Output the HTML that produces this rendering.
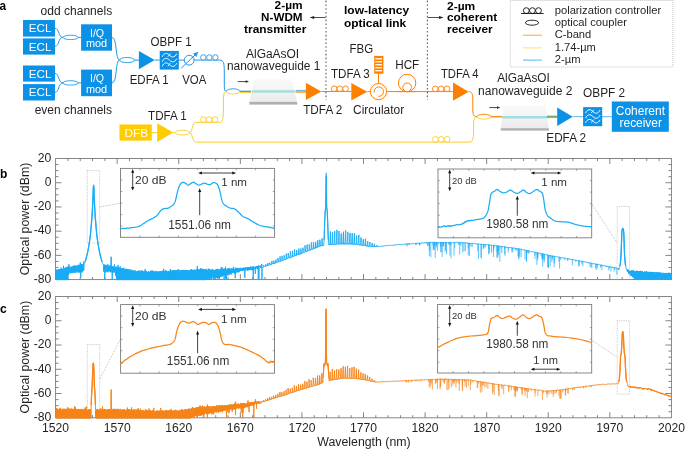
<!DOCTYPE html>
<html><head><meta charset="utf-8"><style>
html,body{margin:0;padding:0;background:#fff;}
svg{display:block;font-family:"Liberation Sans",sans-serif;will-change:transform;}
</style></head><body>
<svg width="685" height="449" viewBox="0 0 685 449">
<defs>
<linearGradient id="wg" x1="0" y1="0" x2="0" y2="1"><stop offset="0" stop-color="#FAFAFA"/><stop offset="0.5" stop-color="#F3F3F3"/><stop offset="1" stop-color="#EBEBEB"/></linearGradient>
<clipPath id="cb"><rect x="55.6" y="158.5" width="615.8" height="121.7"/></clipPath>
<clipPath id="cc"><rect x="55.6" y="296.5" width="615.8" height="121.9"/></clipPath>
</defs>
<rect width="685" height="449" fill="#fff"/>
<text x="-0.4" y="9.6" font-size="12" font-weight="bold" fill="#000" textLength="6.6" lengthAdjust="spacingAndGlyphs">a</text>
<text x="40.6" y="14.6" font-size="12" font-weight="normal" fill="#231F20" textLength="71.6" lengthAdjust="spacingAndGlyphs">odd channels</text>
<rect x="23" y="20" width="32" height="16.6" fill="#0B91E6"/>
<text x="28.8" y="32.3" font-size="11.3" font-weight="normal" fill="#fff" textLength="22.7" lengthAdjust="spacingAndGlyphs">ECL</text>
<rect x="23" y="38.4" width="32" height="16.2" fill="#0B91E6"/>
<text x="28.8" y="50.7" font-size="11.3" font-weight="normal" fill="#fff" textLength="22.7" lengthAdjust="spacingAndGlyphs">ECL</text>
<rect x="23" y="65.5" width="32" height="16.1" fill="#0B91E6"/>
<text x="28.8" y="77.8" font-size="11.3" font-weight="normal" fill="#fff" textLength="22.7" lengthAdjust="spacingAndGlyphs">ECL</text>
<rect x="23" y="84.1" width="32" height="16.4" fill="#0B91E6"/>
<text x="28.8" y="96.4" font-size="11.3" font-weight="normal" fill="#fff" textLength="22.7" lengthAdjust="spacingAndGlyphs">ECL</text>
<rect x="81.1" y="24.3" width="30.9" height="26.4" fill="#0B91E6"/>
<text x="90" y="36.7" font-size="11.5" font-weight="normal" fill="#fff" textLength="14.1" lengthAdjust="spacingAndGlyphs">I/Q</text>
<text x="85.9" y="47.2" font-size="11.5" font-weight="normal" fill="#fff" textLength="21.2" lengthAdjust="spacingAndGlyphs">mod</text>
<rect x="81.1" y="69.6" width="30.9" height="26.6" fill="#0B91E6"/>
<text x="90" y="82" font-size="11.5" font-weight="normal" fill="#fff" textLength="14.1" lengthAdjust="spacingAndGlyphs">I/Q</text>
<text x="85.9" y="92.5" font-size="11.5" font-weight="normal" fill="#fff" textLength="21.2" lengthAdjust="spacingAndGlyphs">mod</text>
<text x="34.7" y="113.8" font-size="12" font-weight="normal" fill="#231F20" textLength="77.3" lengthAdjust="spacingAndGlyphs">even channels</text>
<path d="M55,28.3 C59.5,28.3 58,37.4 63,37.4" stroke="#1E98E8" stroke-width="1.0" fill="none"/>
<path d="M55,46.3 C59.5,46.3 58,37.4 63,37.4" stroke="#1E98E8" stroke-width="1.0" fill="none"/>
<path d="M63,37.4 A7.6,2.2 0 0 1 78.2,37.4" stroke="#1E98E8" stroke-width="0.9" fill="none"/>
<path d="M63,37.4 A7.6,2.2 0 0 0 78.2,37.4" stroke="#1E98E8" stroke-width="0.9" fill="none"/>
<line x1="78.2" y1="37.4" x2="81.1" y2="37.4" stroke="#1E98E8" stroke-width="1.0"/>
<path d="M55,73.5 C59.5,73.5 58,82.9 63,82.9" stroke="#1E98E8" stroke-width="1.0" fill="none"/>
<path d="M55,92.3 C59.5,92.3 58,82.9 63,82.9" stroke="#1E98E8" stroke-width="1.0" fill="none"/>
<path d="M63,82.9 A7.6,2.2 0 0 1 78.2,82.9" stroke="#1E98E8" stroke-width="0.9" fill="none"/>
<path d="M63,82.9 A7.6,2.2 0 0 0 78.2,82.9" stroke="#1E98E8" stroke-width="0.9" fill="none"/>
<line x1="78.2" y1="82.9" x2="81.1" y2="82.9" stroke="#1E98E8" stroke-width="1.0"/>
<path d="M112,37.4 C117.5,37.4 115,60.1 119.6,60.1" stroke="#1E98E8" stroke-width="1.0" fill="none"/>
<path d="M112,82.9 C117.5,82.9 115,60.1 119.6,60.1" stroke="#1E98E8" stroke-width="1.0" fill="none"/>
<path d="M119.6,60.1 A7.5,2.6 0 0 1 134.6,60.1" stroke="#1E98E8" stroke-width="0.9" fill="none"/>
<path d="M119.6,60.1 A7.5,2.6 0 0 0 134.6,60.1" stroke="#1E98E8" stroke-width="0.9" fill="none"/>
<line x1="134.6" y1="60.1" x2="139" y2="60.1" stroke="#1E98E8" stroke-width="1.0"/>
<polygon points="138.9,50.9 154.7,60.1 138.9,69.3" fill="#0B91E6"/>
<line x1="154.7" y1="60.1" x2="159.7" y2="60.1" stroke="#1E98E8" stroke-width="1.0"/>
<rect x="159.7" y="50.9" width="19.1" height="18.7" fill="#0B91E6"/>
<path d="M162.18,56.81 C163.92,52.71 166.83,52.51 169.44,55.11 S174.67,57.71 176.7,53.71" stroke="#fff" stroke-width="0.95" fill="none"/>
<line x1="167.86" y1="56.71" x2="170.46" y2="53.51" stroke="#fff" stroke-width="0.9"/>
<path d="M162.18,61.76 C163.92,57.66 166.83,57.46 169.44,60.06 S174.67,62.66 176.7,58.66" stroke="#fff" stroke-width="0.95" fill="none"/>
<path d="M162.18,66.34 C163.92,62.24 166.83,62.04 169.44,64.64 S174.67,67.24 176.7,63.24" stroke="#fff" stroke-width="0.95" fill="none"/>
<line x1="167.86" y1="66.24" x2="170.46" y2="63.04" stroke="#fff" stroke-width="0.9"/>
<line x1="178.8" y1="60.1" x2="184.3" y2="60.1" stroke="#1E98E8" stroke-width="1.0"/>
<circle cx="189.2" cy="60.2" r="4.9" stroke="#1E98E8" stroke-width="1.0" fill="#fff"/>
<line x1="181.3" y1="68.1" x2="195.5" y2="54.5" stroke="#1E98E8" stroke-width="1.0"/>
<polygon points="198.4,51.7 196.29,56.89 193.13,53.59" fill="#1E98E8"/>
<path d="M194.1,60.1 L219.6,60.1 C223.6,60.1 224.3,63 224.3,72 L224.3,84 C224.3,90 225,91.4 226.3,91.4" stroke="#1E98E8" stroke-width="1.0" fill="none"/>
<circle cx="203.32" cy="57.4" r="2.7" stroke="#1E98E8" stroke-width="0.9" fill="#fff"/>
<circle cx="209.35" cy="57.4" r="2.7" stroke="#1E98E8" stroke-width="0.9" fill="#fff"/>
<circle cx="215.38" cy="57.4" r="2.7" stroke="#1E98E8" stroke-width="0.9" fill="#fff"/>
<text x="150.5" y="45.7" font-size="12" font-weight="normal" fill="#231F20" textLength="41.2" lengthAdjust="spacingAndGlyphs">OBPF 1</text>
<text x="129.7" y="83.8" font-size="12" font-weight="normal" fill="#231F20" textLength="38.9" lengthAdjust="spacingAndGlyphs">EDFA 1</text>
<text x="182.2" y="83.8" font-size="12" font-weight="normal" fill="#231F20" textLength="24.1" lengthAdjust="spacingAndGlyphs">VOA</text>
<rect x="119.5" y="124.5" width="32.3" height="16.1" fill="#FFCC00"/>
<text x="124.5" y="136.5" font-size="11.6" font-weight="normal" fill="#fff" textLength="23.6" lengthAdjust="spacingAndGlyphs">DFB</text>
<line x1="151.8" y1="132.6" x2="157.2" y2="132.6" stroke="#F9CF2A" stroke-width="1.0"/>
<polygon points="157.2,123.2 173.2,132.55 157.2,141.9" fill="#FFCC00"/>
<line x1="173.2" y1="132.6" x2="175.3" y2="132.6" stroke="#F9CF2A" stroke-width="1.0"/>
<path d="M175.3,132.6 A7.1,2.4 0 0 1 189.5,132.6" stroke="#F9CF2A" stroke-width="0.9" fill="none"/>
<path d="M175.3,132.6 A7.1,2.4 0 0 0 189.5,132.6" stroke="#F9CF2A" stroke-width="0.9" fill="none"/>
<path d="M189.5,132.6 C192.5,132.6 192,122.3 196,122.3 L219.6,122.3 C222.8,122.3 223.4,118 223.4,110 L223.4,100 C223.4,93 224.5,91.4 226.3,91.4" stroke="#F9CF2A" stroke-width="1.0" fill="none"/>
<path d="M189.5,132.6 C192.5,132.6 192,142.1 196,142.1 L470,142.1 C472.8,142.1 473.6,138 473.6,130 L473.6,124 C473.6,118.5 474.6,116.7 476.9,116.7" stroke="#F9CF2A" stroke-width="1.0" fill="none"/>
<circle cx="203.25" cy="119.5" r="2.8" stroke="#F9CF2A" stroke-width="0.9" fill="#fff"/>
<circle cx="209.15" cy="119.5" r="2.8" stroke="#F9CF2A" stroke-width="0.9" fill="#fff"/>
<circle cx="215.05" cy="119.5" r="2.8" stroke="#F9CF2A" stroke-width="0.9" fill="#fff"/>
<circle cx="435.42" cy="139.3" r="2.8" stroke="#F9CF2A" stroke-width="0.9" fill="#fff"/>
<circle cx="441.25" cy="139.3" r="2.8" stroke="#F9CF2A" stroke-width="0.9" fill="#fff"/>
<circle cx="447.08" cy="139.3" r="2.8" stroke="#F9CF2A" stroke-width="0.9" fill="#fff"/>
<text x="148.1" y="120.1" font-size="12" font-weight="normal" fill="#231F20" textLength="38.6" lengthAdjust="spacingAndGlyphs">TDFA 1</text>
<path d="M226.2,91.4 A6.8,2.6 0 0 1 239.8,91.4" stroke="#1E98E8" stroke-width="0.9" fill="none"/>
<path d="M226.2,91.4 A6.8,2.6 0 0 0 239.8,91.4" stroke="#F9CF2A" stroke-width="0.9" fill="none"/>
<line x1="239.8" y1="90.7" x2="251" y2="90.7" stroke="#9CCFF2" stroke-width="0.7"/>
<line x1="239.8" y1="92.4" x2="251" y2="92.4" stroke="#F9CF2A" stroke-width="1.0"/>
<line x1="239.8" y1="91.45" x2="251" y2="91.45" stroke="#3F9488" stroke-width="0.9"/>
<polygon points="254.2,78.9 291.6,78.9 297.2,101.9 249.3,101.9" fill="url(#wg)"/>
<rect x="249.3" y="101.9" width="47.9" height="2.7" fill="#B0B0B0"/>
<rect x="252" y="90.15" width="43" height="2.5" fill="#A2DEDF" rx="1.2"/>
<line x1="237.8" y1="81.6" x2="246.48" y2="81.6" stroke="#333" stroke-width="0.9"/>
<polygon points="249,81.6 245.68,83 245.68,80.2" fill="#333"/>
<line x1="295.6" y1="90.4" x2="306.2" y2="90.4" stroke="#3DA8EE" stroke-width="0.9"/>
<line x1="295.6" y1="92.2" x2="306.2" y2="92.2" stroke="#FF8000" stroke-width="0.9"/>
<line x1="295.6" y1="91.3" x2="306.2" y2="91.3" stroke="#B8BE3A" stroke-width="0.9"/>
<polygon points="305.9,82.7 321.3,91.4 305.9,100.1" fill="#FF8000"/>
<line x1="321.3" y1="91.5" x2="351.5" y2="91.5" stroke="#FF8000" stroke-width="1.0"/>
<circle cx="334.15" cy="88.7" r="2.8" stroke="#FF8000" stroke-width="0.9" fill="#fff"/>
<circle cx="339.85" cy="88.7" r="2.8" stroke="#FF8000" stroke-width="0.9" fill="#fff"/>
<circle cx="345.55" cy="88.7" r="2.8" stroke="#FF8000" stroke-width="0.9" fill="#fff"/>
<polygon points="351.3,82.9 367.3,91.7 351.3,100.5" fill="#FF8000"/>
<line x1="367.3" y1="91.6" x2="370.4" y2="91.6" stroke="#FF8000" stroke-width="1.0"/>
<circle cx="378.5" cy="91.6" r="8.1" stroke="#FF8000" stroke-width="1.0" fill="#fff"/>
<path d="M374.2,92.6 A4.7,4.7 0 1 1 378.3,96.3" stroke="#FF8000" stroke-width="1.0" fill="none"/>
<line x1="378.5" y1="83.5" x2="378.5" y2="73.7" stroke="#FF8000" stroke-width="1.0"/>
<rect x="374.2" y="55.9" width="9.2" height="17.8" fill="#FF8000"/>
<line x1="375.3" y1="58.8" x2="382" y2="58.8" stroke="#fff" stroke-width="1.3"/>
<line x1="375.3" y1="61.78" x2="382" y2="61.78" stroke="#fff" stroke-width="1.3"/>
<line x1="375.3" y1="64.76" x2="382" y2="64.76" stroke="#fff" stroke-width="1.3"/>
<line x1="375.3" y1="67.74" x2="382" y2="67.74" stroke="#fff" stroke-width="1.3"/>
<line x1="375.3" y1="70.72" x2="382" y2="70.72" stroke="#fff" stroke-width="1.3"/>
<line x1="386.6" y1="91.6" x2="453.2" y2="91.6" stroke="#FF8000" stroke-width="1.0"/>
<circle cx="407.1" cy="83" r="8.7" stroke="#FF8000" stroke-width="1.0" fill="#fff"/>
<circle cx="407.1" cy="87.3" r="4.3" stroke="#FF8000" stroke-width="1.0" fill="#fff"/>
<line x1="398.4" y1="91.6" x2="416" y2="91.6" stroke="#FF8000" stroke-width="1.0"/>
<circle cx="435.25" cy="88.8" r="2.8" stroke="#FF8000" stroke-width="0.9" fill="#fff"/>
<circle cx="441.15" cy="88.8" r="2.8" stroke="#FF8000" stroke-width="0.9" fill="#fff"/>
<circle cx="447.05" cy="88.8" r="2.8" stroke="#FF8000" stroke-width="0.9" fill="#fff"/>
<polygon points="453,82.5 468.7,91.65 453,100.8" fill="#FF8000"/>
<path d="M468.7,91.6 C471.5,91.6 472.8,93 472.8,100 L472.8,110 C472.8,115.3 474.4,116.7 476.9,116.7" stroke="#FF8000" stroke-width="1.0" fill="none"/>
<path d="M476.9,116.7 A7.1,2.4 0 0 1 491.1,116.7" stroke="#FF8000" stroke-width="0.9" fill="none"/>
<path d="M476.9,116.7 A7.1,2.4 0 0 0 491.1,116.7" stroke="#F9CF2A" stroke-width="0.9" fill="none"/>
<line x1="491" y1="116.4" x2="502" y2="116.4" stroke="#FF8000" stroke-width="1.0"/>
<line x1="491" y1="117.4" x2="502" y2="117.4" stroke="#FFCF1A" stroke-width="0.9"/>
<polygon points="503.8,105.1 545.3,105.1 548.9,128.2 500.8,128.2" fill="url(#wg)"/>
<rect x="500.8" y="128.2" width="48.1" height="2.4" fill="#B0B0B0"/>
<rect x="501.6" y="115.95" width="47.1" height="2.5" fill="#A2DEDF" rx="1.2"/>
<line x1="489.3" y1="107.6" x2="497.78" y2="107.6" stroke="#333" stroke-width="0.9"/>
<polygon points="500.3,107.6 496.98,109 496.98,106.2" fill="#333"/>
<line x1="547" y1="115.6" x2="557.5" y2="115.6" stroke="#9FD3F5" stroke-width="0.8"/>
<line x1="547" y1="117.5" x2="557.5" y2="117.5" stroke="#FF9200" stroke-width="1.0"/>
<line x1="547" y1="116.5" x2="557.5" y2="116.5" stroke="#6FA35A" stroke-width="0.9"/>
<polygon points="557.2,107.5 572.7,116.7 557.2,125.9" fill="#0B91E6"/>
<line x1="572.7" y1="116.7" x2="611.8" y2="116.7" stroke="#5DB7EE" stroke-width="1.0"/>
<rect x="583.1" y="107.1" width="19.1" height="19.1" fill="#0B91E6"/>
<path d="M585.58,113.1 C587.32,109 590.23,108.8 592.84,111.4 S598.07,114 600.1,110" stroke="#fff" stroke-width="0.95" fill="none"/>
<line x1="591.26" y1="113" x2="593.86" y2="109.8" stroke="#fff" stroke-width="0.9"/>
<path d="M585.58,118.16 C587.32,114.06 590.23,113.86 592.84,116.46 S598.07,119.06 600.1,115.06" stroke="#fff" stroke-width="0.95" fill="none"/>
<path d="M585.58,122.84 C587.32,118.74 590.23,118.54 592.84,121.14 S598.07,123.74 600.1,119.74" stroke="#fff" stroke-width="0.95" fill="none"/>
<line x1="591.26" y1="122.74" x2="593.86" y2="119.54" stroke="#fff" stroke-width="0.9"/>
<rect x="611.8" y="101.5" width="57" height="30.3" fill="#0B91E6"/>
<text x="615.8" y="115.4" font-size="12" font-weight="normal" fill="#fff" textLength="49.2" lengthAdjust="spacingAndGlyphs">Coherent</text>
<text x="619.6" y="127" font-size="12" font-weight="normal" fill="#fff" textLength="42.3" lengthAdjust="spacingAndGlyphs">receiver</text>
<text x="246" y="58" font-size="12" font-weight="normal" fill="#231F20" textLength="53.2" lengthAdjust="spacingAndGlyphs">AlGaAsOI</text>
<text x="227" y="70.2" font-size="12" font-weight="normal" fill="#231F20" textLength="93.3" lengthAdjust="spacingAndGlyphs">nanowaveguide 1</text>
<text x="303.2" y="113.8" font-size="12" font-weight="normal" fill="#231F20" textLength="39.2" lengthAdjust="spacingAndGlyphs">TDFA 2</text>
<text x="349.5" y="53.2" font-size="12" font-weight="normal" fill="#231F20" textLength="23.6" lengthAdjust="spacingAndGlyphs">FBG</text>
<text x="395.2" y="69.2" font-size="12" font-weight="normal" fill="#231F20" textLength="24.1" lengthAdjust="spacingAndGlyphs">HCF</text>
<text x="331" y="77.8" font-size="12" font-weight="normal" fill="#231F20" textLength="38.7" lengthAdjust="spacingAndGlyphs">TDFA 3</text>
<text x="353.1" y="113.8" font-size="12" font-weight="normal" fill="#231F20" textLength="51.1" lengthAdjust="spacingAndGlyphs">Circulator</text>
<text x="441" y="78.1" font-size="12" font-weight="normal" fill="#231F20" textLength="37.5" lengthAdjust="spacingAndGlyphs">TDFA 4</text>
<text x="497.2" y="82.1" font-size="12" font-weight="normal" fill="#231F20" textLength="52.7" lengthAdjust="spacingAndGlyphs">AlGaAsOI</text>
<text x="478.1" y="94.7" font-size="12" font-weight="normal" fill="#231F20" textLength="94.3" lengthAdjust="spacingAndGlyphs">nanowaveguide 2</text>
<text x="546.3" y="141.6" font-size="12" font-weight="normal" fill="#231F20" textLength="39.8" lengthAdjust="spacingAndGlyphs">EDFA 2</text>
<text x="583.1" y="96.7" font-size="12" font-weight="normal" fill="#231F20" textLength="42.1" lengthAdjust="spacingAndGlyphs">OBPF 2</text>
<text x="274.6" y="9.2" font-size="11.3" font-weight="bold" fill="#000" textLength="28" lengthAdjust="spacingAndGlyphs">2-µm</text>
<text x="261.1" y="21.1" font-size="11.3" font-weight="bold" fill="#000" textLength="41.5" lengthAdjust="spacingAndGlyphs">N-WDM</text>
<text x="244.1" y="33" font-size="11.3" font-weight="bold" fill="#000" textLength="62.2" lengthAdjust="spacingAndGlyphs">transmitter</text>
<text x="344" y="14.4" font-size="11.3" font-weight="bold" fill="#000" textLength="65.2" lengthAdjust="spacingAndGlyphs">low-latency</text>
<text x="344" y="26.7" font-size="11.3" font-weight="bold" fill="#000" textLength="62.2" lengthAdjust="spacingAndGlyphs">optical link</text>
<text x="447" y="9.5" font-size="11.3" font-weight="bold" fill="#000" textLength="28.2" lengthAdjust="spacingAndGlyphs">2-µm</text>
<text x="447" y="21.2" font-size="11.3" font-weight="bold" fill="#000" textLength="50.1" lengthAdjust="spacingAndGlyphs">coherent</text>
<text x="447" y="32.8" font-size="11.3" font-weight="bold" fill="#000" textLength="45.7" lengthAdjust="spacingAndGlyphs">receiver</text>
<line x1="326" y1="0.6" x2="326" y2="100" stroke="#666" stroke-width="1.15" stroke-dasharray="1.6,2.2"/>
<line x1="427.4" y1="0.6" x2="427.4" y2="100" stroke="#666" stroke-width="1.15" stroke-dasharray="1.6,2.2"/>
<line x1="325.5" y1="17.5" x2="312.96" y2="17.5" stroke="#222" stroke-width="0.8"/>
<polygon points="309.6,17.5 314.16,15.99 314.16,19.01" fill="#222"/>
<line x1="427.9" y1="17.5" x2="440.24" y2="17.5" stroke="#222" stroke-width="0.8"/>
<polygon points="443.6,17.5 439.04,19.01 439.04,15.99" fill="#222"/>
<rect x="510.3" y="0.5" width="162.5" height="66.5" fill="none" stroke="#aaa" stroke-width="0.7" stroke-dasharray="1,1"/>
<line x1="521" y1="13.5" x2="543.6" y2="13.5" stroke="#111" stroke-width="0.9"/>
<circle cx="526.3" cy="10.6" r="2.9" stroke="#111" stroke-width="0.9" fill="none"/>
<circle cx="532.4" cy="10.6" r="2.9" stroke="#111" stroke-width="0.9" fill="none"/>
<circle cx="538.5" cy="10.6" r="2.9" stroke="#111" stroke-width="0.9" fill="none"/>
<ellipse cx="532" cy="22.7" rx="6.6" ry="2.5" stroke="#111" stroke-width="0.9" fill="none"/>
<line x1="523" y1="35.2" x2="541.9" y2="35.2" stroke="#FF8A1C" stroke-width="0.8"/>
<line x1="523" y1="47.9" x2="541.9" y2="47.9" stroke="#FFD84D" stroke-width="0.8"/>
<line x1="523" y1="60.1" x2="541.9" y2="60.1" stroke="#2C9EEE" stroke-width="0.8"/>
<text x="554.7" y="13.5" font-size="10.6" font-weight="normal" fill="#231F20" textLength="106.5" lengthAdjust="spacingAndGlyphs">polarization controller</text>
<text x="554.7" y="25.7" font-size="10.6" font-weight="normal" fill="#231F20" textLength="72.2" lengthAdjust="spacingAndGlyphs">optical coupler</text>
<text x="554.7" y="37.9" font-size="10.6" font-weight="normal" fill="#231F20" textLength="36.6" lengthAdjust="spacingAndGlyphs">C-band</text>
<text x="554.7" y="50.5" font-size="10.6" font-weight="normal" fill="#231F20" textLength="41.2" lengthAdjust="spacingAndGlyphs">1.74-µm</text>
<text x="554.7" y="62.7" font-size="10.6" font-weight="normal" fill="#231F20" textLength="25.8" lengthAdjust="spacingAndGlyphs">2-µm</text>
<rect x="55.6" y="158.5" width="615.8" height="121.1" fill="none" stroke="#7A7A7A" stroke-width="0.9"/>
<path d="M67.92,279.6v-2.6M67.92,158.5v2.6M80.23,279.6v-2.6M80.23,158.5v2.6M92.55,279.6v-2.6M92.55,158.5v2.6M104.86,279.6v-2.6M104.86,158.5v2.6M117.18,279.6v-5.5M117.18,158.5v5.5M129.5,279.6v-2.6M129.5,158.5v2.6M141.81,279.6v-2.6M141.81,158.5v2.6M154.13,279.6v-2.6M154.13,158.5v2.6M166.44,279.6v-2.6M166.44,158.5v2.6M178.76,279.6v-5.5M178.76,158.5v5.5M191.08,279.6v-2.6M191.08,158.5v2.6M203.39,279.6v-2.6M203.39,158.5v2.6M215.71,279.6v-2.6M215.71,158.5v2.6M228.02,279.6v-2.6M228.02,158.5v2.6M240.34,279.6v-5.5M240.34,158.5v5.5M252.66,279.6v-2.6M252.66,158.5v2.6M264.97,279.6v-2.6M264.97,158.5v2.6M277.29,279.6v-2.6M277.29,158.5v2.6M289.6,279.6v-2.6M289.6,158.5v2.6M301.92,279.6v-5.5M301.92,158.5v5.5M314.24,279.6v-2.6M314.24,158.5v2.6M326.55,279.6v-2.6M326.55,158.5v2.6M338.87,279.6v-2.6M338.87,158.5v2.6M351.18,279.6v-2.6M351.18,158.5v2.6M363.5,279.6v-5.5M363.5,158.5v5.5M375.82,279.6v-2.6M375.82,158.5v2.6M388.13,279.6v-2.6M388.13,158.5v2.6M400.45,279.6v-2.6M400.45,158.5v2.6M412.76,279.6v-2.6M412.76,158.5v2.6M425.08,279.6v-5.5M425.08,158.5v5.5M437.4,279.6v-2.6M437.4,158.5v2.6M449.71,279.6v-2.6M449.71,158.5v2.6M462.03,279.6v-2.6M462.03,158.5v2.6M474.34,279.6v-2.6M474.34,158.5v2.6M486.66,279.6v-5.5M486.66,158.5v5.5M498.98,279.6v-2.6M498.98,158.5v2.6M511.29,279.6v-2.6M511.29,158.5v2.6M523.61,279.6v-2.6M523.61,158.5v2.6M535.92,279.6v-2.6M535.92,158.5v2.6M548.24,279.6v-5.5M548.24,158.5v5.5M560.56,279.6v-2.6M560.56,158.5v2.6M572.87,279.6v-2.6M572.87,158.5v2.6M585.19,279.6v-2.6M585.19,158.5v2.6M597.5,279.6v-2.6M597.5,158.5v2.6M609.82,279.6v-5.5M609.82,158.5v5.5M622.14,279.6v-2.6M622.14,158.5v2.6M634.45,279.6v-2.6M634.45,158.5v2.6M646.77,279.6v-2.6M646.77,158.5v2.6M659.08,279.6v-2.6M659.08,158.5v2.6M55.6,273.55h3M671.4,273.55h-3M55.6,267.49h3M671.4,267.49h-3M55.6,261.44h3M671.4,261.44h-3M55.6,255.38h6M671.4,255.38h-6M55.6,249.33h3M671.4,249.33h-3M55.6,243.27h3M671.4,243.27h-3M55.6,237.22h3M671.4,237.22h-3M55.6,231.16h6M671.4,231.16h-6M55.6,225.11h3M671.4,225.11h-3M55.6,219.05h3M671.4,219.05h-3M55.6,213h3M671.4,213h-3M55.6,206.94h6M671.4,206.94h-6M55.6,200.89h3M671.4,200.89h-3M55.6,194.83h3M671.4,194.83h-3M55.6,188.78h3M671.4,188.78h-3M55.6,182.72h6M671.4,182.72h-6M55.6,176.67h3M671.4,176.67h-3M55.6,170.61h3M671.4,170.61h-3M55.6,164.56h3M671.4,164.56h-3" stroke="#6f6f6f" stroke-width="0.85" fill="none"/>
<text x="37.8" y="161.8" font-size="12" font-weight="normal" fill="#231F20" textLength="13.6" lengthAdjust="spacingAndGlyphs">20</text>
<text x="44.7" y="186.02" font-size="12" font-weight="normal" fill="#231F20" textLength="6.7" lengthAdjust="spacingAndGlyphs">0</text>
<text x="33.8" y="210.24" font-size="12" font-weight="normal" fill="#231F20" textLength="17.6" lengthAdjust="spacingAndGlyphs">-20</text>
<text x="33.8" y="234.46" font-size="12" font-weight="normal" fill="#231F20" textLength="17.6" lengthAdjust="spacingAndGlyphs">-40</text>
<text x="33.8" y="258.68" font-size="12" font-weight="normal" fill="#231F20" textLength="17.6" lengthAdjust="spacingAndGlyphs">-60</text>
<text x="33.8" y="282.9" font-size="12" font-weight="normal" fill="#231F20" textLength="17.6" lengthAdjust="spacingAndGlyphs">-80</text>
<text transform="translate(28.6,275.35) rotate(-90)" font-size="12.6" fill="#231F20" textLength="112.7" lengthAdjust="spacingAndGlyphs">Optical power (dBm)</text>
<text x="0" y="178.1" font-size="12" font-weight="bold" fill="#000">b</text>
<rect x="55.6" y="296.5" width="615.8" height="121.3" fill="none" stroke="#7A7A7A" stroke-width="0.9"/>
<path d="M67.92,417.8v-2.6M67.92,296.5v2.6M80.23,417.8v-2.6M80.23,296.5v2.6M92.55,417.8v-2.6M92.55,296.5v2.6M104.86,417.8v-2.6M104.86,296.5v2.6M117.18,417.8v-5.5M117.18,296.5v5.5M129.5,417.8v-2.6M129.5,296.5v2.6M141.81,417.8v-2.6M141.81,296.5v2.6M154.13,417.8v-2.6M154.13,296.5v2.6M166.44,417.8v-2.6M166.44,296.5v2.6M178.76,417.8v-5.5M178.76,296.5v5.5M191.08,417.8v-2.6M191.08,296.5v2.6M203.39,417.8v-2.6M203.39,296.5v2.6M215.71,417.8v-2.6M215.71,296.5v2.6M228.02,417.8v-2.6M228.02,296.5v2.6M240.34,417.8v-5.5M240.34,296.5v5.5M252.66,417.8v-2.6M252.66,296.5v2.6M264.97,417.8v-2.6M264.97,296.5v2.6M277.29,417.8v-2.6M277.29,296.5v2.6M289.6,417.8v-2.6M289.6,296.5v2.6M301.92,417.8v-5.5M301.92,296.5v5.5M314.24,417.8v-2.6M314.24,296.5v2.6M326.55,417.8v-2.6M326.55,296.5v2.6M338.87,417.8v-2.6M338.87,296.5v2.6M351.18,417.8v-2.6M351.18,296.5v2.6M363.5,417.8v-5.5M363.5,296.5v5.5M375.82,417.8v-2.6M375.82,296.5v2.6M388.13,417.8v-2.6M388.13,296.5v2.6M400.45,417.8v-2.6M400.45,296.5v2.6M412.76,417.8v-2.6M412.76,296.5v2.6M425.08,417.8v-5.5M425.08,296.5v5.5M437.4,417.8v-2.6M437.4,296.5v2.6M449.71,417.8v-2.6M449.71,296.5v2.6M462.03,417.8v-2.6M462.03,296.5v2.6M474.34,417.8v-2.6M474.34,296.5v2.6M486.66,417.8v-5.5M486.66,296.5v5.5M498.98,417.8v-2.6M498.98,296.5v2.6M511.29,417.8v-2.6M511.29,296.5v2.6M523.61,417.8v-2.6M523.61,296.5v2.6M535.92,417.8v-2.6M535.92,296.5v2.6M548.24,417.8v-5.5M548.24,296.5v5.5M560.56,417.8v-2.6M560.56,296.5v2.6M572.87,417.8v-2.6M572.87,296.5v2.6M585.19,417.8v-2.6M585.19,296.5v2.6M597.5,417.8v-2.6M597.5,296.5v2.6M609.82,417.8v-5.5M609.82,296.5v5.5M622.14,417.8v-2.6M622.14,296.5v2.6M634.45,417.8v-2.6M634.45,296.5v2.6M646.77,417.8v-2.6M646.77,296.5v2.6M659.08,417.8v-2.6M659.08,296.5v2.6M55.6,411.74h3M671.4,411.74h-3M55.6,405.67h3M671.4,405.67h-3M55.6,399.61h3M671.4,399.61h-3M55.6,393.54h6M671.4,393.54h-6M55.6,387.48h3M671.4,387.48h-3M55.6,381.41h3M671.4,381.41h-3M55.6,375.35h3M671.4,375.35h-3M55.6,369.28h6M671.4,369.28h-6M55.6,363.22h3M671.4,363.22h-3M55.6,357.15h3M671.4,357.15h-3M55.6,351.08h3M671.4,351.08h-3M55.6,345.02h6M671.4,345.02h-6M55.6,338.95h3M671.4,338.95h-3M55.6,332.89h3M671.4,332.89h-3M55.6,326.82h3M671.4,326.82h-3M55.6,320.76h6M671.4,320.76h-6M55.6,314.69h3M671.4,314.69h-3M55.6,308.63h3M671.4,308.63h-3M55.6,302.56h3M671.4,302.56h-3" stroke="#6f6f6f" stroke-width="0.85" fill="none"/>
<text x="37.8" y="299.8" font-size="12" font-weight="normal" fill="#231F20" textLength="13.6" lengthAdjust="spacingAndGlyphs">20</text>
<text x="44.7" y="324.06" font-size="12" font-weight="normal" fill="#231F20" textLength="6.7" lengthAdjust="spacingAndGlyphs">0</text>
<text x="33.8" y="348.32" font-size="12" font-weight="normal" fill="#231F20" textLength="17.6" lengthAdjust="spacingAndGlyphs">-20</text>
<text x="33.8" y="372.58" font-size="12" font-weight="normal" fill="#231F20" textLength="17.6" lengthAdjust="spacingAndGlyphs">-40</text>
<text x="33.8" y="396.84" font-size="12" font-weight="normal" fill="#231F20" textLength="17.6" lengthAdjust="spacingAndGlyphs">-60</text>
<text x="33.8" y="421.1" font-size="12" font-weight="normal" fill="#231F20" textLength="17.6" lengthAdjust="spacingAndGlyphs">-80</text>
<text transform="translate(28.6,413.45) rotate(-90)" font-size="12.6" fill="#231F20" textLength="112.7" lengthAdjust="spacingAndGlyphs">Optical power (dBm)</text>
<text x="0" y="313.1" font-size="12" font-weight="bold" fill="#000">c</text>
<text x="42.1" y="432.1" font-size="12" font-weight="normal" fill="#231F20" textLength="27" lengthAdjust="spacingAndGlyphs">1520</text>
<text x="103.68" y="432.1" font-size="12" font-weight="normal" fill="#231F20" textLength="27" lengthAdjust="spacingAndGlyphs">1570</text>
<text x="165.26" y="432.1" font-size="12" font-weight="normal" fill="#231F20" textLength="27" lengthAdjust="spacingAndGlyphs">1620</text>
<text x="226.84" y="432.1" font-size="12" font-weight="normal" fill="#231F20" textLength="27" lengthAdjust="spacingAndGlyphs">1670</text>
<text x="288.42" y="432.1" font-size="12" font-weight="normal" fill="#231F20" textLength="27" lengthAdjust="spacingAndGlyphs">1720</text>
<text x="350" y="432.1" font-size="12" font-weight="normal" fill="#231F20" textLength="27" lengthAdjust="spacingAndGlyphs">1770</text>
<text x="411.58" y="432.1" font-size="12" font-weight="normal" fill="#231F20" textLength="27" lengthAdjust="spacingAndGlyphs">1820</text>
<text x="473.16" y="432.1" font-size="12" font-weight="normal" fill="#231F20" textLength="27" lengthAdjust="spacingAndGlyphs">1870</text>
<text x="534.74" y="432.1" font-size="12" font-weight="normal" fill="#231F20" textLength="27" lengthAdjust="spacingAndGlyphs">1920</text>
<text x="596.32" y="432.1" font-size="12" font-weight="normal" fill="#231F20" textLength="27" lengthAdjust="spacingAndGlyphs">1970</text>
<text x="657.9" y="432.1" font-size="12" font-weight="normal" fill="#231F20" textLength="27" lengthAdjust="spacingAndGlyphs">2020</text>
<text x="317.2" y="445.5" font-size="12" font-weight="normal" fill="#231F20" textLength="93.5" lengthAdjust="spacingAndGlyphs">Wavelength (nm)</text>
<g clip-path="url(#cb)">
<path d="M55.7,270.35 55.82,280.1 56,269.68 56.12,280.1 56.3,269.58 56.42,280.1 56.6,270.14 56.72,280.1 56.9,271.29 57.02,280.1 57.2,270.74 57.32,280.1 57.5,270.12 57.62,280.1 57.8,271.16 57.92,280.1 58.1,269.32 58.22,280.1 58.4,269.4 58.52,280.1 58.7,269.79 58.82,280.1 59,268.98 59.12,280.1 59.3,269.79 59.42,280.1 59.6,269.78 59.72,280.1 59.9,270.31 60.02,280.1 60.2,269.82 60.32,280.1 60.5,269.18 60.62,280.1 60.8,269.43 60.92,280.1 61.1,267.53 61.22,280.1 61.4,269.67 61.52,280.1 61.7,269.89 61.82,280.1 62,269.25 62.12,280.1 62.3,269.22 62.42,280.1 62.6,269.7 62.72,280.1 62.9,269.92 63.02,280.1 63.2,268.1 63.32,280.1 63.5,265.79 63.62,280.1 63.8,268.34 63.92,280.1 64.1,267.87 64.22,280.1 64.4,269.73 64.52,280.1 64.7,268.21 64.82,280.1 65,269.6 65.12,280.1 65.3,267.83 65.42,280.1 65.6,268.51 65.72,280.1 65.9,267.28 66.02,280.1 66.2,268.57 66.32,280.1 66.5,268.38 66.62,280.1 66.8,267.2 66.92,280.1 67.1,269.1 67.22,278.3 67.4,268.26 67.52,277.97 67.7,266.54 67.82,279.35 68,268.27 68.12,275.68 68.3,267.03 68.42,274.47 68.6,266.88 68.72,274.06 68.9,264.15 69.02,273.44 69.2,266.62 69.32,271.32 69.5,267.12 69.62,271.52 69.8,268.3 69.92,271.4 70.1,268.41 70.22,271.55 70.4,267.55 70.52,273.3 70.7,266.87 70.82,272.22 71,268.55 71.12,272.76 71.3,266.59 71.42,271.03 71.6,267.21 71.72,273.04 71.9,268.18 72.02,272.03 72.2,267.83 72.32,270.77 72.5,266.84 72.62,272.75 72.8,266.17 72.92,272.78 73.1,268.1 73.22,271.74 73.4,265.72 73.52,271.77 73.7,266.67 73.82,272.53 74,266.27 74.12,272.38 74.3,265.82 74.42,271.86 74.6,267.61 74.72,271.72 74.9,265.32 75.02,272.94 75.2,265.73 75.32,271.53 75.5,266.5 75.62,272.63 75.8,265.79 75.92,271.59 76.1,266.96 76.22,271.3 76.4,266.3 76.52,271.47 76.7,267.27 76.82,270.42 77,266.29 77.12,272.41 77.3,265.22 77.42,271.05 77.6,266.98 77.72,271.04 77.9,266.88 78.02,270.28 78.2,265.87 78.32,272.23 78.5,265.88 78.62,271.81 78.8,264.62 78.92,272.54 79.1,266.01 79.22,270.09 79.4,266.79 79.52,272.43 79.7,265.04 79.82,270.22 80,264.95 80.12,271.04 80.3,262.42 80.42,272.26 80.6,265.73 80.72,277.73 80.9,265.23 81.02,270.07 81.2,264.39 81.32,272.08 81.5,264.14 81.62,271.57 81.8,264.65 81.92,272.54 82.1,263.93 82.22,271.8 82.4,266.08 82.52,271.16 82.7,265.78 82.82,270.5 83,264.53 83.12,270.6 83.3,264.09 83.42,270.31 83.6,261.46 83.72,270.45 83.9,264.9 84,264.7 84.1,264.5 84.2,264.3 84.3,264.1 84.4,263.9 84.5,263.7 84.6,263.5 84.7,263.18 84.8,262.86 84.9,262.55 85,262.23 85.1,261.91 85.2,261.59 85.3,261.27 85.4,260.95 85.5,260.64 85.6,260.32 85.7,260 85.8,259.63 85.9,259.25 86,258.88 86.1,258.5 86.2,258.13 86.3,257.75 86.4,257.38 86.5,257 86.6,256.63 86.7,256.25 86.8,255.88 86.9,255.5 87,255.04 87.1,254.58 87.2,254.13 87.3,253.67 87.4,253.21 87.5,252.75 87.6,252.29 87.7,251.83 87.8,251.38 87.9,250.92 88,250.46 88.1,250 88.2,249.42 88.3,248.83 88.4,248.25 88.5,247.67 88.6,247.08 88.7,246.5 88.8,245.92 88.9,245.33 89,244.75 89.1,244.17 89.2,243.58 89.3,243 89.4,242.27 89.5,241.55 89.6,240.82 89.7,240.09 89.8,239.36 89.9,238.64 90,237.91 90.1,237.18 90.2,236.45 90.3,235.73 90.4,235 90.5,233.89 90.6,232.78 90.7,231.67 90.8,230.56 90.9,229.44 91,228.33 91.1,227.22 91.2,226.11 91.3,225 91.4,223.75 91.5,222.5 91.6,221.25 91.7,220 91.8,218.75 91.9,217.5 92,216.25 92.1,215 92.2,213.2 92.3,211.4 92.4,209.6 92.5,207.8 92.6,206 92.7,203.8 92.8,201.6 92.9,199.4 93,197.2 93.1,195 93.2,191.5 93.3,188 93.4,187.03 93.5,186.07 93.6,185.1 93.7,186.07 93.8,187.03 93.9,188 94,191.5 94.1,195 94.2,197.2 94.3,199.4 94.4,201.6 94.5,203.8 94.6,206 94.7,207.8 94.8,209.6 94.9,211.4 95,213.2 95.1,215 95.2,216.25 95.3,217.5 95.4,218.75 95.5,220 95.6,221.25 95.7,222.5 95.8,223.75 95.9,225 96,226.11 96.1,227.22 96.2,228.33 96.3,229.44 96.4,230.56 96.5,231.67 96.6,232.78 96.7,233.89 96.8,235 96.9,235.73 97,236.45 97.1,237.18 97.2,237.91 97.3,238.64 97.4,239.36 97.5,240.09 97.6,240.82 97.7,241.55 97.8,242.27 97.9,243 98,243.58 98.1,244.17 98.2,244.75 98.3,245.33 98.4,245.92 98.5,246.5 98.6,247.08 98.7,247.67 98.8,248.25 98.9,248.83 99,249.42 99.1,250 99.2,250.46 99.3,250.92 99.4,251.37 99.5,251.83 99.6,252.29 99.7,252.75 99.8,253.21 99.9,253.67 100,254.12 100.1,254.58 100.2,255.04 100.3,255.5 100.4,255.87 100.5,256.25 100.6,256.62 100.7,257 100.8,257.37 100.9,257.75 101,258.12 101.1,258.5 101.2,258.87 101.3,259.25 101.4,259.62 101.5,260 101.6,260.32 101.7,260.64 101.8,260.95 101.9,261.27 102,261.59 102.1,261.91 102.2,262.23 102.3,262.55 102.4,262.86 102.5,263.18 102.6,263.5 102.7,263.7 102.8,263.9 102.9,264.1 103,264.3 103.1,264.5 103.2,264.7 103.3,264.9 103.4,265.1 103.5,265.3 103.6,265.5 103.7,264.72 103.82,271.74 104,264.83 104.12,270.79 104.3,266.58 104.42,272.17 104.6,265.46 104.72,280.1 104.9,264.6 105.02,272.17 105.2,265 105.32,270.37 105.5,266.22 105.62,271.45 105.8,264.92 105.92,272.18 106.1,266.76 106.22,270.28 106.4,265.94 106.52,270.33 106.7,266.14 106.82,270.63 107,264.87 107.12,272.12 107.3,266.2 107.42,270.71 107.6,264.93 107.72,271.17 107.9,264.35 108.02,272.27 108.2,266.79 108.32,270.04 108.5,266.02 108.62,270.58 108.8,266.26 108.92,270.67 109.1,266.4 109.22,270.87 109.4,266.9 109.52,271.41 109.7,265.62 109.82,270.15 110,265.44 110.12,270.2 110.3,266.1 110.42,272.11 110.6,265.86 110.72,272.33 110.9,256.9 111.05,256.9 111.2,256.9 111.35,256.9 111.5,266.92 111.62,272.15 111.8,266.92 111.92,271.63 112.1,266.16 112.22,280.1 112.4,267.89 112.52,271.02 112.7,266.64 112.82,270.33 113,266.87 113.12,272.73 113.3,268.06 113.42,272.25 113.6,267.35 113.72,270.5 113.9,268.13 114.02,270.56 114.2,265.77 114.32,271.06 114.5,264.21 114.62,271.78 114.8,267.07 114.92,272.33 115.1,267.14 115.22,273.02 115.4,266.98 115.52,274.21 115.7,268.93 115.82,275.6 116,266.7 116.12,275.98 116.3,268.46 116.42,277.41 116.6,266.7 116.72,280.1 116.9,267.08 117.02,280.1 117.2,268.91 117.32,280.1 117.5,267.5 117.62,280.1 117.8,269.25 117.92,280.1 118.1,264.94 118.22,280.1 118.4,268.22 118.52,280.1 118.7,268.08 118.82,280.1 119,269.25 119.12,280.1 119.3,267.52 119.42,280.1 119.6,268.96 119.72,280.1 119.9,268.93 120.02,280.1 120.2,266.42 120.32,280.1 120.5,269.7 120.62,280.1 120.8,267.86 120.92,280.1 121.1,269.29 121.22,280.1 121.4,268.93 121.52,280.1 121.7,268.27 121.82,280.1 122,268.51 122.12,280.1 122.3,269.39 122.42,280.1 122.6,268.47 122.72,280.1 122.9,269.65 123.02,280.1 123.2,269.21 123.32,280.1 123.5,268.69 123.62,280.1 123.8,267.66 123.92,280.1 124.1,269.83 124.22,280.1 124.4,270.02 124.52,280.1 124.7,270.64 124.82,280.1 125,268.92 125.12,280.1 125.3,269.13 125.42,280.1 125.6,268.93 125.72,280.1 125.9,270.14 126.02,280.1 126.2,269.54 126.32,280.1 126.5,268.82 126.62,280.1 126.8,270.87 126.92,280.1 127.1,271.17 127.22,280.1 127.4,269.28 127.52,280.1 127.7,268.97 127.82,280.1 128,269.84 128.12,280.1 128.3,269.01 128.42,280.1 128.6,271.36 128.72,280.1 128.9,269.62 129.02,280.1 129.2,271.15 129.32,280.1 129.5,270.37 129.62,280.1 129.8,269.76 129.92,280.1 130.1,269.43 130.22,280.1 130.4,271.15 130.52,280.1 130.7,271.68 130.82,280.1 131,271.68 131.12,280.1 131.3,271.88 131.42,280.1 131.6,271.36 131.72,280.1 131.9,269.71 132.02,280.1 132.2,271.28 132.32,280.1 132.5,270.38 132.62,280.1 132.8,272.16 132.92,280.1 133.1,270.96 133.22,280.1 133.4,270.43 133.52,280.1 133.7,272.02 133.82,280.1 134,270.89 134.12,280.1 134.3,271.45 134.42,280.1 134.6,270.71 134.72,280.1 134.9,271.06 135.02,280.1 135.2,272.67 135.32,280.1 135.5,270.54 135.62,280.1 135.8,271.39 135.92,280.1 136.1,271.81 136.22,280.1 136.4,272.36 136.52,280.1 136.7,272.35 136.82,280.1 137,271.24 137.12,280.1 137.3,270.94 137.42,280.1 137.6,272.47 137.72,280.1 137.9,271.31 138.02,280.1 138.2,270.92 138.32,280.1 138.5,272.75 138.62,280.1 138.8,272.34 138.92,280.1 139.1,270.48 139.22,280.1 139.4,270.84 139.52,280.1 139.7,272.63 139.82,280.1 140,271.48 140.12,280.1 140.3,272.68 140.42,280.1 140.6,271.9 140.72,280.1 140.9,270.76 141.02,280.1 141.2,271.86 141.32,280.1 141.5,270.46 141.62,280.1 141.8,270.88 141.92,280.1 142.1,272.35 142.22,280.1 142.4,270.69 142.52,280.1 142.7,271.5 142.82,280.1 143,271.44 143.12,280.1 143.3,272.75 143.42,280.1 143.6,271.33 143.72,280.1 143.9,272.87 144.02,280.1 144.2,272.23 144.32,280.1 144.5,272.65 144.62,280.1 144.8,271.47 144.92,280.1 145.1,269.24 145.22,280.1 145.4,270.82 145.52,280.1 145.7,271.72 145.82,280.1 146,271.77 146.12,280.1 146.3,271.7 146.42,280.1 146.6,271.01 146.72,280.1 146.9,272.88 147.02,280.1 147.2,272.77 147.32,280.1 147.5,272.04 147.62,280.1 147.8,272.44 147.92,280.1 148.1,272.59 148.22,280.1 148.4,271.09 148.52,280.1 148.7,271.49 148.82,280.1 149,272.32 149.12,280.1 149.3,271.94 149.42,280.1 149.6,272.6 149.72,280.1 149.9,271.92 150.02,280.1 150.2,271.61 150.32,280.1 150.5,272.19 150.62,280.1 150.8,270.67 150.92,280.1 151.1,271.19 151.22,280.1 151.4,271.73 151.52,280.1 151.7,270.89 151.82,280.1 152,270.86 152.12,280.1 152.3,270.74 152.42,280.1 152.6,272.41 152.72,280.1 152.9,270.79 153.02,280.1 153.2,272.95 153.32,280.1 153.5,273.06 153.62,280.1 153.8,271.14 153.92,280.1 154.1,272.98 154.22,280.1 154.4,272.58 154.52,280.1 154.7,271.54 154.82,280.1 155,272.85 155.12,280.1 155.3,271.05 155.42,280.1 155.6,271.21 155.72,280.1 155.9,270.94 156.02,280.1 156.2,272.97 156.32,280.1 156.5,271.13 156.62,280.1 156.8,272.01 156.92,280.1 157.1,272.84 157.22,280.1 157.4,272.87 157.52,280.1 157.7,272.27 157.82,280.1 158,271.4 158.12,280.1 158.3,271.63 158.42,280.1 158.6,271.2 158.72,280.1 158.9,272.75 159.02,280.1 159.2,273.15 159.32,280.1 159.5,271.44 159.62,280.1 159.8,272.27 159.92,280.1 160.1,272.94 160.22,280.1 160.4,272.34 160.52,280.1 160.7,271.02 160.82,280.1 161,272.15 161.12,280.1 161.3,272.23 161.42,280.1 161.6,272.97 161.72,280.1 161.9,270.93 162.02,280.1 162.2,272.57 162.32,280.1 162.5,270.7 162.62,280.1 162.8,271.5 162.92,280.1 163.1,272.89 163.22,280.1 163.4,271.2 163.52,280.1 163.7,268.85 163.82,280.1 164,271.92 164.12,280.1 164.3,271.06 164.42,280.1 164.6,272.11 164.72,280.1 164.9,271.3 165.02,280.1 165.2,272.67 165.32,280.1 165.5,270.54 165.62,280.1 165.8,271.63 165.92,280.1 166.1,271.04 166.22,280.1 166.4,270.57 166.52,280.1 166.7,272.13 166.82,280.1 167,271.09 167.12,280.1 167.3,272.33 167.42,280.1 167.6,271.96 167.72,280.1 167.9,271.74 168.02,280.1 168.2,272.18 168.32,280.1 168.5,271.16 168.62,280.1 168.8,270.93 168.92,280.1 169.1,272.01 169.22,280.1 169.4,271.46 169.52,280.1 169.7,272.37 169.82,280.1 170,271.67 170.12,280.1 170.3,269.05 170.42,280.1 170.6,270.33 170.72,280.1 170.9,271.08 171.02,280.1 171.2,270.34 171.32,280.1 171.5,271.9 171.62,280.1 171.8,271.63 171.92,280.1 172.1,272.16 172.22,280.1 172.4,272.26 172.52,280.1 172.7,270.42 172.82,280.1 173,270.23 173.12,280.1 173.3,271.66 173.42,280.1 173.6,270.52 173.72,280.1 173.9,270.6 174.02,280.1 174.2,270.14 174.32,280.1 174.5,271.79 174.62,280.1 174.8,272.37 174.92,280.1 175.1,270.29 175.22,280.1 175.4,271.89 175.52,280.1 175.7,271.31 175.82,280.1 176,270.22 176.12,280.1 176.3,269.99 176.42,280.1 176.6,270.84 176.72,280.1 176.9,271.87 177.02,280.1 177.2,270.77 177.32,280.1 177.5,272.19 177.62,280.1 177.8,271.59 177.92,280.1 178.1,269.06 178.22,280.1 178.4,271.77 178.52,280.1 178.7,270.83 178.82,280.1 179,270.06 179.12,280.1 179.3,270.33 179.42,280.1 179.6,271.02 179.72,280.1 179.9,270.37 180.02,280.1 180.2,271.6 180.32,280.1 180.5,270.61 180.62,280.1 180.8,271.78 180.92,280.1 181.1,270.15 181.22,280.1 181.4,271.12 181.52,280.1 181.7,271.84 181.82,280.1 182,270.42 182.12,280.1 182.3,270.06 182.42,280.1 182.6,270.45 182.72,280.1 182.9,270.44 183.02,280.1 183.2,271.39 183.32,280.1 183.5,269.87 183.62,280.1 183.8,271.52 183.92,280.1 184.1,270.07 184.22,280.1 184.4,270.08 184.52,280.1 184.7,270.52 184.82,280.1 185,270.75 185.12,280.1 185.3,269.88 185.42,280.1 185.6,271.3 185.72,280.1 185.9,270.88 186.02,280.1 186.2,270.04 186.32,280.1 186.5,271.33 186.62,280.1 186.8,271.09 186.92,280.1 187.1,270.2 187.22,280.1 187.4,270.44 187.52,280.1 187.7,270.93 187.82,280.1 188,270.49 188.12,280.1 188.3,271.01 188.42,280.1 188.6,270.94 188.72,280.1 188.9,270.53 189.02,280.1 189.2,270.64 189.32,280.1 189.5,271.58 189.62,280.1 189.8,270.69 189.92,280.1 190.1,270.52 190.22,280.1 190.4,270.53 190.52,280.1 190.7,269.77 190.82,280.1 191,271.08 191.12,280.1 191.3,269.27 191.42,280.1 191.6,269.25 191.72,280.1 191.9,270.88 192.02,280.1 192.2,269.73 192.32,280.1 192.5,270.44 192.62,280.1 192.8,270.1 192.92,280.1 193.1,271.01 193.22,280.1 193.4,270.26 193.52,280.1 193.7,271.43 193.82,280.1 194,271.06 194.12,280.1 194.3,269.79 194.42,280.1 194.6,271.07 194.72,280.1 194.9,269.7 195.02,280.1 195.2,270.06 195.32,280.1 195.5,270.76 195.62,280.1 195.8,269.73 195.92,280.1 196.1,270.52 196.22,280.1 196.4,271.21 196.52,280.1 196.7,270.95 196.82,280.1 197,269.29 197.12,280.1 197.3,266.12 197.42,280.1 197.6,269.52 197.72,280.1 197.9,269.47 198.02,280.1 198.2,269.26 198.32,280.1 198.5,269.28 198.62,280.1 198.8,270.74 198.92,280.1 199.1,270.74 199.22,280.1 199.4,270.49 199.52,280.1 199.7,269.87 199.82,280.1 200,269.43 200.12,280.1 200.3,268.58 200.42,280.1 200.6,269.98 200.72,280.1 200.9,268.35 201.02,280.1 201.2,270.15 201.32,280.1 201.5,269.7 201.62,280.1 201.8,268.98 201.92,280.1 202.1,268.87 202.22,280.1 202.4,271.04 202.52,280.1 202.7,270.03 202.82,280.1 203,268.88 203.12,280.1 203.3,269.61 203.42,280.1 203.6,269.94 203.72,280.1 203.9,269.31 204.02,280.1 204.2,270.13 204.32,280.1 204.5,270.79 204.62,280.1 204.8,269.45 204.92,280.1 205.1,270.37 205.22,280.1 205.4,269.56 205.52,280.1 205.7,270.32 205.82,280.1 206,270.53 206.12,279.37 206.3,268.81 206.42,277.94 206.6,270.69 206.72,277.88 206.9,270.47 207.02,278.86 207.2,269.9 207.32,279.75 207.5,270.99 207.62,277.27 207.8,270.15 207.92,278.24 208.1,269.83 208.22,279.12 208.4,268.89 208.52,277.79 208.7,268.71 208.82,276.85 209,269.94 209.12,277.55 209.3,269.15 209.42,278.82 209.6,269.01 209.72,279.05 209.9,269.38 210.02,278.94 210.2,270.51 210.32,278.82 210.5,270.5 210.62,278.36 210.8,270.48 210.92,279.02 211.1,270.55 211.22,279.02 211.4,270.18 211.52,278.53 211.7,269.67 211.82,277.82 212,270.69 212.12,277.41 212.3,268.95 212.42,276.73 212.6,270.25 212.72,277.26 212.9,269.83 213.02,277.02 213.2,270.95 213.32,278.69 213.5,269.81 213.62,279.57 213.8,270.75 213.92,277.95 214.1,270.74 214.22,278.94 214.4,270.71 214.52,276.24 214.7,270.26 214.82,278.02 215,270.6 215.12,278.28 215.3,270.65 215.42,276.19 215.6,270.05 215.72,277.89 215.9,269.23 216.02,276.88 216.2,270.04 216.32,275.73 216.5,269.05 216.62,277.76 216.8,269.63 216.92,278 217.1,270.88 217.22,277.36 217.4,269.82 217.52,275.9 217.7,268.81 217.82,278.39 218,270.89 218.12,278.44 218.3,269.75 218.42,277.1 218.6,270.34 218.72,276.69 218.9,269.18 219.02,277.68 219.2,269.64 219.32,278.94 219.5,270.5 219.62,277.32 219.8,270.61 219.92,276.65 220.1,270.61 220.22,276.68 220.4,269.93 220.52,276.9 220.7,268.79 220.82,277.09 221,269.27 221.12,274.89 221.3,267.01 221.42,275.48 221.6,269.51 221.72,275.41 221.9,267.07 222.02,276.55 222.2,269.3 222.32,276.16 222.5,269.45 222.62,275.97 222.8,268.9 222.92,274.46 223.1,269.11 223.22,275.99 223.4,269.46 223.52,274.25 223.7,269.26 223.82,274.68 224,268.48 224.12,280.1 224.3,269.79 224.42,274.07 224.6,269.88 224.72,274.36 224.9,268.7 225.02,274.98 225.2,268.97 225.32,274.12 225.5,266.74 225.62,278.46 225.8,269.24 225.92,279.24 226.1,269.56 226.22,275.47 226.4,269.28 226.52,280.1 226.7,269.45 226.82,274.01 227,270.44 227.12,274.78 227.3,268.49 227.42,274.42 227.6,269.59 227.72,273.17 227.9,268.74 228.02,275.54 228.2,269.96 228.32,273.94 228.5,269.52 228.62,273.18 228.8,268.35 228.92,274.01 229.1,268.52 229.22,273.7 229.4,268.56 229.52,274.68 229.7,270.44 229.82,272.9 230,269.12 230.12,274.07 230.3,268.96 230.42,272.82 230.6,270.09 230.72,273.45 230.9,270.36 231.02,273.07 231.2,268.07 231.32,274.51 231.5,270.4 231.62,272.9 231.8,270.18 231.92,272.79 232.1,269.67 232.22,271.99 232.4,268.62 232.52,271.84 232.7,268.73 232.82,272.64 233,269.21 233.12,272.71 233.3,268.26 233.42,272.94 233.6,266.89 233.72,272.34 233.9,269.49 234.02,272.63 234.2,269.38 234.32,273.09 234.5,269.12 234.62,273.57 234.8,269.94 234.92,272.29 235.1,270.22 235.22,278.16 235.4,267.72 235.52,271.5 235.7,268.35 235.82,272.87 236,268.64 236.12,271.04 236.3,269.02 236.42,271.18 236.6,269.64 236.72,272.67 236.9,267.75 237.02,271.66 237.2,269.09 237.32,270.63 237.5,268.61 237.62,270.92 237.8,268.62 237.92,271.84 238.1,269.7 238.22,272.09 238.4,267.99 238.52,272.25 238.7,268.4 238.82,269.98 239,268.63 239.12,272.17 239.3,268.78 239.42,270.86 239.6,268.81 239.72,271.14 239.9,268.97 240.02,270.34 240.2,267.77 240.32,270.57 240.5,269.62 240.62,270.82 240.8,269.88 240.92,269.84 241.1,268.23 241.22,270.55 241.4,269.6 241.52,269.31 241.7,268.44 241.82,270.47 242,267.87 242.12,270.19 242.3,269.78 242.42,270.63 242.6,268.11 242.72,270.85 242.9,268.77 243.02,270.32 243.2,267.98 243.32,269.03 243.5,268.31 243.62,269.58 243.8,267.54 243.92,269.37 244.1,269.18 244.22,270.58 244.4,268.11 244.52,271.09 244.7,268.64 244.82,277.88 245,268.62 245.12,269.7 245.3,267.31 245.42,270.42 245.6,269.15 245.72,268.76 245.9,269.45 246.02,269.32 246.2,267.89 246.32,269.09 246.5,267.55 246.62,268.6 246.8,268.46 246.92,270.02 247.1,267.24 247.22,270.06 247.4,267.51 247.52,270.8 247.7,267.83 247.82,270.61 248,268.97 248.12,268.71 248.3,267.31 248.42,269.81 248.6,267.39 248.72,270.14 248.9,267.16 249.02,268.42 249.2,267.69 249.32,270.09 249.5,267.06 249.62,269.9 249.8,267.65 249.92,269.75 250.1,266.89 250.22,269.67 250.4,266.91 250.52,269.16 250.7,266.76 250.82,270.03 251,267.24 251.12,268.34 251.3,268.59 251.42,270.13 251.6,268.08 251.72,268.49 251.9,267.04 252.02,268.5 252.2,266.68 252.32,270.01 252.5,266.76 252.62,270.49 252.8,267.86 252.92,268.44 253.1,266.9 253.22,280.1 253.4,268.11 253.52,267.6 253.7,266.32 253.82,267.69 254,268.36 254.12,267.86 254.3,267.92 254.42,269.31 254.6,267.1 254.72,267.62 254.9,267.55 255.02,267.65 255.2,267.24 255.32,273.79 255.5,267.9 255.62,266.84 255.8,267.23 255.92,268.3 256.1,266.37 256.22,267.36 256.4,266.42 256.52,267.95 256.7,266.65 256.82,268.64 257,266.57 257.12,267.02 257.3,267.33 257.42,266.94 257.6,265.96 257.72,269.26 257.9,266.12 258.02,268.44 258.2,266.73 258.32,280.1 258.5,265.22 258.62,267.18 258.8,266.7 258.92,280.1 259.1,267.03 259.22,266.82 259.4,266.04 259.52,266.45 259.7,266.12 259.82,266.2 260,265.77 260.12,266.39 260.3,265.77 260.42,267.26 260.6,266.17 260.72,268.01 260.9,266.75 261.02,265.78 261.2,266.39 261.32,267.23 261.5,265.36 261.62,266.8 261.8,264.02 261.92,280.1 262.1,267.19 262.2,267.3 262.3,267.58 262.4,267.51 262.5,267.29 262.6,267.19 262.7,267.34 262.8,267.24 262.9,267.16 263,267.08 263.1,267.1 263.2,267.18 263.3,267.22 263.4,267.23 263.5,266.82 263.6,265.51 263.7,265.76 263.8,265.57 263.9,265.83 264,266.06 264.1,266.28 264.2,266.48 264.3,266.69 264.4,266.58 264.5,266.62 264.6,266.65 264.7,266.51 264.8,266.4 264.9,266.31 265,266.4 265.1,266.43 265.2,266.65 265.3,266.59 265.4,266.53 265.5,266.55 265.6,266.51 265.7,264.46 265.8,264.3 265.9,264.7 266,265.03 266.1,265.33 266.2,265.62 266.3,265.9 266.4,266.07 266.5,266.13 266.6,265.72 266.7,266 266.8,265.93 266.9,265.74 267,265.84 267.1,266 267.2,265.73 267.3,265.78 267.4,265.57 267.5,265.56 267.6,265.79 267.7,263.17 267.8,263.42 267.9,263.5 268,263.93 268.1,264.33 268.2,264.7 268.3,265.06 268.4,265.1 268.5,265.14 268.6,265.35 268.7,265.2 268.8,264.99 268.9,265.24 269,265.06 269.1,265.13 269.2,265.02 269.3,265.04 269.4,265.02 269.5,264.91 269.6,264.73 269.7,262.74 269.8,263 269.9,262.93 270,263.33 270.1,263.67 270.2,264 270.3,264.31 270.4,264.6 270.5,264.46 270.6,264.78 270.7,264.58 270.8,264.32 270.9,264.66 271,264.33 271.1,264.21 271.2,264.4 271.3,264.22 271.4,264.31 271.5,264.31 271.6,264.11 271.7,264.25 271.8,261.04 271.9,260.93 272,261.64 272.1,262.21 272.2,262.73 272.3,263.22 272.4,263.69 272.5,263.75 272.6,263.91 272.7,263.92 272.8,263.63 272.9,263.76 273,263.56 273.1,263.71 273.2,263.89 273.3,263.7 273.4,263.74 273.5,263.73 273.6,263.38 273.7,263.78 273.8,260.61 273.9,260.87 274,260.97 274.1,261.51 274.2,261.98 274.3,262.43 274.4,262.85 274.5,263.25 274.6,263.34 274.7,263 274.8,263.33 274.9,263.07 275,262.93 275.1,263.29 275.2,263.06 275.3,263.13 275.4,262.78 275.5,263.06 275.6,262.67 275.7,262.73 275.8,262.76 275.9,259.58 276,259.53 276.1,260.23 276.2,260.81 276.3,261.34 276.4,261.84 276.5,262.33 276.6,262.31 276.7,262.57 276.8,262.34 276.9,262.35 277,262.52 277.1,262.35 277.2,262.54 277.3,262.38 277.4,262.47 277.5,262.28 277.6,262.42 277.7,262.36 277.8,261.98 277.9,257.93 278,258.18 278.1,258.52 278.2,259.3 278.3,259.99 278.4,260.64 278.5,261.25 278.6,261.84 278.7,261.96 278.8,261.73 278.9,261.9 279,261.83 279.1,261.87 279.2,261.48 279.3,261.57 279.4,261.72 279.5,261.79 279.6,261.65 279.7,261.27 279.8,261.52 279.9,261.23 280,256.42 280.1,256.4 280.2,257.52 280.3,258.42 280.4,259.23 280.5,259.99 280.6,260.72 280.7,261.17 280.8,261.26 280.9,260.88 281,261.25 281.1,261.09 281.2,260.84 281.3,260.77 281.4,260.86 281.5,261.02 281.6,260.86 281.7,260.59 281.8,260.5 281.9,260.51 282,255.84 282.1,256.1 282.2,256.43 282.3,257.35 282.4,258.15 282.5,258.89 282.6,259.58 282.7,260.25 282.8,260.53 282.9,260.18 283,260.33 283.1,260.16 283.2,260.33 283.3,260.14 283.4,259.98 283.5,260.31 283.6,260.11 283.7,260.14 283.8,260.17 283.9,260.2 284,259.7 284.1,255.28 284.2,255.54 284.3,256.1 284.4,256.95 284.5,257.7 284.6,258.41 284.7,259.07 284.8,259.57 284.9,259.44 285,259.58 285.1,259.73 285.2,259.65 285.3,259.23 285.4,259.27 285.5,259.55 285.6,259.45 285.7,259.27 285.8,259.27 285.9,259.08 286,259.38 286.1,259.12 286.2,253.65 286.3,253.74 286.4,254.94 286.5,255.92 286.6,256.8 286.7,257.64 286.8,258.43 286.9,259.07 287,258.9 287.1,258.6 287.2,258.69 287.3,258.59 287.4,258.9 287.5,258.71 287.6,258.4 287.7,258.42 287.8,258.48 287.9,258.5 288,258.52 288.1,258.39 288.2,253.07 288.3,253.33 288.4,253.67 288.5,254.7 288.6,255.59 288.7,256.4 288.8,257.17 288.9,257.9 289,258.04 289.1,257.83 289.2,258.08 289.3,257.92 289.4,257.73 289.5,257.91 289.6,258.14 289.7,257.63 289.8,257.65 289.9,257.87 290,257.64 290.1,257.6 290.2,257.68 290.3,251.38 290.4,251.64 290.5,252.36 290.6,253.53 290.7,254.56 290.8,255.51 290.9,256.42 291,257.28 291.1,257.23 291.2,257.35 291.3,257.29 291.4,257.47 291.5,257.45 291.6,256.93 291.7,257.16 291.8,257.23 291.9,257.24 292,257.16 292.1,257.05 292.2,257.01 292.3,256.84 292.4,250.88 292.5,251.14 292.6,252.01 292.7,253.1 292.8,254.08 292.9,254.98 293,255.85 293.1,256.51 293.2,256.73 293.3,256.73 293.4,256.73 293.5,256.56 293.6,256.34 293.7,256.53 293.8,256.48 293.9,256.33 294,256.36 294.1,256.18 294.2,256.24 294.3,256.13 294.4,255.92 294.5,249.48 294.6,249.37 294.7,250.91 294.8,252.1 294.9,253.17 295,254.17 295.1,255.13 295.2,255.77 295.3,255.73 295.4,256.02 295.5,255.73 295.6,255.64 295.7,255.54 295.8,255.5 295.9,255.52 296,255.38 296.1,255.28 296.2,255.67 296.3,255.43 296.4,255.39 296.5,255.41 296.6,250.11 296.7,250.12 296.8,251.27 296.9,252.2 297,253.05 297.1,253.84 297.2,254.59 297.3,254.99 297.4,254.88 297.5,254.8 297.6,254.88 297.7,254.84 297.8,255.02 297.9,254.89 298,255.05 298.1,254.71 298.2,254.97 298.3,254.76 298.4,254.47 298.5,254.49 298.6,254.65 298.7,248.63 298.8,248.77 298.9,250.05 299,251.1 299.1,252.05 299.2,252.95 299.3,253.8 299.4,254.56 299.5,254.21 299.6,254.38 299.7,254.17 299.8,254.36 299.9,253.92 300,254.09 300.1,254.26 300.2,253.91 300.3,253.86 300.4,253.7 300.5,253.73 300.6,253.74 300.7,253.92 300.8,248.48 300.9,248.61 301,249.74 301.1,250.67 301.2,251.52 301.3,252.31 301.4,253.06 301.5,253.36 301.6,253.41 301.7,253.27 301.8,253.43 301.9,253.52 302,253.37 302.1,253.11 302.2,253.34 302.3,253.41 302.4,253.19 302.5,252.89 302.6,253.21 302.7,253.21 302.8,252.9 302.9,247.63 303,247.74 303.1,248.87 303.2,249.81 303.3,250.65 303.4,251.44 303.5,252.2 303.6,252.48 303.7,252.46 303.8,252.6 303.9,252.73 304,252.57 304.1,252.67 304.2,252.28 304.3,252.29 304.4,252.46 304.5,252.37 304.6,252.21 304.7,252.31 304.8,252.1 304.9,251.92 305,245.39 305.1,245.52 305.2,246.97 305.3,248.15 305.4,249.22 305.5,250.22 305.6,251.17 305.7,251.78 305.8,251.55 305.9,251.8 306,251.62 306.1,251.66 306.2,251.67 306.3,251.46 306.4,251.52 306.5,251.26 306.6,251.67 306.7,251.45 306.8,251.62 306.9,251.12 307,251.36 307.1,244.7 307.2,244.65 307.3,246.13 307.4,247.29 307.5,248.34 307.6,249.32 307.7,250.24 307.8,251.09 307.9,250.85 308,250.7 308.1,250.69 308.2,250.64 308.3,250.91 308.4,250.53 308.5,250.86 308.6,250.62 308.7,250.64 308.8,250.62 308.9,250.57 309,250.58 309.1,250.51 309.2,244.4 309.3,244.65 309.4,245.55 309.5,246.63 309.6,247.59 309.7,248.49 309.8,249.34 309.9,250.06 310,250.22 310.1,249.94 310.2,250.13 310.3,250.11 310.4,250.08 310.5,249.8 310.6,250 310.7,250.06 310.8,249.76 310.9,249.63 311,249.71 311.1,249.88 311.2,249.44 311.3,242.4 311.4,242.65 311.5,243.59 311.6,244.9 311.7,246.06 311.8,247.13 311.9,248.15 312,249.12 312.1,249.01 312.2,249.21 312.3,249.26 312.4,249.28 312.5,249.03 312.6,249.3 312.7,248.88 312.8,249.11 312.9,248.73 313,248.66 313.1,248.68 313.2,248.6 313.3,248.78 313.4,242.19 313.5,242.44 313.6,242.99 313.7,244.23 313.8,245.3 313.9,246.28 314,247.2 314.1,248.08 314.2,248.45 314.3,248.22 314.4,248.56 314.5,248.23 314.6,248.08 314.7,248.06 314.8,248.3 314.9,248.35 315,247.93 315.1,247.82 315.2,248.16 315.3,247.85 315.4,248.18 315.5,247.9 315.6,241.83 315.7,242.02 315.8,243.28 315.9,244.33 316,245.28 316.1,246.17 316.2,247.02 316.3,247.65 316.4,247.46 316.5,247.65 316.6,247.44 316.7,247.33 316.8,247.58 316.9,247.14 317,247.42 317.1,247.04 317.2,247.29 317.3,247.13 317.4,247.32 317.5,246.88 317.6,247.09 317.7,240.11 317.8,240.36 317.9,241.47 318,242.7 318.1,243.8 318.2,244.82 318.3,245.79 318.4,246.72 318.5,246.65 318.6,246.87 318.7,246.84 318.8,246.64 318.9,246.4 319,246.38 319.1,246.34 319.2,246.39 319.3,246.25 319.4,246.19 319.5,246.43 319.6,246.33 319.7,246.12 319.8,239.76 319.9,240.02 320,240.62 320.1,241.82 320.2,242.87 320.3,243.84 320.4,244.76 320.5,245.65 320.6,246.23 320.7,245.82 320.8,245.97 320.9,245.75 321,246.08 321.1,246.06 321.2,245.74 321.3,245.97 321.4,245.98 321.5,245.69 321.6,245.7 321.7,245.75 321.8,245.94 321.9,245.55 322,238.47 322.1,238.66 322.2,240.2 322.3,241.47 322.4,242.62 322.5,243.71 322.6,244.76 322.7,245.65 322.8,245.59 322.9,245.5 323,245.54 323.1,245.67 323.2,245.31 323.3,245.63 323.4,245.35 323.5,245.54 323.6,245.3 323.68,244.69 323.76,244.07 323.84,243.46 323.92,242.6 324,241 324.08,239.4 324.16,237.8 324.24,236.2 324.32,234.35 324.4,231.75 324.48,229.15 324.56,226.55 324.64,223.95 324.72,221.56 324.8,219.8 324.88,218.04 324.96,216.28 325.04,214.52 325.12,212.76 325.2,211 325.28,210.42 325.36,209.84 325.44,209.25 325.52,208.67 325.6,208.09 325.68,207.51 325.76,206.15 325.84,199.35 325.92,192.55 326,186.6 326.08,181.16 326.16,175.72 326.24,175.72 326.32,181.16 326.4,186.6 326.48,192.55 326.56,199.35 326.64,206.15 326.72,207.51 326.8,208.09 326.88,208.67 326.96,209.25 327.04,209.84 327.12,210.42 327.2,211 327.28,212.76 327.36,214.52 327.44,216.28 327.52,218.04 327.6,219.8 327.68,221.56 327.76,223.95 327.84,226.55 327.92,229.15 328,231.75 328.08,234.35 328.16,236.2 328.24,237.8 328.32,239.4 328.4,241 328.48,242.6 328.56,243.46 328.64,244.07 328.72,244.69 328.8,245.02 328.9,244.66 329,244.98 329.1,245.03 329.2,244.66 329.3,244.5 329.4,244.53 329.5,244.94 329.6,244.43 329.7,244.87 329.8,243.45 329.9,241.62 330,239.71 330.1,237.69 330.2,235.48 330.3,232.87 330.4,231.8 330.5,231.5 330.6,244.39 330.7,244.68 330.8,244.35 330.9,244.38 331,244.63 331.1,244.33 331.2,244.45 331.3,244.73 331.4,244.62 331.5,244.7 331.6,244.74 331.7,244.26 331.8,244.36 331.9,244.34 332,242.64 332.1,240.87 332.2,239 332.3,237.01 332.4,234.78 332.5,232.36 332.6,232.06 332.7,244.58 332.8,244.53 332.9,244.19 333,244.42 333.1,244.28 333.2,244.37 333.3,244.2 333.4,244.16 333.5,244.64 333.6,244.29 333.7,244.57 333.8,244.18 333.9,244.36 334,244.18 334.1,243.56 334.2,241.75 334.3,239.85 334.4,237.84 334.5,235.67 334.6,233.18 334.7,231.44 334.8,231.14 334.9,244.27 335,244.14 335.1,244.39 335.2,244.11 335.3,244.4 335.4,244.28 335.5,244.08 335.6,244.19 335.7,244.26 335.8,244.46 335.9,244.17 336,244.1 336.1,244.47 336.2,244.42 336.3,242.74 336.4,240.74 336.5,238.66 336.6,236.44 336.7,234.01 336.8,231.12 336.9,230.11 337,229.81 337.1,244.29 337.2,244.05 337.3,244 337.4,244.04 337.5,243.93 337.6,243.92 337.7,244.14 337.8,244.09 337.9,244.15 338,244.05 338.1,243.87 338.2,244.2 338.3,244.18 338.4,244.01 338.5,242.22 338.6,240.36 338.7,238.41 338.8,236.32 338.9,234 339,231.01 339.1,230.99 339.2,244.07 339.3,244.07 339.4,244.13 339.5,244.27 339.6,244.21 339.7,244.13 339.8,243.96 339.9,243.92 340,243.96 340.1,244.24 340.2,243.94 340.3,243.94 340.4,243.95 340.5,243.82 340.6,243.61 340.7,242.17 340.8,240.68 340.9,239.11 341,237.41 341.1,235.51 341.2,233.82 341.3,233.53 341.4,244.25 341.5,243.75 341.6,244.05 341.7,244.21 341.8,243.88 341.9,244.06 342,243.94 342.1,243.87 342.2,243.85 342.3,243.81 342.4,244.17 342.5,244.14 342.6,244.2 342.7,243.77 342.8,243.23 342.9,241.56 343,239.82 343.1,237.97 343.2,235.97 343.3,233.69 343.4,232.05 343.5,231.76 343.6,244.1 343.7,243.91 343.8,244.07 343.9,244.02 344,243.91 344.1,244.24 344.2,243.75 344.3,244.12 344.4,244.18 344.5,244.01 344.6,244.05 344.7,244.25 344.8,243.87 344.9,244.06 345,242.87 345.1,240.99 345.2,239.03 345.3,236.96 345.4,234.72 345.5,232.13 345.6,230.62 345.7,230.36 345.8,244.12 345.9,243.94 346,244.11 346.1,243.95 346.2,244.01 346.3,244.06 346.4,244.09 346.5,243.91 346.6,244.06 346.7,244.02 346.8,243.86 346.9,244.06 347,243.88 347.1,244.2 347.2,242.84 347.3,241.18 347.4,239.44 347.5,237.61 347.6,235.61 347.7,233.28 347.8,232.21 347.9,231.94 348,243.99 348.1,244.11 348.2,244.01 348.3,243.99 348.4,243.86 348.5,243.82 348.6,244.21 348.7,244.01 348.8,244.01 348.9,244.01 349,244.16 349.1,243.87 349.2,243.84 349.3,244.16 349.4,242.86 349.5,241.34 349.6,239.74 349.7,238.06 349.8,236.23 349.9,234.08 350,233.22 350.1,232.95 350.2,244 350.3,244.1 350.4,244.2 350.5,244.25 350.6,244.24 350.7,243.84 350.8,244.02 350.9,244.26 351,244.26 351.1,243.92 351.2,243.95 351.3,244.01 351.4,243.94 351.5,244.08 351.6,243 351.7,241.48 351.8,239.88 351.9,238.19 352,236.35 352.1,234.21 352.2,233.36 352.3,233.12 352.4,244.39 352.5,244.26 352.6,244.24 352.7,244.06 352.8,244.23 352.9,244.54 353,244.4 353.1,244.28 353.2,244.31 353.3,244.48 353.4,244.47 353.5,244.17 353.6,244.45 353.7,244.3 353.8,243.25 353.9,241.72 354,240.12 354.1,238.43 354.2,236.6 354.3,234.47 354.4,233.52 354.5,233.28 354.6,244.47 354.7,244.34 354.8,244.42 354.9,244.41 355,244.44 355.1,244.27 355.2,244.37 355.3,244.57 355.4,244.32 355.5,244.39 355.6,244.67 355.7,244.46 355.8,244.49 355.9,244.46 356,243.78 356.1,242.54 356.2,241.24 356.3,239.88 356.4,238.41 356.5,236.71 356.6,235.85 356.7,235.61 356.8,244.85 356.9,244.49 357,244.77 357.1,244.89 357.2,244.57 357.3,244.69 357.4,244.89 357.5,244.81 357.6,244.7 357.7,244.54 357.8,244.75 357.9,244.72 358,244.91 358.1,244.71 358.2,244.08 358.3,242.71 358.4,241.29 358.5,239.79 358.6,238.19 358.7,236.37 358.8,235.13 358.9,234.9 359,244.85 359.1,244.98 359.2,245.08 359.3,244.86 359.4,244.88 359.5,244.99 359.6,245.17 359.7,244.82 359.8,245.22 359.9,245.1 360,244.94 360.1,245.1 360.2,244.94 360.3,244.83 360.4,244.66 360.5,243.59 360.6,242.49 360.7,241.33 360.8,240.1 360.9,238.73 361,237.62 361.1,237.39 361.2,245.31 361.3,245.13 361.4,245.22 361.5,245.22 361.6,245.44 361.7,245.38 361.8,245.03 361.9,245.33 362,245.28 362.1,245.3 362.2,245.5 362.3,245.3 362.4,245.35 362.5,245.57 362.6,245.25 362.7,244.39 362.8,243.51 362.9,242.59 363,241.61 363.1,240.54 363.2,239.17 363.3,239.3 363.4,245.48 363.5,245.52 363.6,245.55 363.7,245.72 363.8,245.66 363.9,245.71 364,245.55 364.1,245.39 364.2,245.72 364.3,245.67 364.4,245.79 364.5,245.81 364.6,245.5 364.7,245.57 364.8,245.51 364.9,244.86 365,243.89 365.1,242.89 365.2,241.83 365.3,240.68 365.4,239.33 365.5,239 365.6,238.78 365.7,246.01 365.8,245.67 365.9,245.68 366,246.03 366.1,245.95 366.2,245.71 366.3,246.04 366.4,246.07 366.5,245.97 366.6,245.77 366.7,246.1 366.8,245.98 366.9,246.08 367,246.3 367.1,245.63 367.2,244.92 367.3,244.18 367.4,243.4 367.5,242.58 367.6,241.65 367.7,241.22 367.8,240.99 367.9,246.34 368,246.39 368.1,246.04 368.2,246.15 368.3,246.25 368.4,246.01 368.5,246.52 368.6,246.18 368.7,246.19 368.8,246.23 368.9,246.21 369,246.53 369.1,246.39 369.2,246.39 369.3,246.25 369.4,245.66 369.5,245.06 369.6,244.44 369.7,243.79 369.8,243.07 369.9,242.12 370,242.36 370.1,246.46 370.2,246.28 370.3,246.4 370.4,246.68 370.5,246.65 370.6,246.68 370.7,246.38 370.8,246.35 370.9,246.28 371,246.52 371.1,246.44 371.2,246.48 371.3,246.49 371.4,246.54 371.5,246.43 371.6,246.07 371.7,245.56 371.8,245.04 371.9,244.5 372,243.92 372.1,243.27 372.2,243.23 372.3,243.01 372.4,246.65 372.5,246.35 372.6,246.71 372.7,246.53 372.8,246.28 372.9,246.41 373,246.52 373.1,246.45 373.2,246.53 373.3,246.41 373.4,246.39 373.5,246.65 373.6,246.4 373.7,246.61 373.8,246.33 373.9,245.91 374,245.5 374.1,245.08 374.2,244.64 374.3,244.16 374.4,244.08 374.5,243.86 374.6,246.65 374.7,246.55 374.8,246.48 374.9,246.72 375,246.47 375.1,246.69 375.2,246.28 375.3,246.47 375.4,246.57 375.5,246.27 375.6,246.68 375.7,246.29 375.8,246.55 375.9,246.34 376,246.71 376.1,246.3 376.2,246.08 376.3,245.87 376.4,245.66 376.5,245.45 376.6,245.21 376.7,245.44 376.8,245.22 376.9,246.53 377,246.65 377.1,246.5 377.2,246.59 377.3,246.59 377.4,246.4 377.5,246.36 377.6,246.67 377.7,246.32 377.8,246.71 377.9,246.35 378,246.26 378.35,246.23 378.7,246.61 379.05,246.68 379.4,246.32 379.75,246.44 380.1,246.16 380.45,246.52 380.8,246.36 381.15,246.01 381.5,245.92 381.85,246.27 382.2,245.84 382.55,246.29 382.9,245.93 383.25,245.86 383.6,246.04 383.95,245.85 384.3,245.96 384.65,245.69 385,246.11 385.35,245.73 385.7,246 386.05,245.56 386.4,245.92 386.75,245.99 387.1,245.61 387.45,245.36 387.8,245.54 388.15,245.66 388.5,245.38 388.85,245.54 389.2,245.24 389.55,245.43 389.9,245.56 390.25,245.34 390.6,245.46 390.95,245.09 391.3,245.49 391.65,245.03 392,245.48 392.35,245.49 392.7,245.43 393.05,245.15 393.4,244.97 393.75,244.98 394.1,245.19 394.45,245 394.8,245.23 395.15,244.7 395.5,244.9 395.85,245.1 396.2,244.9 396.55,244.84 396.9,244.53 397.25,244.53 397.6,244.58 397.95,244.92 398.3,244.86 398.65,244.46 399,244.85 399.35,244.28 399.7,244.59 400.05,244.78 400.4,244.38 400.75,244.72 401.1,244.52 401.45,244.13 401.8,244.28 402.15,244.33 402.5,244.18 402.85,244.46 403.2,244.09 403.55,244.44 403.9,244.12 404.25,243.96 404.6,244.23 404.95,243.93 405.3,244.18 405.65,244.3 406,244.16 406.35,244.05 406.7,243.77 407.05,244.04 407.4,243.77 407.75,244.07 408.1,243.74 408.45,243.98 408.8,243.83 409.15,243.81 409.5,243.96 409.85,243.64 410.2,243.62 410.55,244.06 410.9,243.67 411.25,243.96 411.6,243.95 411.95,243.69 412.3,243.47 412.65,243.41 413,243.86 413.35,243.38 413.7,243.58 414.05,243.58 414.4,243.31 414.75,243.5 415.1,243.29 415.45,243.49 415.8,243.45 416.15,243.34 416.5,243.22 416.85,243.32 417.2,243.18 417.55,243.11 417.9,243.15 418.25,243.51 418.6,243.26 418.95,243.47 419.3,242.92 419.65,243.46 420,243.16 420.35,243.32 420.7,243.16 421.05,243.21 421.4,242.91 421.75,243.2 422.1,242.82 422.45,242.86 422.8,242.7 423.15,242.89 423.5,242.94 423.85,242.79 424.2,243.12 424.55,242.61 424.9,242.89 425.25,242.66 425.6,242.85 425.95,242.94 426.3,242.87 426.65,242.46 427,242.55 427.35,242.74 427.7,242.94 428.05,242.35 428.4,242.68 428.75,242.7 429.1,242.75 429.45,242.44 429.8,242.7 430.15,242.48 430.5,242.75 430.85,242.21 431.2,242.76 431.55,242.45 431.9,242.44 432.25,242.25 432.6,242.35 432.95,242.64 433.3,242.61 433.65,242.29 434,242.41 434.35,242.28 434.7,242.32 435.05,242.33 435.4,242.4 435.75,242.79 436.1,242.8 436.45,242.67 436.8,242.49 437.15,242.5 437.5,242.67 437.85,242.74 438.2,242.65 438.55,242.58 438.9,242.32 439.25,242.58 439.6,242.71 439.95,242.67 440.3,242.26 440.65,242.63 441,242.41 441.35,242.3 441.7,242.78 442.05,242.6 442.4,242.65 442.75,242.28 443.1,242.7 443.45,242.76 443.8,242.74 444.15,242.65 444.5,242.7 444.85,242.68 445.2,242.55 445.55,242.46 445.9,242.7 446.25,242.67 446.6,242.72 446.95,242.38 447.3,242.78 447.65,242.52 448,242.77 448.35,242.27 448.7,242.78 449.05,242.67 449.4,242.35 449.75,242.7 450.1,242.34 450.45,242.32 450.8,242.47 451.15,242.34 451.5,242.5 451.85,242.74 452.2,242.61 452.55,242.63 452.9,242.44 453.25,242.67 453.6,242.68 453.95,242.61 454.3,242.77 454.65,242.7 455,242.44 455.35,242.25 455.7,242.59 456.05,242.7 456.4,242.4 456.75,242.56 457.1,242.7 457.45,242.68 457.8,242.2 458.15,242.49 458.5,242.21 458.85,242.27 459.2,242.69 459.55,242.45 459.9,242.56 460.25,242.5 460.6,242.45 460.95,242.41 461.3,242.52 461.65,242.84 462,242.74 462.35,242.57 462.7,242.48 463.05,242.62 463.4,242.9 463.75,242.78 464.1,242.94 464.45,243.06 464.8,242.67 465.15,243.04 465.5,242.68 465.85,243.18 466.2,242.83 466.55,242.91 466.9,243.35 467.25,243.02 467.6,242.97 467.95,243.4 468.3,243.26 468.65,243.46 469,243.19 469.35,243.28 469.7,243.58 470.05,243.34 470.4,243.66 470.75,243.21 471.1,243.62 471.45,243.25 471.8,243.5 472.15,243.21 472.5,243.35 472.85,243.84 473.2,243.57 473.55,243.81 473.9,243.51 474.25,243.6 474.6,243.48 474.95,243.78 475.3,243.99 475.65,243.81 476,243.76 476.35,244.12 476.7,244.13 477.05,244.02 477.4,243.7 477.75,244.05 478.1,243.97 478.45,244.31 478.8,243.98 479.15,244.19 479.5,244.2 479.85,244.08 480.2,244.2 480.55,244.32 480.9,244.49 481.25,244.27 481.6,244.22 481.95,244.61 482.3,244.09 482.65,244.59 483,244.53 483.35,244.48 483.7,244.44 484.05,244.65 484.4,244.77 484.75,244.7 485.1,244.74 485.45,244.34 485.8,244.55 486.15,244.46 486.5,244.98 486.85,244.97 487.2,244.55 487.55,244.85 487.9,244.87 488.25,244.58 488.6,244.82 488.95,245.06 489.3,245.03 489.65,244.84 490,245.16 490.35,244.92 490.7,245.12 491.05,245.09 491.4,245.47 491.75,245.32 492.1,245.46 492.45,245.43 492.8,245.3 493.15,245.7 493.5,245.59 493.85,245.63 494.2,245.43 494.55,245.4 494.9,245.7 495.25,245.9 495.6,245.92 495.95,245.7 496.3,245.62 496.65,245.9 497,246.16 497.35,245.78 497.7,246.17 498.05,245.88 498.4,246.01 498.75,245.9 499.1,246.09 499.45,246.19 499.8,246.59 500.15,246.63 500.5,246.21 500.85,246.33 501.2,246.76 501.55,246.36 501.9,246.48 502.25,246.6 502.6,246.45 502.95,246.58 503.3,246.71 503.65,246.75 504,247.14 504.35,246.77 504.7,246.78 505.05,247.25 505.4,247.02 505.75,247.3 506.1,247.23 506.45,247.36 506.8,247.13 507.15,247.08 507.5,247.49 507.85,247.36 508.2,247.46 508.55,247.58 508.9,247.67 509.25,247.43 509.6,247.53 509.95,247.91 510.3,247.72 510.65,247.63 511,247.88 511.35,247.7 511.7,248.06 512.05,247.66 512.4,248.18 512.75,248.07 513.1,247.99 513.45,248.39 513.8,248.03 514.15,248.07 514.5,248.01 514.85,248.34 515.2,248.51 515.55,248.51 515.9,248.4 516.25,248.68 516.6,248.31 516.95,248.48 517.3,248.73 517.65,248.97 518,248.81 518.35,248.9 518.7,248.99 519.05,248.81 519.4,249.18 519.75,249.11 520.1,248.93 520.45,249.04 520.8,249.36 521.15,249.16 521.5,249.14 521.85,249.63 522.2,249.51 522.55,249.58 522.9,249.74 523.25,249.96 523.6,249.58 523.95,249.78 524.3,249.69 524.65,249.98 525,250.11 525.35,250.4 525.7,250.36 526.05,250.39 526.4,250.36 526.75,250.54 527.1,250.44 527.45,250.86 527.8,250.9 528.15,251.01 528.5,250.67 528.85,251.06 529.2,251.19 529.55,251.11 529.9,251.43 530.25,251.51 530.6,251.49 530.95,251.62 531.3,251.59 531.65,251.81 532,251.44 532.35,251.86 532.7,251.93 533.05,251.96 533.4,251.83 533.75,251.79 534.1,252.18 534.45,252.39 534.8,252.14 535.15,252.18 535.5,252.27 535.85,252.27 536.2,252.69 536.55,252.95 536.9,252.92 537.25,252.74 537.6,253.02 537.95,252.72 538.3,253.26 538.65,253.02 539,252.91 539.35,253.36 539.7,253.15 540.05,253.3 540.4,253.25 540.75,253.56 541.1,253.71 541.45,253.93 541.8,253.55 542.15,254.1 542.5,253.75 542.85,253.89 543.2,254.21 543.55,254.12 543.9,254.19 544.25,254.41 544.6,254.28 544.95,254.7 545.3,254.43 545.65,254.88 546,254.94 546.35,254.86 546.7,254.63 547.05,255.16 547.4,254.78 547.75,255.15 548.1,255.17 548.45,255.02 548.8,255.42 549.15,255.54 549.5,255.52 549.85,255.48 550.2,255.61 550.55,255.72 550.9,255.56 551.25,256.01 551.6,256.15 551.95,256.1 552.3,256.26 552.65,255.94 553,256.4 553.35,255.91 553.7,256.22 554.05,256.08 554.4,256.33 554.75,256.53 555.1,256.61 555.45,256.52 555.8,256.52 556.15,256.49 556.5,256.68 556.85,256.67 557.2,256.68 557.55,257.07 557.9,257 558.25,257.02 558.6,256.94 558.95,257.31 559.3,257.07 559.65,257.17 560,257.41 560.35,257.56 560.7,257.79 561.05,257.71 561.4,257.9 561.75,257.94 562.1,257.89 562.45,257.95 562.8,257.62 563.15,257.77 563.5,257.72 563.85,258.29 564.2,258.27 564.55,258.28 564.9,258.12 565.25,258.24 565.6,258.19 565.95,258.53 566.3,258.81 566.65,258.46 567,258.37 567.35,258.51 567.7,258.68 568.05,259.07 568.4,259.08 568.75,258.93 569.1,258.79 569.45,258.85 569.8,258.94 570.15,259.38 570.5,259.26 570.85,259.64 571.2,259.65 571.55,259.65 571.9,259.52 572.25,259.79 572.6,259.44 572.95,259.49 573.3,259.82 573.65,259.85 574,259.74 574.35,259.83 574.7,259.75 575.05,260.35 575.4,260.29 575.75,260.5 576.1,260.58 576.45,260.32 576.8,260.56 577.15,260.41 577.5,260.73 577.85,260.82 578.2,260.45 578.55,260.44 578.9,260.63 579.25,260.92 579.6,260.85 579.95,260.7 580.3,261.26 580.65,261.3 581,261.17 581.35,260.99 581.7,261.56 582.05,261.42 582.4,261.21 582.75,261.43 583.1,261.68 583.45,261.9 583.8,261.73 584.15,261.89 584.5,261.7 584.85,261.79 585.2,262.26 585.55,262.01 585.9,261.91 586.25,262.27 586.6,262.06 586.95,262.17 587.3,262.39 587.65,262.54 588,262.64 588.35,262.75 588.7,262.66 589.05,262.5 589.4,262.96 589.75,262.63 590.1,262.95 590.45,262.97 590.8,263.21 591.15,263.3 591.5,263.08 591.85,263.4 592.2,263.49 592.55,263.43 592.9,263.3 593.25,263.82 593.6,263.71 593.95,263.45 594.3,263.63 594.65,264.14 595,263.76 595.35,263.92 595.7,264.23 596.05,264.32 596.4,264.27 596.75,264.4 597.1,264.05 597.45,264.15 597.8,264.75 598.15,264.71 598.5,264.32 598.85,264.4 599.2,264.58 599.55,265.06 599.9,264.7 600.25,265.04 600.6,265.27 600.95,265.16 601.3,265.4 601.65,265.07 602,265.07 602.35,265.06 602.7,265.57 603.05,265.25 603.4,265.84 603.75,265.75 604.1,265.5 604.45,265.94 604.8,265.62 605.15,265.9 605.5,265.73 605.85,266.2 606.2,266.33 606.55,266.42 606.9,265.94 607.25,266.51 607.6,266.4 607.95,266.63 608.3,266.51 608.65,266.65 609,266.7 609.35,266.89 609.7,266.53 610.05,266.58 610.4,266.94 610.75,266.86 611.1,266.99 611.45,266.82 611.8,267.34 612.15,266.97 612.5,267.52 612.85,267.58 613.2,267.44 613.55,267.3 613.9,267.69 614.25,267.49 614.6,267.69 614.95,267.57 615.3,268.16 615.65,267.96 616,267.92 616.35,267.83 616.7,268.28 617.05,268.42 617.4,268.48 617.75,268.1 618.1,268.32 618.45,268.34 618.8,270 618.9,269.7 619,269.4 619.1,269.1 619.2,268.8 619.3,268.5 619.4,268.2 619.5,267.9 619.6,267.6 619.7,267.3 619.8,267 619.9,266.33 620,265.67 620.1,265 620.2,264.33 620.3,263.67 620.4,263 620.5,261.83 620.6,260.67 620.7,259.5 620.8,258.33 620.9,257.17 621,256 621.1,253.25 621.2,250.5 621.3,247.75 621.4,245 621.5,242 621.6,239 621.7,236 621.8,233 621.9,232.12 622,231.25 622.1,230.37 622.2,229.5 622.3,229.3 622.4,229.1 622.5,228.9 622.6,228.7 622.7,228.5 622.8,228.3 622.9,228.5 623,228.7 623.1,228.9 623.2,229.1 623.3,229.3 623.4,229.5 623.5,230.38 623.6,231.25 623.7,232.13 623.8,233 623.9,236 624,239 624.1,242 624.2,245 624.3,247.75 624.4,250.5 624.5,253.25 624.6,256 624.7,257.17 624.8,258.33 624.9,259.5 625,260.67 625.1,261.83 625.2,263 625.3,263.67 625.4,264.33 625.5,265 625.6,265.67 625.7,266.33 625.8,267 625.9,267.3 626,267.6 626.1,267.9 626.2,268.2 626.3,268.5 626.4,268.8 626.5,269.1 626.6,269.4 626.7,269.7 626.8,270.12 627.15,269.68 627.3,271.3 627.45,271.21 627.6,271.86 627.75,269.49 627.9,270.27 628.05,269.71 628.2,272.06 628.35,270.61 628.5,273.2 628.65,270.39 628.8,273.47 628.95,270.69 629.1,273.73 629.25,271.27 629.4,274 629.55,271.09 629.7,273.61 629.85,270.98 630,274.53 630.15,270.94 630.3,272.25 630.45,271.33 630.6,275.07 630.75,271.47 630.9,275.33 631.05,271.08 631.2,275.6 631.35,270.38 631.5,275.87 631.65,270.45 631.8,276.13 631.95,270.69 632.1,274.36 632.25,271.6 632.4,276.67 632.55,271.46 632.7,275.36 632.85,270.48 633,277.2 633.15,270.76 633.3,277.47 633.45,270.46 633.6,277.17 633.75,270.67 633.9,278 634.05,271.5 634.2,276.71 634.35,271.09 634.5,278.53 634.65,271.65 634.8,278.8 634.95,271.32 635.1,279.07 635.25,271.19 635.4,272.2 635.55,271.21 635.7,279.6 635.85,271.25 636,274.55 636.15,271.96 636.3,280 636.45,272.09 636.6,280 636.75,270.76 636.9,280 637.05,272.04 637.2,280 637.35,270.9 637.5,280 637.65,272.25 637.8,280 637.95,271.28 638.1,280 638.25,271.77 638.4,280 638.55,271.91 638.7,280 638.85,271.05 639,280 639.15,271.86 639.3,280 639.45,271.11 639.6,276.88 639.75,271.74 639.9,280 640.05,271.78 640.2,280 640.35,271.28 640.5,280 640.65,270.89 640.8,280 640.95,271.45 641.1,280 641.25,271.03 641.4,280 641.55,272.6 641.7,280 641.85,271.38 642,280 642.15,271.24 642.3,280 642.45,271.49 642.6,280 642.75,272.22 642.9,280 643.05,272.32 643.2,280 643.35,272.71 643.5,280 643.65,272.56 643.8,280 643.95,272.59 644.1,280 644.25,272.66 644.4,277.28 644.55,271.65 644.7,280 644.85,271.53 645,273.08 645.15,272.4 645.3,280 645.45,272.44 645.6,280 645.75,271.53 645.9,280 646.05,273.07 646.2,280 646.35,272.51 646.5,280 646.65,271.77 646.8,280 646.95,271.42 647.1,273.04 647.25,273.16 647.4,280 647.55,272.76 647.7,280 647.85,272.9 648,280 648.15,272.17 648.3,280 648.45,271.75 648.6,280 648.75,273.01 648.9,280 649.05,272.29 649.2,280 649.35,272.04 649.5,280 649.65,272.06 649.8,280 649.95,272.35 650.1,280 650.25,272.56 650.4,272.7 650.55,272.93 650.7,274.13 650.85,271.8 651,280 651.15,271.97 651.3,280 651.45,273.06 651.6,280 651.75,272.01 651.9,280 652.05,272.13 652.2,280 652.35,272.62 652.5,280 652.65,271.97 652.8,280 652.95,272.71 653.1,276.65 653.25,272.01 653.4,280 653.55,273.24 653.7,280 653.85,273.48 654,278.94 654.15,272.13 654.3,276.45 654.45,272.38 654.6,280 654.75,273.52 654.9,280 655.05,272.13 655.2,280 655.35,273.66 655.5,280 655.65,273.33 655.8,280 655.95,272.85 656.1,280 656.25,272.42 656.4,280 656.55,272.72 656.7,280 656.85,273.86 657,280 657.15,272.42 657.3,280 657.45,273.29 657.6,280 657.75,272.18 657.9,280 658.05,273.48 658.2,280 658.35,272.59 658.5,280 658.65,273.27 658.8,280 658.95,272.46 659.1,279.61 659.25,273.55 659.4,275.46 659.55,273.86 659.7,280 659.85,272.66 660,280 660.15,273.89 660.3,280 660.45,272.68 660.6,280 660.75,273.09 660.9,280 661.05,272.66 661.2,280 661.35,273.39 661.5,275.78 661.65,273.58 661.8,280 661.95,274.08 662.1,280 662.25,273.25 662.4,280 662.55,274.11 662.7,280 662.85,274.21 663,280 663.15,272.83 663.3,274.44 663.45,274.25 663.6,280 663.75,272.88 663.9,275.3 664.05,273.22 664.2,280 664.35,273.71 664.5,280 664.65,273.19 664.8,280 664.95,274.03 665.1,280 665.25,273.65 665.4,280 665.55,273.39 665.7,280 665.85,273.87 666,280 666.15,273.04 666.3,280 666.45,274.35 666.6,280 666.75,272.89 666.9,280 667.05,273.7 667.2,273.64 667.35,273.09 667.5,280 667.65,273.74 667.8,280 667.95,273.44 668.1,277.74 668.25,274.27 668.4,275.12 668.55,274.44 668.7,280 668.85,272.85 669,274.05 669.15,272.81 669.3,280 669.45,273.31 669.6,279.14 669.75,273.56 669.9,280 670.05,274.35 670.2,277.72 670.35,273.76 670.5,280 670.65,273.3 670.8,280 670.95,273.93 671.1,279.34 671.25,274.62 671.4,280" stroke="#1BACF6" stroke-width="0.95" fill="none" stroke-linejoin="round"/>
<path d="M415.4,243.17v1.8M426.26,242.45v1.46M416.68,243.09v1.9M409.25,243.58v1.62M419.49,242.9v2.84M407.16,243.72v1M407.09,243.73v2.92M420.95,242.8v0.61M427.59,242.36v3.79M420.04,242.86v2.02M408.62,243.63v0.6M417.15,243.06v0.62M409.37,243.58v0.86M405.69,243.82v1.45M459.72,242.2v12.39M465.38,242.65v8.5M463.98,242.53v8.88M460.93,242.28v3.76M499.83,246.01v15.89M488.5,244.57v9.7M450.7,242.2v3.36M448.81,242.2v2.51M483.17,244.13v5.02M488.95,244.61v4.86M496.98,245.63v12.49M428.04,242.33v3.22M493.54,245.17v5.89M498.59,245.84v4.98M433.26,242.2v8.31M484.05,244.2v3.69M434.27,242.2v4.27M497.41,245.69v10.66M436.5,242.2v3.49M435.28,242.2v2.49M485.39,244.32v3.01M468.27,242.89v5.6M441.73,242.2v10.15M437.43,242.2v8.55M436.39,242.2v5.26M443.33,242.2v3.69M497.91,245.75v11.57M449.9,242.2v13.31M443.17,242.2v4.95M489.52,244.66v8.52M435.22,242.2v15.74M443.35,242.2v3.59M483.63,244.17v4.24M449.34,242.2v2.52M434.49,242.2v7.55M445.5,242.2v7.84M454.76,242.2v5.67M497.06,245.64v6.08M469.37,242.98v12.91M441.16,242.2v2.87M493.41,245.15v11.87M445.96,242.2v3.08M481.24,243.97v14.58M442.15,242.2v14.8M491.52,244.9v7.88M458.34,242.2v2.63M430.79,242.2v15.1M445.17,242.2v9.64M446.5,242.2v11.99M470.95,243.11v3.9M440.63,242.2v9.94M432.95,242.2v3.35M468.27,242.89v12.6M472.23,243.22v3.78M494.05,245.24v3.18M429.19,242.25v3.68M460.09,242.21v2.49M440.69,242.2v4.66M469.2,242.97v2.75M454.07,242.2v13.45M498.6,245.85v8.78M477.77,243.68v7.57M438.1,242.2v2.43M429.29,242.25v13.88M478.47,243.74v15.1M429.53,242.23v8.43M462.72,242.43v10.13M450.96,242.2v15.98M433.42,242.2v6.98M481.06,243.96v13.66M544.23,254.06v8.42M547.6,254.81v12.24M521.11,248.95v8.12M554.05,256v11.38M525.03,249.81v9.89M551.81,255.59v6.46M537.5,252.57v4.21M534.96,252.01v6.97M504.81,246.67v7.42M559.6,257v11.55M543.69,253.95v4.27M544.1,254.04v6.58M526.43,250.12v10.76M505.03,246.7v9.19M501.79,246.27v6.86M528.86,250.66v2.95M541.9,253.55v5.48M536.87,252.44v12.35M515.35,248.08v2.1M518.06,248.44v8.01M512.15,247.65v2.59M554.34,256.05v7.73M526.52,250.14v11.78M519.62,248.65v7.82M511.91,247.62v4.71M548.36,254.97v12.23M552.82,255.77v4.23M534.99,252.02v3.6M508.17,247.12v5.47M550.23,255.3v10.96M542.67,253.72v12.95M516.61,248.25v2.59M527.04,250.26v3.27M512.84,247.75v4.53M537.54,252.58v5.44M518.92,248.56v10.78M558.92,256.88v4.96M504.48,246.63v2.12M552.37,255.69v2.14M542.52,253.69v6.43M518.54,248.51v9.91M501.15,246.19v2.43M527.29,250.31v2.12M549.78,255.22v2.99M508.45,247.16v2.15M537.75,252.63v4.89M537.8,252.64v7.66M548.44,254.98v13.13M541.07,253.37v2.75M528.51,250.58v2.64M560.62,257.19v2.59M601.42,264.87v1.32M575.8,259.94v1.93M600.44,264.68v2.89M595.64,263.74v4.65M582.82,261.25v4.96M612.56,267.04v1.12M614.09,267.33v4.36M567.53,258.44v2.48M596.28,263.87v6.07M581.85,261.06v3.21M611,266.73v5M614.77,267.47v2.54M597.78,264.16v1.39M601.87,264.96v5.2M597.21,264.05v4.32M572.37,259.32v5.97M616.87,267.87v6.76M591.14,262.87v4.95M578.58,260.44v6.07M609.64,266.47v1.94M564.8,257.95v2.41M591.92,263.02v4.75M588.27,262.31v1.06M606.93,265.94v1.09M606.39,265.84v1.3M579.43,260.6v4.92M568.15,258.55v1.24M589.96,262.64v4.37M608.72,266.29v4.1" stroke="#1BACF6" stroke-width="0.7" fill="none"/>
<path d="M85.1,261.91 85.15,261.75 85.2,261.59 85.25,261.43 85.3,261.27 85.35,261.11 85.4,260.95 85.45,260.8 85.5,260.64 85.55,260.48 85.6,260.32 85.65,260.16 85.7,260 85.75,259.81 85.8,259.62 85.85,259.44 85.9,259.25 85.95,259.06 86,258.87 86.05,258.69 86.1,258.5 86.15,258.31 86.2,258.12 86.25,257.94 86.3,257.75 86.35,257.56 86.4,257.37 86.45,257.19 86.5,257 86.55,256.81 86.6,256.62 86.65,256.44 86.7,256.25 86.75,256.06 86.8,255.87 86.85,255.69 86.9,255.5 86.95,255.27 87,255.04 87.05,254.81 87.1,254.58 87.15,254.35 87.2,254.12 87.25,253.9 87.3,253.67 87.35,253.44 87.4,253.21 87.45,252.98 87.5,252.75 87.55,252.52 87.6,252.29 87.65,252.06 87.7,251.83 87.75,251.6 87.8,251.37 87.85,251.15 87.9,250.92 87.95,250.69 88,250.46 88.05,250.23 88.1,250 88.15,249.71 88.2,249.42 88.25,249.12 88.3,248.83 88.35,248.54 88.4,248.25 88.45,247.96 88.5,247.67 88.55,247.37 88.6,247.08 88.65,246.79 88.7,246.5 88.75,246.21 88.8,245.92 88.85,245.62 88.9,245.33 88.95,245.04 89,244.75 89.05,244.46 89.1,244.17 89.15,243.87 89.2,243.58 89.25,243.29 89.3,243 89.35,242.64 89.4,242.27 89.45,241.91 89.5,241.55 89.55,241.18 89.6,240.82 89.65,240.45 89.7,240.09 89.75,239.73 89.8,239.36 89.85,239 89.9,238.64 89.95,238.27 90,237.91 90.05,237.55 90.1,237.18 90.15,236.82 90.2,236.45 90.25,236.09 90.3,235.73 90.35,235.36 90.4,235 90.45,234.44 90.5,233.89 90.55,233.33 90.6,232.78 90.65,232.22 90.7,231.67 90.75,231.11 90.8,230.56 90.85,230 90.9,229.44 90.95,228.89 91,228.33 91.05,227.78 91.1,227.22 91.15,226.67 91.2,226.11 91.25,225.56 91.3,225 91.35,224.38 91.4,223.75 91.45,223.12 91.5,222.5 91.55,221.88 91.6,221.25 91.65,220.62 91.7,220 91.75,219.38 91.8,218.75 91.85,218.12 91.9,217.5 91.95,216.88 92,216.25 92.05,215.62 92.1,215 92.15,214.1 92.2,213.2 92.25,212.3 92.3,211.4 92.35,210.5 92.4,209.6 92.45,208.7 92.5,207.8 92.55,206.9 92.6,206 92.65,204.9 92.7,203.8 92.75,202.7 92.8,201.6 92.85,200.5 92.9,199.4 92.95,198.3 93,197.2 93.05,196.1 93.1,195 93.15,193.25 93.2,191.5 93.25,189.75 93.3,188 93.35,187.52 93.4,187.03 93.45,186.55 93.5,186.07 93.55,185.58 93.6,185.1 93.65,185.58 93.7,186.07 93.75,186.55 93.8,187.03 93.85,187.52 93.9,188 93.95,189.75 94,191.5 94.05,193.25 94.1,195 94.15,196.1 94.2,197.2 94.25,198.3 94.3,199.4 94.35,200.5 94.4,201.6 94.45,202.7 94.5,203.8 94.55,204.9 94.6,206 94.65,206.9 94.7,207.8 94.75,208.7 94.8,209.6 94.85,210.5 94.9,211.4 94.95,212.3 95,213.2 95.05,214.1 95.1,215 95.15,215.62 95.2,216.25 95.25,216.88 95.3,217.5 95.35,218.12 95.4,218.75 95.45,219.38 95.5,220 95.55,220.62 95.6,221.25 95.65,221.88 95.7,222.5 95.75,223.12 95.8,223.75 95.85,224.38 95.9,225 95.95,225.56 96,226.11 96.05,226.67 96.1,227.22 96.15,227.78 96.2,228.33 96.25,228.89 96.3,229.44 96.35,230 96.4,230.56 96.45,231.11 96.5,231.67 96.55,232.22 96.6,232.78 96.65,233.33 96.7,233.89 96.75,234.44 96.8,235 96.85,235.36 96.9,235.73 96.95,236.09 97,236.45 97.05,236.82 97.1,237.18 97.15,237.55 97.2,237.91 97.25,238.27 97.3,238.64 97.35,239 97.4,239.36 97.45,239.73 97.5,240.09 97.55,240.45 97.6,240.82 97.65,241.18 97.7,241.55 97.75,241.91 97.8,242.27 97.85,242.64 97.9,243 97.95,243.29 98,243.58 98.05,243.87 98.1,244.17 98.15,244.46 98.2,244.75 98.25,245.04 98.3,245.33 98.35,245.62 98.4,245.92 98.45,246.21 98.5,246.5 98.55,246.79 98.6,247.08 98.65,247.37 98.7,247.67 98.75,247.96 98.8,248.25 98.85,248.54 98.9,248.83 98.95,249.12 99,249.42 99.05,249.71 99.1,250 99.15,250.23 99.2,250.46 99.25,250.69 99.3,250.92 99.35,251.15 99.4,251.37 99.45,251.6 99.5,251.83 99.55,252.06 99.6,252.29 99.65,252.52 99.7,252.75 99.75,252.98 99.8,253.21 99.85,253.44 99.9,253.67 99.95,253.9 100,254.12 100.05,254.35 100.1,254.58 100.15,254.81 100.2,255.04 100.25,255.27 100.3,255.5 100.35,255.69 100.4,255.87 100.45,256.06 100.5,256.25 100.55,256.44 100.6,256.62 100.65,256.81 100.7,257 100.75,257.19 100.8,257.37 100.85,257.56 100.9,257.75 100.95,257.94 101,258.12 101.05,258.31 101.1,258.5 101.15,258.69 101.2,258.87 101.25,259.06 101.3,259.25 101.35,259.44 101.4,259.62 101.45,259.81 101.5,260 101.55,260.16 101.6,260.32 101.65,260.48 101.7,260.64 101.75,260.8 101.8,260.95 101.85,261.11 101.9,261.27 101.95,261.43 102,261.59 102.05,261.75 102.1,261.91" stroke="#1BACF6" stroke-width="1.3" fill="none" stroke-linejoin="round"/>
<path d="M619.95,266 620,265.67 620.05,265.33 620.1,265 620.15,264.67 620.2,264.33 620.25,264 620.3,263.67 620.35,263.33 620.4,263 620.45,262.42 620.5,261.83 620.55,261.25 620.6,260.67 620.65,260.08 620.7,259.5 620.75,258.92 620.8,258.33 620.85,257.75 620.9,257.17 620.95,256.58 621,256 621.05,254.63 621.1,253.25 621.15,251.88 621.2,250.5 621.25,249.13 621.3,247.75 621.35,246.38 621.4,245 621.45,243.5 621.5,242 621.55,240.5 621.6,239 621.65,237.5 621.7,236 621.75,234.5 621.8,233 621.85,232.56 621.9,232.12 621.95,231.69 622,231.25 622.05,230.81 622.1,230.38 622.15,229.94 622.2,229.5 622.25,229.4 622.3,229.3 622.35,229.2 622.4,229.1 622.45,229 622.5,228.9 622.55,228.8 622.6,228.7 622.65,228.6 622.7,228.5 622.75,228.4 622.8,228.3 622.85,228.4 622.9,228.5 622.95,228.6 623,228.7 623.05,228.8 623.1,228.9 623.15,229 623.2,229.1 623.25,229.2 623.3,229.3 623.35,229.4 623.4,229.5 623.45,229.94 623.5,230.38 623.55,230.81 623.6,231.25 623.65,231.69 623.7,232.12 623.75,232.56 623.8,233 623.85,234.5 623.9,236 623.95,237.5 624,239 624.05,240.5 624.1,242 624.15,243.5 624.2,245 624.25,246.38 624.3,247.75 624.35,249.13 624.4,250.5 624.45,251.88 624.5,253.25 624.55,254.63 624.6,256 624.65,256.58 624.7,257.17 624.75,257.75 624.8,258.33 624.85,258.92 624.9,259.5 624.95,260.08 625,260.67 625.05,261.25 625.1,261.83 625.15,262.42 625.2,263 625.25,263.33 625.3,263.67 625.35,264 625.4,264.33 625.45,264.67 625.5,265 625.55,265.33 625.6,265.67 625.65,266" stroke="#1BACF6" stroke-width="1.3" fill="none" stroke-linejoin="round"/>
<path d="M324.05,240 324.1,239 324.15,238 324.2,237 324.25,236 324.3,235 324.35,233.38 324.4,231.75 324.45,230.13 324.5,228.5 324.55,226.88 324.6,225.25 324.65,223.63 324.7,222 324.75,220.9 324.8,219.8 324.85,218.7 324.9,217.6 324.95,216.5 325,215.4 325.05,214.3 325.1,213.2 325.15,212.1 325.2,211 325.25,210.64 325.3,210.27 325.35,209.91 325.4,209.55 325.45,209.18 325.5,208.82 325.55,208.45 325.6,208.09 325.65,207.73 325.7,207.36 325.75,207 325.8,202.75 325.85,198.5 325.9,194.25 325.95,190 326,186.6 326.05,183.2 326.1,179.8 326.15,176.4 326.2,173 326.25,176.4 326.3,179.8 326.35,183.2 326.4,186.6 326.45,190 326.5,194.25 326.55,198.5 326.6,202.75 326.65,207 326.7,207.36 326.75,207.73 326.8,208.09 326.85,208.45 326.9,208.82 326.95,209.18 327,209.55 327.05,209.91 327.1,210.27 327.15,210.64 327.2,211 327.25,212.1 327.3,213.2 327.35,214.3 327.4,215.4 327.45,216.5 327.5,217.6 327.55,218.7 327.6,219.8 327.65,220.9 327.7,222 327.75,223.63 327.8,225.25 327.85,226.88 327.9,228.5 327.95,230.13 328,231.75 328.05,233.38 328.1,235 328.15,236 328.2,237 328.25,238 328.3,239 328.35,240" stroke="#1BACF6" stroke-width="1.1" fill="none" stroke-linejoin="round"/>
</g>
<g clip-path="url(#cc)">
<path d="M55.7,408.78 55.82,418.3 56,409.04 56.12,418.3 56.3,409.17 56.42,418.3 56.6,408 56.72,418.3 56.9,409.73 57.02,418.3 57.2,408.62 57.32,418.3 57.5,410.3 57.62,418.3 57.8,410.9 57.92,418.3 58.1,409.63 58.22,418.3 58.4,409.58 58.52,418.3 58.7,409.16 58.82,418.3 59,410.19 59.12,418.3 59.3,409.13 59.42,418.3 59.6,408.69 59.72,418.3 59.9,407.86 60.02,418.3 60.2,409.98 60.32,418.3 60.5,409.65 60.62,418.3 60.8,408.64 60.92,418.3 61.1,409.49 61.22,418.3 61.4,410.61 61.52,418.3 61.7,410.29 61.82,418.3 62,410.44 62.12,418.3 62.3,410.57 62.42,418.3 62.6,410.7 62.72,418.3 62.9,408.64 63.02,418.3 63.2,409.24 63.32,418.3 63.5,409.58 63.62,418.3 63.8,410.31 63.92,418.3 64.1,408.87 64.22,418.3 64.4,408.96 64.52,418.3 64.7,409.37 64.82,418.3 65,408.97 65.12,418.3 65.3,408.82 65.42,418.3 65.6,409.23 65.72,418.3 65.9,409.42 66.02,418.3 66.2,410.83 66.32,418.3 66.5,408.97 66.62,418.3 66.8,410.32 66.92,418.3 67.1,408.77 67.22,418.3 67.4,410.3 67.52,418.3 67.7,407.16 67.82,418.3 68,408.93 68.12,418.3 68.3,408.86 68.42,418.3 68.6,409.22 68.72,418.3 68.9,408.17 69.02,418.3 69.2,409.3 69.32,418.3 69.5,410.08 69.62,418.3 69.8,409.35 69.92,418.3 70.1,408.98 70.22,418.3 70.4,410.58 70.52,418.3 70.7,410.51 70.82,418.3 71,408.5 71.12,418.3 71.3,408.72 71.42,418.3 71.6,410.84 71.72,418.3 71.9,409.07 72.02,418.3 72.2,409.85 72.32,418.3 72.5,409.87 72.62,418.3 72.8,408.77 72.92,418.3 73.1,409.21 73.22,418.3 73.4,409.36 73.52,418.3 73.7,410.45 73.82,418.3 74,410.83 74.12,418.3 74.3,408.85 74.42,418.3 74.6,406.33 74.72,418.3 74.9,408.91 75.02,418.3 75.2,407.07 75.32,418.3 75.5,408.47 75.62,418.3 75.8,410.05 75.92,418.3 76.1,408.92 76.22,418.3 76.4,408.99 76.52,418.3 76.7,409.01 76.82,418.3 77,409.62 77.12,418.3 77.3,409.18 77.42,418.3 77.6,409.22 77.72,418.3 77.9,410.77 78.02,418.3 78.2,410.05 78.32,418.3 78.5,410.32 78.62,418.3 78.8,409.06 78.92,418.3 79.1,410.55 79.22,418.3 79.4,409.21 79.52,418.3 79.7,408.96 79.82,418.3 80,409.01 80.12,418.3 80.3,409.05 80.42,418.3 80.6,410.67 80.72,418.3 80.9,410.43 81.02,418.3 81.2,410.88 81.32,418.3 81.5,410.57 81.62,418.3 81.8,409.5 81.92,418.3 82.1,408.86 82.22,418.3 82.4,409.59 82.52,418.3 82.7,410.41 82.82,418.3 83,410.53 83.12,418.3 83.3,410.41 83.42,418.3 83.6,410.17 83.72,418.3 83.9,408.92 84.02,418.3 84.2,410.57 84.32,418.3 84.5,410.63 84.62,418.3 84.8,410.85 84.92,418.3 85.1,407.56 85.22,418.3 85.4,409.69 85.52,418.3 85.7,410.48 85.82,418.3 86,409.42 86.12,418.3 86.3,407 86.42,418.3 86.6,406.55 86.72,418.3 86.9,409.71 87.02,418.3 87.2,410.89 87.32,418.3 87.5,410.75 87.62,418.3 87.8,410.36 87.92,418.3 88.1,409.98 88.22,418.3 88.4,410.59 88.52,418.3 88.7,409.6 88.82,418.3 89,409.1 89.12,418.3 89.3,410.9 89.42,418.3 89.6,409.02 89.72,418.3 89.9,410.32 90.02,418.3 90.2,409.86 90.32,418.3 90.5,409.46 90.62,418.3 90.8,410.52 90.92,418.3 91.1,408 91.2,405 91.3,402 91.4,399 91.5,396 91.6,394.38 91.7,392.75 91.8,391.13 91.9,389.5 92,388.33 92.1,387.17 92.2,386 92.3,382.75 92.4,379.5 92.5,376.25 92.6,373 92.7,370.75 92.8,368.5 92.9,366.25 93,364 93.1,363.67 93.2,363.33 93.3,363 93.4,363.33 93.5,363.67 93.6,364 93.7,366.25 93.8,368.5 93.9,370.75 94,373 94.1,376.25 94.2,379.5 94.3,382.75 94.4,386 94.5,387.17 94.6,388.33 94.7,389.5 94.8,391.12 94.9,392.75 95,394.37 95.1,396 95.2,399 95.3,402 95.4,405 95.5,408 95.6,411.27 95.7,414.53 95.8,417.8 95.9,410.98 96.02,418.3 96.2,410.3 96.32,418.3 96.5,409.32 96.62,418.3 96.8,409.05 96.92,418.3 97.1,410.2 97.22,418.3 97.4,411 97.52,418.3 97.7,409.04 97.82,418.3 98,410.42 98.12,418.3 98.3,410.82 98.42,418.3 98.6,409.81 98.72,418.3 98.9,410.89 99.02,418.3 99.2,409.94 99.32,418.3 99.5,410.53 99.62,418.3 99.8,409.22 99.92,418.3 100.1,409.83 100.22,418.3 100.4,408.61 100.52,418.3 100.7,410.4 100.82,418.3 101,409.84 101.12,418.3 101.3,410.77 101.42,418.3 101.6,410.33 101.72,418.3 101.9,410.31 102.02,418.3 102.2,407.99 102.32,418.3 102.5,406.42 102.62,418.3 102.8,408.94 102.92,418.3 103.1,410.99 103.22,418.3 103.4,409.19 103.52,418.3 103.7,409.58 103.82,418.3 104,408.99 104.12,418.3 104.3,409.06 104.42,418.3 104.6,409.04 104.72,418.3 104.9,410.94 105.02,418.3 105.2,409.73 105.32,418.3 105.5,408.95 105.62,418.3 105.8,410.28 105.92,418.3 106.1,409.45 106.22,418.3 106.4,410.26 106.52,418.3 106.7,410.67 106.82,418.3 107,410.64 107.12,418.3 107.3,410.11 107.42,418.3 107.6,409.64 107.72,418.3 107.9,410.19 108.02,418.3 108.2,408.95 108.32,418.3 108.5,410.5 108.62,418.3 108.8,409.42 108.92,418.3 109.1,409.57 109.22,418.3 109.4,410.75 109.52,418.3 109.7,409.38 109.82,418.3 110,409.47 110.12,418.3 110.3,409.88 110.42,418.3 110.6,409.76 110.72,418.3 110.9,389.7 111.05,389.7 111.2,389.7 111.35,389.7 111.5,410.09 111.62,418.3 111.8,409.53 111.92,418.3 112.1,410.83 112.22,418.3 112.4,409.45 112.52,418.3 112.7,409.73 112.82,418.3 113,410.59 113.12,418.3 113.3,408.8 113.42,418.3 113.6,410.4 113.72,418.3 113.9,410 114.02,418.3 114.2,410.9 114.32,418.3 114.5,410.49 114.62,418.3 114.8,408.92 114.92,418.3 115.1,410.13 115.22,418.3 115.4,408.84 115.52,418.3 115.7,410.41 115.82,418.3 116,409.11 116.12,418.3 116.3,410.34 116.42,418.3 116.6,411.08 116.72,418.3 116.9,409.35 117.02,418.3 117.2,411.13 117.32,418.3 117.5,409.18 117.62,418.3 117.8,408.93 117.92,418.3 118.1,408.84 118.22,418.3 118.4,410.15 118.52,418.3 118.7,410.22 118.82,418.3 119,411.04 119.12,418.3 119.3,410.13 119.42,418.3 119.6,409.71 119.72,418.3 119.9,410.72 120.02,418.3 120.2,408.82 120.32,418.3 120.5,410.42 120.62,418.3 120.8,409.8 120.92,418.3 121.1,411.05 121.22,418.3 121.4,409.73 121.52,418.3 121.7,410.74 121.82,418.3 122,411.22 122.12,418.3 122.3,410.66 122.42,418.3 122.6,409.23 122.72,418.3 122.9,409.52 123.02,418.3 123.2,411.1 123.32,418.3 123.5,410.7 123.62,418.3 123.8,410.28 123.92,418.3 124.1,409.09 124.22,418.3 124.4,409.55 124.52,418.3 124.7,409.95 124.82,418.3 125,410.65 125.12,418.3 125.3,410.09 125.42,418.3 125.6,410.48 125.72,418.3 125.9,411.13 126.02,418.3 126.2,409.95 126.32,418.3 126.5,410.75 126.62,418.3 126.8,409.9 126.92,418.3 127.1,409.23 127.22,418.3 127.4,407.61 127.52,418.3 127.7,410.73 127.82,418.3 128,409.86 128.12,418.3 128.3,409.05 128.42,418.3 128.6,411.02 128.72,418.3 128.9,410.09 129.02,418.3 129.2,410.73 129.32,418.3 129.5,409.43 129.62,418.3 129.8,409.28 129.92,418.3 130.1,409.81 130.22,418.3 130.4,410.15 130.52,418.3 130.7,411.2 130.82,418.3 131,410.49 131.12,418.3 131.3,410.54 131.42,418.3 131.6,407.36 131.72,418.3 131.9,410.67 132.02,418.3 132.2,410.16 132.32,418.3 132.5,411.27 132.62,418.3 132.8,410.39 132.92,418.3 133.1,409.39 133.22,418.3 133.4,409.71 133.52,418.3 133.7,410.9 133.82,418.3 134,411.21 134.12,418.3 134.3,411.44 134.42,418.3 134.6,411.41 134.72,418.3 134.9,409.24 135.02,418.3 135.2,409.8 135.32,418.3 135.5,411.41 135.62,418.3 135.8,411.43 135.92,418.3 136.1,411.24 136.22,418.3 136.4,410.64 136.52,418.3 136.7,409.8 136.82,418.3 137,409.26 137.12,418.3 137.3,410.47 137.42,418.3 137.6,410.88 137.72,418.3 137.9,411.67 138.02,418.3 138.2,408.04 138.32,418.3 138.5,410.08 138.62,418.3 138.8,410.35 138.92,418.3 139.1,410.74 139.22,418.3 139.4,411.39 139.52,418.3 139.7,410.06 139.82,418.3 140,410.21 140.12,418.3 140.3,408.64 140.42,418.3 140.6,409.74 140.72,418.3 140.9,409.85 141.02,418.3 141.2,411.8 141.32,418.3 141.5,411.03 141.62,418.3 141.8,411.3 141.92,418.3 142.1,411.73 142.22,418.3 142.4,409.97 142.52,418.3 142.7,411.54 142.82,418.3 143,411.01 143.12,418.3 143.3,410.78 143.42,418.3 143.6,410.24 143.72,418.3 143.9,411.67 144.02,418.3 144.2,410.86 144.32,418.3 144.5,411.57 144.62,418.3 144.8,411.76 144.92,418.3 145.1,411.99 145.22,418.3 145.4,408.97 145.52,418.3 145.7,411.37 145.82,418.3 146,411.06 146.12,418.3 146.3,410.22 146.42,418.3 146.6,412.06 146.72,418.3 146.9,409.92 147.02,418.3 147.2,411.47 147.32,418.3 147.5,410.07 147.62,418.3 147.8,410.2 147.92,418.3 148.1,411.2 148.22,418.3 148.4,411.03 148.52,418.3 148.7,411.51 148.82,418.3 149,408.45 149.12,418.3 149.3,410.86 149.42,418.3 149.6,410.61 149.72,418.3 149.9,411.13 150.02,418.3 150.2,411.4 150.32,418.3 150.5,410.33 150.62,418.3 150.8,410.55 150.92,418.3 151.1,412.02 151.22,418.3 151.4,412.03 151.52,418.3 151.7,411.23 151.82,418.3 152,411.74 152.12,418.3 152.3,410.17 152.42,418.3 152.6,410.33 152.72,418.3 152.9,411.45 153.02,418.3 153.2,411.72 153.32,418.3 153.5,410.71 153.62,418.3 153.8,407.87 153.92,418.3 154.1,411.56 154.22,418.3 154.4,411.75 154.52,418.3 154.7,411.51 154.82,418.3 155,412.12 155.12,418.3 155.3,412.19 155.42,418.3 155.6,411.42 155.72,418.3 155.9,412.28 156.02,418.3 156.2,411.24 156.32,418.3 156.5,410.89 156.62,418.3 156.8,410.52 156.92,418.3 157.1,411.19 157.22,418.3 157.4,410.42 157.52,418.3 157.7,411.82 157.82,418.3 158,411.21 158.12,418.3 158.3,411.19 158.42,418.3 158.6,410.92 158.72,418.3 158.9,411.11 159.02,418.3 159.2,411.03 159.32,418.3 159.5,410.8 159.62,418.3 159.8,410.43 159.92,418.3 160.1,411.5 160.22,418.3 160.4,411.59 160.52,418.3 160.7,407.9 160.82,418.3 161,411.53 161.12,418.3 161.3,410.46 161.42,418.3 161.6,411.82 161.72,418.3 161.9,410.79 162.02,418.3 162.2,411.61 162.32,418.3 162.5,411.97 162.62,418.3 162.8,410.64 162.92,418.3 163.1,410.26 163.22,418.3 163.4,411.92 163.52,418.3 163.7,412.01 163.82,418.3 164,411.72 164.12,418.3 164.3,412.03 164.42,418.3 164.6,411.29 164.72,418.3 164.9,410.79 165.02,418.3 165.2,410.74 165.32,418.3 165.5,411.47 165.62,418.3 165.8,409.89 165.92,418.3 166.1,410.54 166.22,418.3 166.4,412.01 166.52,418.3 166.7,411.2 166.82,418.3 167,410.6 167.12,418.3 167.3,411.04 167.42,418.3 167.6,410.55 167.72,418.3 167.9,411.97 168.02,418.3 168.2,410.37 168.32,418.3 168.5,411.2 168.62,418.3 168.8,411.7 168.92,418.3 169.1,411.64 169.22,418.3 169.4,409.91 169.52,418.3 169.7,411.27 169.82,418.3 170,411.08 170.12,418.3 170.3,410.01 170.42,418.3 170.6,410.81 170.72,418.3 170.9,410.86 171.02,418.3 171.2,408.86 171.32,418.3 171.5,410.96 171.62,418.3 171.8,410.98 171.92,418.3 172.1,410.96 172.22,418.3 172.4,411.79 172.52,418.3 172.7,410.58 172.82,418.3 173,411.07 173.12,418.3 173.3,412 173.42,418.3 173.6,411.28 173.72,418.3 173.9,410.49 174.02,418.3 174.2,410.7 174.32,418.3 174.5,410.66 174.62,418.3 174.8,411.28 174.92,418.3 175.1,410.24 175.22,418.3 175.4,411.67 175.52,418.3 175.7,409.74 175.82,418.3 176,411.3 176.12,418.3 176.3,410.8 176.42,418.3 176.6,411.21 176.72,418.3 176.9,411.2 177.02,418.3 177.2,410.06 177.32,418.3 177.5,410.96 177.62,418.3 177.8,411.12 177.92,418.3 178.1,411.26 178.22,418.3 178.4,411.5 178.52,418.3 178.7,410.68 178.82,418.3 179,411.42 179.12,418.3 179.3,411.94 179.42,418.3 179.6,409.86 179.72,418.3 179.9,411.84 180.02,418.3 180.2,410.21 180.32,418.3 180.5,411.51 180.62,418.3 180.8,411.62 180.92,418.3 181.1,411.09 181.22,418.3 181.4,409.88 181.52,418.3 181.7,409.41 181.82,418.3 182,409.47 182.12,418.3 182.3,409.64 182.42,418.3 182.6,411.42 182.72,418.3 182.9,411.54 183.02,418.3 183.2,409.79 183.32,418.3 183.5,410.83 183.62,418.3 183.8,411.25 183.92,418.3 184.1,411.05 184.22,418.3 184.4,410.05 184.52,418.3 184.7,409.37 184.82,418.3 185,410.64 185.12,418.3 185.3,410.47 185.42,418.3 185.6,409.28 185.72,418.3 185.9,409.94 186.02,418.3 186.2,410.48 186.32,418.3 186.5,409.48 186.62,418.3 186.8,410.34 186.92,418.3 187.1,409.79 187.22,418.3 187.4,409.62 187.52,418.3 187.7,408.92 187.82,418.3 188,409.52 188.12,418.3 188.3,409.51 188.42,418.3 188.6,408.83 188.72,418.3 188.9,410.18 189.02,418.3 189.2,409.55 189.32,418.3 189.5,408.48 189.62,418.3 189.8,410.2 189.92,418.3 190.1,410.04 190.22,418.3 190.4,410.33 190.52,418.3 190.7,408.98 190.82,417.12 191,408.88 191.12,416.18 191.3,409.05 191.42,416.31 191.6,407.9 191.72,417.42 191.9,409.18 192.02,415.51 192.2,409.51 192.32,415.78 192.5,406.95 192.62,416.97 192.8,409.44 192.92,417.33 193.1,407.84 193.22,416.02 193.4,408.31 193.52,415.22 193.7,407.82 193.82,416.31 194,409.17 194.12,417.69 194.3,408.44 194.42,418.14 194.6,408.64 194.72,415.05 194.9,408.51 195.02,414.69 195.2,408.91 195.32,415.43 195.5,408.61 195.62,415.89 195.8,407.7 195.92,414.65 196.1,407.5 196.22,414.88 196.4,408.68 196.52,416.59 196.7,407.87 196.82,416.27 197,407.74 197.12,415.18 197.3,407.28 197.42,417.3 197.6,407.84 197.72,415.18 197.9,407.21 198.02,413.96 198.2,407.91 198.32,415.52 198.5,408.82 198.62,415.57 198.8,406.88 198.92,415.71 199.1,408.57 199.22,414.86 199.4,408.94 199.52,414.71 199.7,406.73 199.82,415.3 200,405.53 200.12,415.25 200.3,406.63 200.42,415.96 200.6,406.82 200.72,414.59 200.9,408.51 201.02,415.22 201.2,406.63 201.32,413.4 201.5,407.93 201.62,415.54 201.8,407.88 201.92,414.4 202.1,407.5 202.22,414.83 202.4,405.57 202.52,414.95 202.7,407.63 202.82,414.53 203,408.53 203.12,413.17 203.3,408.63 203.42,413.81 203.6,408.74 203.72,417.37 203.9,406.75 204.02,414.74 204.2,406.04 204.32,413.97 204.5,407.36 204.62,414.12 204.8,407.16 204.92,413.41 205.1,407.61 205.22,412.61 205.4,408.09 205.52,412.82 205.7,407.98 205.82,412.78 206,406.82 206.12,414.02 206.3,408.08 206.42,413.07 206.6,406.51 206.72,413.84 206.9,406.49 207.02,412.5 207.2,408.13 207.32,418.3 207.5,404.4 207.62,414.5 207.8,406.6 207.92,414.19 208.1,407.43 208.22,413.66 208.4,406.91 208.52,414.01 208.7,406.04 208.82,412.52 209,407.92 209.12,413.54 209.3,406.41 209.42,412.19 209.6,407.37 209.72,412.66 209.9,408.13 210.02,413.19 210.2,408.12 210.32,411.62 210.5,406.93 210.62,413.11 210.8,407.33 210.92,412.13 211.1,406.13 211.22,412.94 211.4,408.19 211.52,412.14 211.7,408.11 211.82,414.4 212,406.75 212.12,411.48 212.3,407.15 212.42,412.31 212.6,407.27 212.72,411.96 212.9,406.18 213.02,413.99 213.2,407.68 213.32,411.27 213.5,405.9 213.62,414.38 213.8,406.54 213.92,412.98 214.1,407.53 214.22,411.68 214.4,407.96 214.52,410.92 214.7,406.23 214.82,410.82 215,406.93 215.12,411.1 215.3,406.33 215.42,411.52 215.6,406.87 215.72,411.73 215.9,407.23 216.02,411.62 216.2,406.75 216.32,412.73 216.5,405.18 216.62,411.08 216.8,406 216.92,410.88 217.1,406.86 217.22,410.19 217.4,407.67 217.52,411.56 217.7,407.29 217.82,410.52 218,405.38 218.12,410.06 218.3,407.34 218.42,412.71 218.6,405.67 218.72,410.53 218.9,405.57 219.02,411.86 219.2,407.23 219.32,410.13 219.5,405.24 219.62,411.86 219.8,407.07 219.92,409.58 220.1,407.19 220.22,410.28 220.4,407.2 220.52,411.31 220.7,405.45 220.82,411.28 221,406.71 221.12,409.92 221.3,405.3 221.42,410.63 221.6,405.42 221.72,409.54 221.9,405.18 222.02,411.9 222.2,406.56 222.32,412.1 222.5,405.52 222.62,409.64 222.8,406.59 222.92,410.82 223.1,406.65 223.22,410.8 223.4,406.38 223.52,409.15 223.7,405.89 223.82,410.77 224,405.03 224.12,410.97 224.3,407.13 224.42,409.21 224.6,405.62 224.72,409.41 224.9,406.27 225.02,410.5 225.2,405.78 225.32,408.85 225.5,406.94 225.62,409.52 225.8,405.59 225.92,408.95 226.1,405.46 226.22,409.14 226.4,405.52 226.52,417.9 226.7,405.03 226.82,409.49 227,406.74 227.12,412.32 227.3,405.84 227.42,409.8 227.6,405.41 227.72,409.31 227.9,405.4 228.02,409.5 228.2,406.7 228.32,410.55 228.5,405.15 228.62,410.05 228.8,405.34 228.92,413.4 229.1,405.91 229.22,408.49 229.4,404.38 229.52,411.79 229.7,404.27 229.82,409.75 230,404.72 230.12,408.36 230.3,405.85 230.42,408.86 230.6,405.04 230.72,407.87 230.9,405.34 231.02,409.42 231.2,404.72 231.32,408.25 231.5,404.73 231.62,409.41 231.8,404.81 231.92,408.07 232.1,404.85 232.22,411.87 232.4,404.84 232.52,409.5 232.7,405.2 232.82,409.88 233,404.37 233.12,409.27 233.3,405.65 233.42,408.04 233.6,404.28 233.72,408 233.9,404.5 234.02,408.9 234.2,405.11 234.32,409.44 234.5,403.29 234.62,409 234.8,405.91 234.92,407.89 235.1,404.24 235.22,409.55 235.4,404.37 235.52,415.13 235.7,401.61 235.82,408.96 236,404.42 236.12,408.81 236.3,404.58 236.42,407.46 236.6,404.3 236.72,407.94 236.9,404.23 237.02,407.78 237.2,405.63 237.32,407.5 237.5,404.67 237.62,407.95 237.8,403.81 237.92,406.7 238.1,404.2 238.22,408.73 238.4,403.71 238.52,407.5 238.7,403.56 238.82,407.83 239,404.04 239.12,408.1 239.3,405.33 239.42,406.56 239.6,405.2 239.72,407.36 239.9,405.43 240.02,407.01 240.2,404.74 240.32,408.66 240.5,403.99 240.62,406.69 240.8,402.88 240.92,406.52 241.1,404.03 241.22,412.65 241.4,404.72 241.52,406.27 241.7,404.37 241.82,408.45 242,403.15 242.12,406.63 242.3,403.23 242.42,406.97 242.6,403.84 242.72,418.24 242.9,403.07 243.02,412.35 243.2,403.97 243.32,407.01 243.5,403.07 243.62,407.57 243.8,403.83 243.92,405.97 244.1,403.92 244.22,408.1 244.4,403.41 244.52,408.01 244.7,403.79 244.82,406.22 245,403.32 245.12,406.61 245.3,404.43 245.42,405.85 245.6,404.88 245.72,407.56 245.9,404.28 246.02,406.45 246.2,404.67 246.32,406.18 246.5,404.24 246.62,406.49 246.8,403.43 246.92,406.49 247.1,403.24 247.22,407.34 247.4,403.27 247.52,406.38 247.7,402.32 247.82,406.49 248,400.35 248.12,406.51 248.3,403.89 248.42,406.06 248.6,404.09 248.72,406.66 248.9,404.51 249.02,412.1 249.2,402.27 249.32,405.58 249.5,404.31 249.62,405.21 249.8,402.63 249.92,406.28 250.1,402.82 250.22,405.4 250.4,402.4 250.52,404.05 250.7,402.72 250.82,405.3 251,403.43 251.12,405.92 251.3,402.27 251.42,403.9 251.6,402.43 251.72,404.1 251.9,402.42 252.02,405.56 252.2,402.07 252.32,404.89 252.5,402.69 252.62,403.86 252.8,402.7 252.92,403.26 253.1,403.28 253.22,405.28 253.4,402.47 253.52,404.21 253.7,402 253.82,418.3 254,401.8 254.12,403.3 254.3,402.29 254.42,404.56 254.6,403.37 254.72,402.96 254.9,401.21 255.02,403.77 255.2,402.81 255.32,402.55 255.5,399.24 255.62,402.79 255.8,402.9 255.92,404.08 256.1,401.77 256.22,403.13 256.4,401.94 256.52,408.65 256.7,402.06 256.82,402.23 257,401.58 257.12,403.19 257.3,403.25 257.42,403.78 257.6,402.26 257.72,402.06 257.9,401.18 258.02,403.41 258.2,402.49 258.32,403.38 258.5,402.67 258.62,402.04 258.8,401.35 258.92,403.61 259.1,401.91 259.22,402.47 259.4,401.87 259.52,402.94 259.7,402.94 259.82,402.34 260,402.21 260.12,403.34 260.3,401.57 260.42,403.25 260.6,402.67 260.72,402.62 260.9,402.56 261.02,402.47 261.2,402.69 261.32,402.39 261.5,401.89 261.62,402.26 261.8,401.59 261.92,401.67 262.1,401.86 262.2,402.13 262.3,402.06 262.4,401.78 262.5,401.64 262.6,401.66 262.7,402.02 262.8,401.53 262.9,401.88 263,401.71 263.1,401.69 263.2,401.65 263.3,401.56 263.4,400.26 263.5,400.52 263.6,400.32 263.7,400.56 263.8,400.76 263.9,400.96 264,401.14 264.1,401.33 264.2,401.36 264.3,401.09 264.4,401.48 264.5,401.04 264.6,401.02 264.7,401.26 264.8,401.21 264.9,401.27 265,401.18 265.1,401.27 265.2,400.8 265.3,400.75 265.4,400.83 265.5,399.52 265.6,399.34 265.7,399.66 265.8,399.93 265.9,400.17 266,400.41 266.1,400.63 266.2,400.86 266.3,400.51 266.4,400.67 266.5,400.76 266.6,400.42 266.7,400.58 266.8,400.73 266.9,400.63 267,400.42 267.1,400.43 267.2,400.3 267.3,400.61 267.4,400.49 267.5,398.26 267.6,398.52 267.7,398.52 267.8,398.9 267.9,399.24 268,399.56 268.1,399.88 268.2,400.2 268.3,399.98 268.4,400.16 268.5,400.01 268.6,400.13 268.7,399.88 268.8,400.11 268.9,399.98 269,399.84 269.1,399.86 269.2,399.95 269.3,399.78 269.4,399.97 269.5,397.08 269.6,397.34 269.7,397.35 269.8,397.84 269.9,398.27 270,398.68 270.1,399.06 270.2,399.43 270.3,399.22 270.4,399.63 270.5,399.51 270.6,399.37 270.7,399.52 270.8,399.14 270.9,399.2 271,399.36 271.1,399.38 271.2,399.13 271.3,399.41 271.4,399.2 271.5,398.87 271.6,396.98 271.7,396.82 271.8,397.3 271.9,397.69 272,398.04 272.1,398.37 272.2,398.69 272.3,398.66 272.4,398.61 272.5,398.83 272.6,398.67 272.7,398.61 272.8,398.67 272.9,398.46 273,398.84 273.1,398.78 273.2,398.61 273.3,398.52 273.4,398.42 273.5,398.54 273.6,395.71 273.7,395.97 273.8,396.05 273.9,396.57 274,397.02 274.1,397.44 274.2,397.84 274.3,398.23 274.4,398.13 274.5,398.42 274.6,398.38 274.7,398.23 274.8,398.25 274.9,397.85 275,397.84 275.1,397.92 275.2,397.78 275.3,397.9 275.4,398.15 275.5,398.04 275.6,398.07 275.7,395.02 275.8,394.94 275.9,395.56 276,396.07 276.1,396.54 276.2,396.98 276.3,397.4 276.4,397.46 276.5,397.43 276.6,397.3 276.7,397.4 276.8,397.26 276.9,397.46 277,397.32 277.1,397.47 277.2,397.39 277.3,397.37 277.4,397.19 277.5,397.38 277.6,397.33 277.7,393.68 277.8,393.93 277.9,394.16 278,394.82 278.1,395.4 278.2,395.94 278.3,396.46 278.4,396.96 278.5,397.07 278.6,396.91 278.7,396.88 278.8,396.76 278.9,396.61 279,396.79 279.1,396.83 279.2,396.59 279.3,396.89 279.4,396.87 279.5,396.83 279.6,396.78 279.7,396.59 279.8,392.05 279.9,392 280,393.02 280.1,393.84 280.2,394.58 280.3,395.28 280.4,395.94 280.5,396.18 280.6,396.19 280.7,396.39 280.8,396.48 280.9,396.01 281,395.93 281.1,396.07 281.2,396.03 281.3,396.13 281.4,395.85 281.5,396.18 281.6,395.9 281.7,396.15 281.8,392.2 281.9,392.46 282,392.62 282.1,393.33 282.2,393.95 282.3,394.51 282.4,395.05 282.5,395.56 282.6,395.57 282.7,395.53 282.8,395.43 282.9,395.79 283,395.57 283.1,395.66 283.2,395.24 283.3,395.45 283.4,395.51 283.5,395.6 283.6,395.55 283.7,395.1 283.8,395.2 283.9,391.24 284,391.51 284.1,391.93 284.2,392.66 284.3,393.32 284.4,393.93 284.5,394.51 284.6,395.25 284.7,394.99 284.8,395.17 284.9,394.78 285,394.64 285.1,395.07 285.2,394.69 285.3,394.81 285.4,394.68 285.5,394.75 285.6,394.9 285.7,394.87 285.8,394.8 285.9,394.46 286,389.77 286.1,389.82 286.2,390.86 286.3,391.72 286.4,392.5 286.5,393.23 286.6,393.93 286.7,394.48 286.8,394.05 286.9,394.22 287,394.45 287.1,394.07 287.2,394.09 287.3,394.17 287.4,393.96 287.5,394.17 287.6,394.11 287.7,393.8 287.8,394.18 287.9,393.72 288,388.12 288.1,388.38 288.2,388.78 288.3,389.9 288.4,390.87 288.5,391.76 288.6,392.59 288.7,393.4 288.8,393.74 288.9,393.53 289,393.4 289.1,393.33 289.2,393.76 289.3,393.63 289.4,393.42 289.5,393.56 289.6,393.61 289.7,393.56 289.8,393.33 289.9,393.17 290,393.26 290.1,388.76 290.2,389.02 290.3,389.42 290.4,390.25 290.5,390.98 290.6,391.66 290.7,392.3 290.8,392.92 290.9,393.2 291,393.04 291.1,392.98 291.2,393.03 291.3,392.78 291.4,392.82 291.5,392.94 291.6,392.58 291.7,392.88 291.8,392.43 291.9,392.65 292,392.64 292.1,392.39 292.2,387.7 292.3,387.96 292.4,388.57 292.5,389.46 292.6,390.25 292.7,390.98 292.8,391.68 292.9,392.52 293,392.24 293.1,392.09 293.2,392.17 293.3,392.22 293.4,392.11 293.5,391.86 293.6,391.88 293.7,392.15 293.8,391.83 293.9,391.86 294,392.1 294.1,392.1 294.2,392.08 294.3,385.25 294.4,385.14 294.5,386.68 294.6,387.86 294.7,388.94 294.8,389.94 294.9,390.9 295,391.46 295.1,391.35 295.2,391.69 295.3,391.58 295.4,391.43 295.5,391.22 295.6,391.4 295.7,391.27 295.8,391.41 295.9,391.57 296,391.15 296.1,391.06 296.2,391.33 296.3,391.01 296.4,386 296.5,386.01 296.6,387.15 296.7,388.08 296.8,388.91 296.9,389.7 297,390.45 297.1,390.8 297.2,390.88 297.3,391.12 297.4,390.76 297.5,390.72 297.6,390.77 297.7,390.58 297.8,390.67 297.9,390.78 298,390.56 298.1,390.77 298.2,390.43 298.3,390.35 298.4,390.58 298.5,384.14 298.6,384.32 298.7,385.68 298.8,386.8 298.9,387.83 299,388.78 299.1,389.7 299.2,390.24 299.3,390.44 299.4,390 299.5,390.29 299.6,390.21 299.7,390.03 299.8,389.88 299.9,390.09 300,390.13 300.1,389.96 300.2,389.93 300.3,390 300.4,389.93 300.5,389.81 300.6,384.63 300.7,384.75 300.8,385.86 300.9,386.78 301,387.62 301.1,388.41 301.2,389.16 301.3,389.45 301.4,389.56 301.5,389.57 301.6,389.72 301.7,389.74 301.8,389.49 301.9,389.34 302,389.26 302.1,389.44 302.2,389.46 302.3,389.18 302.4,389.38 302.5,389.5 302.6,389.17 302.7,383.78 302.8,383.9 302.9,385.06 303,386.02 303.1,386.89 303.2,387.71 303.3,388.49 303.4,389.2 303.5,388.92 303.6,389 303.7,389.07 303.8,388.71 303.9,388.75 304,389.04 304.1,388.55 304.2,388.64 304.3,388.7 304.4,388.8 304.5,388.72 304.6,388.83 304.7,388.67 304.8,381.14 304.9,381.31 305,382.92 305.1,384.23 305.2,385.42 305.3,386.54 305.4,387.61 305.5,388.1 305.6,388.11 305.7,388.06 305.8,388.23 305.9,387.99 306,388.21 306.1,388.24 306.2,387.99 306.3,388.29 306.4,388.04 306.5,388.28 306.6,387.95 306.7,388.05 306.8,387.98 306.9,381.7 307,381.64 307.1,383.05 307.2,384.16 307.3,385.17 307.4,386.11 307.5,387 307.6,387.6 307.7,387.83 307.8,387.41 307.9,387.5 308,387.51 308.1,387.76 308.2,387.54 308.3,387.28 308.4,387.38 308.5,387.5 308.6,387.57 308.7,387.19 308.8,387.5 308.9,387.28 309,379.18 309.1,379.44 309.2,380.82 309.3,382.28 309.4,383.59 309.5,384.81 309.6,385.98 309.7,387.1 309.8,387.02 309.9,387 310,387.25 310.1,387.18 310.2,387.15 310.3,387.03 310.4,386.98 310.5,386.67 310.6,386.59 310.7,386.96 310.8,386.85 310.9,386.8 311,386.61 311.1,380.15 311.2,380.4 311.3,381.21 311.4,382.41 311.5,383.47 311.6,384.46 311.7,385.39 311.8,386.29 311.9,386.31 312,386.61 312.1,386.39 312.2,386.1 312.3,386.23 312.4,386.2 312.5,386.03 312.6,386.46 312.7,386.39 312.8,386.32 312.9,385.88 313,386.06 313.1,385.88 313.2,377.77 313.3,378.03 313.4,378.83 313.5,380.4 313.6,381.76 313.7,383.02 313.8,384.21 313.9,385.35 314,385.91 314.1,385.92 314.2,385.88 314.3,385.86 314.4,385.49 314.5,385.41 314.6,385.42 314.7,385.76 314.8,385.72 314.9,385.54 315,385.37 315.1,385.65 315.2,385.25 315.3,385.32 315.4,377.97 315.5,378.28 315.6,379.83 315.7,381.12 315.8,382.3 315.9,383.4 316,384.46 316.1,384.92 316.2,385.38 316.3,385.07 316.4,385.22 316.5,385.2 316.6,385.06 316.7,385.23 316.8,385.1 316.9,385.14 317,385.13 317.1,384.66 317.2,384.97 317.3,384.67 317.4,384.69 317.5,375.51 317.6,375.76 317.7,377.4 317.8,379.06 317.9,380.54 318,381.92 318.1,383.24 318.2,384.51 318.3,384.43 318.4,384.72 318.5,384.23 318.6,384.39 318.7,384.2 318.8,384.61 318.9,384.33 319,384.4 319.1,384.28 319.2,384.37 319.3,384.13 319.4,384.14 319.5,384.27 319.6,375.35 319.7,375.6 319.8,376.58 319.9,378.22 320,379.66 320.1,380.97 320.2,382.2 320.3,383.38 320.4,383.9 320.5,383.94 320.6,383.6 320.7,383.82 320.8,383.72 320.9,383.59 321,383.45 321.1,383.48 321.2,383.19 321.3,383.15 321.4,383.21 321.5,383.06 321.6,382.97 321.7,383.26 321.8,373.09 321.9,373.46 322,375.56 322.1,377.28 322.2,378.84 322.3,380.3 322.4,381.69 322.5,382.87 322.6,382.76 322.7,382.5 322.8,382.71 322.9,381 322.98,379.8 323.06,378.6 323.14,377.4 323.22,376.2 323.3,375 323.38,373.8 323.46,372.6 323.54,371.32 323.62,369.96 323.7,368.6 323.78,367.24 323.86,365.88 323.94,364.52 324.02,363.6 324.1,364 324.18,364.4 324.26,364.8 324.34,365.2 324.42,365.6 324.5,366 324.58,365.7 324.66,365.4 324.74,365.1 324.82,364.8 324.9,364.5 324.98,364.1 325.06,363.7 325.14,363.3 325.22,362.9 325.3,362.5 325.38,362.1 325.46,356.9 325.54,350.1 325.62,341.9 325.7,329.5 325.78,317.1 325.86,312.38 325.94,310.22 326.02,309.14 326.1,311.3 326.18,313.46 326.26,323.3 326.34,335.7 326.42,346.7 326.5,353.5 326.58,360.3 326.66,362.3 326.74,362.7 326.82,363.1 326.9,363.5 326.98,363.9 327.06,364.3 327.14,364.65 327.22,364.95 327.3,365.25 327.38,365.55 327.46,365.85 327.54,365.8 327.62,365.4 327.7,365 327.78,364.6 327.86,364.2 327.94,363.8 328.02,363.84 328.1,365.2 328.18,366.56 328.26,367.92 328.34,369.28 328.42,370.64 328.5,372 328.58,373.2 328.66,374.4 328.74,375.6 328.82,376.8 328.9,378 328.98,379.2 329.06,380.4 329.14,380.64 329.24,380.52 329.34,380.31 329.44,380.47 329.54,380.32 329.64,379.12 329.74,377.87 329.84,376.54 329.94,375.12 330.04,373.53 330.14,371.97 330.24,371.65 330.34,380.25 330.44,380.17 330.54,380.09 330.64,380.44 330.74,380.31 330.84,380.44 330.94,380.05 331.04,380.08 331.14,380.18 331.24,379.94 331.34,380.05 331.44,380.15 331.54,380.11 331.64,380.31 331.74,379.37 331.84,377.85 331.94,376.25 332.04,374.55 332.14,372.71 332.24,370.59 332.34,369.27 332.44,368.94 332.54,380.01 332.64,380.02 332.74,379.98 332.84,380.07 332.94,379.84 333.04,379.64 333.14,380.12 333.24,380.01 333.34,379.66 333.44,379.64 333.54,379.68 333.64,379.88 333.74,379.6 333.84,379.53 333.94,378.67 334.04,377.32 334.14,375.9 334.24,374.39 334.34,372.72 334.44,370.7 334.54,370.28 334.64,379.65 334.74,379.39 334.84,379.5 334.94,379.55 335.04,379.45 335.14,379.33 335.24,379.44 335.34,379.42 335.44,379.45 335.54,379.48 335.64,379.43 335.74,379.4 335.84,379.23 335.94,379.63 336.04,379.21 336.14,377.81 336.24,376.35 336.34,374.82 336.44,373.18 336.54,371.36 336.64,369.59 336.74,369.29 336.84,379.44 336.94,379.31 337.04,379.05 337.14,379.15 337.24,379.46 337.34,379.23 337.44,379.09 337.54,379.38 337.64,379.4 337.74,379 337.84,379.17 337.94,379.19 338.04,378.95 338.14,379.04 338.24,378.54 338.34,377.2 338.44,375.82 338.54,374.35 338.64,372.77 338.74,370.97 338.84,369.76 338.94,369.46 339.04,379.05 339.14,379.07 339.24,379.03 339.34,379.01 339.44,378.87 339.54,378.7 339.64,378.66 339.74,379.06 339.84,379.06 339.94,379.06 340.04,378.63 340.14,378.96 340.24,378.65 340.34,378.72 340.44,377.83 340.54,376.37 340.64,374.85 340.74,373.23 340.84,371.47 340.94,369.42 341.04,368.51 341.14,368.21 341.24,378.51 341.34,378.83 341.44,378.79 341.54,378.79 341.64,378.54 341.74,378.81 341.84,378.45 341.94,378.6 342.04,378.63 342.14,378.4 342.24,378.45 342.34,378.3 342.44,378.63 342.54,378.31 342.64,377.02 342.74,375.29 342.84,373.49 342.94,371.57 343.04,369.47 343.14,366.93 343.24,366.27 343.34,378.17 343.44,378.22 343.54,378.39 343.64,378.37 343.74,378.3 343.84,378.45 343.94,378.39 344.04,378.1 344.14,378.25 344.24,378.05 344.34,378.07 344.44,378.01 344.54,377.96 344.64,378.08 344.74,378.12 344.84,376.54 344.94,374.91 345.04,373.2 345.14,371.4 345.24,369.4 345.34,366.9 345.44,366.68 345.54,378.33 345.64,378.22 345.74,377.94 345.84,378.01 345.94,378.2 346.04,378.18 346.14,377.93 346.24,377.97 346.34,378.21 346.44,378.24 346.54,377.98 346.64,378.33 346.74,378.07 346.84,378.26 346.94,378.03 347.04,376.37 347.14,374.64 347.24,372.83 347.34,370.89 347.44,368.74 347.54,365.92 347.64,366 347.74,378.28 347.84,378.19 347.94,378.5 348.04,378.23 348.14,378.25 348.24,378.31 348.34,378.47 348.44,378.55 348.54,378.45 348.64,378.34 348.74,378.43 348.84,378.4 348.94,378.57 349.04,378.58 349.14,378.11 349.24,376.71 349.34,375.26 349.44,373.73 349.54,372.09 349.64,370.27 349.74,368.35 349.84,368.07 349.94,378.53 350.04,378.26 350.14,378.44 350.24,378.38 350.34,378.29 350.44,378.57 350.54,378.29 350.64,378.54 350.74,378.44 350.84,378.41 350.94,378.56 351.04,378.57 351.14,378.71 351.24,378.72 351.34,378.21 351.44,376.7 351.54,375.13 351.64,373.48 351.74,371.71 351.84,369.74 351.94,367.62 352.04,367.35 352.14,378.68 352.24,378.42 352.34,378.62 352.44,378.54 352.54,378.77 352.64,378.53 352.74,378.49 352.84,378.33 352.94,378.56 353.04,378.6 353.14,378.49 353.24,378.4 353.34,378.59 353.44,378.39 353.54,378.38 353.64,376.78 353.74,375.13 353.84,373.38 353.94,371.52 354.04,369.45 354.14,366.75 354.24,366.82 354.34,378.5 354.44,378.64 354.54,378.6 354.64,378.68 354.74,378.7 354.84,378.63 354.94,378.51 355.04,378.46 355.14,378.74 355.24,378.95 355.34,378.61 355.44,378.65 355.54,378.64 355.64,378.86 355.74,378.65 355.84,377.25 355.94,375.8 356.04,374.3 356.14,372.7 356.24,370.95 356.34,368.78 356.44,368.64 356.54,378.79 356.64,378.95 356.74,378.56 356.84,378.63 356.94,378.67 357.04,378.76 357.14,378.78 357.24,378.78 357.34,379.07 357.44,378.82 357.54,378.89 357.64,379.09 357.74,378.94 357.84,378.92 357.94,379.04 358.04,377.69 358.14,376.4 358.24,375.06 358.34,373.64 358.44,372.1 358.54,370.26 358.64,369.87 358.74,369.64 358.84,378.85 358.94,378.7 359.04,379.17 359.14,378.97 359.24,379 359.34,378.74 359.44,379.09 359.54,378.91 359.64,379.05 359.74,378.88 359.84,379.2 359.94,378.93 360.04,378.9 360.14,379.22 360.24,378.33 360.34,377.41 360.44,376.44 360.54,375.43 360.64,374.33 360.74,373.05 360.84,372.61 360.94,372.37 361.04,379.06 361.14,379.11 361.24,379.23 361.34,379.5 361.44,379.09 361.54,379.15 361.64,379.47 361.74,379.12 361.84,379.31 361.94,379.52 362.04,379.5 362.14,379.56 362.24,379.24 362.34,379.65 362.44,378.99 362.54,378.15 362.64,377.27 362.74,376.35 362.84,375.36 362.94,374.23 363.04,373.62 363.14,373.38 363.24,379.56 363.34,379.8 363.44,379.65 363.54,379.88 363.64,379.69 363.74,379.6 363.84,379.57 363.94,379.76 364.04,379.56 364.14,379.63 364.24,380.01 364.34,379.88 364.44,380.04 364.54,379.71 364.64,379.65 364.74,378.82 364.84,377.97 364.94,377.07 365.04,376.13 365.14,375.1 365.24,374.28 365.34,374.07 365.44,380.04 365.54,380.06 365.64,379.9 365.74,379.99 365.84,380.34 365.94,380.26 366.04,380.17 366.14,380.24 366.24,380.39 366.34,380.46 366.44,380.3 366.54,380.04 366.64,380.47 366.74,380.14 366.84,380.32 366.94,379.64 367.04,378.95 367.14,378.23 367.24,377.49 367.34,376.68 367.44,375.72 367.54,375.69 367.64,375.48 367.74,380.37 367.84,380.34 367.94,380.54 368.04,380.6 368.14,380.56 368.24,380.58 368.34,380.44 368.44,380.74 368.54,380.67 368.64,380.58 368.74,380.86 368.84,380.93 368.94,380.94 369.04,380.99 369.14,380.4 369.24,379.85 369.34,379.28 369.44,378.7 369.54,378.09 369.64,377.39 369.74,377.22 369.84,377.01 369.94,380.71 370.04,380.89 370.14,380.94 370.24,380.86 370.34,381.13 370.44,381.23 370.54,380.86 370.64,381.06 370.74,381.31 370.84,381.29 370.94,381.1 371.04,380.94 371.14,381.14 371.24,381.19 371.34,381.1 371.44,380.75 371.54,380.39 371.64,380.03 371.74,379.66 371.84,379.25 371.94,378.73 372.04,379 372.14,381.49 372.24,381.21 372.34,381.28 372.44,381.65 372.54,381.19 372.64,381.5 372.74,381.27 372.84,381.61 372.94,381.47 373.04,381.74 373.14,381.41 373.24,381.75 373.34,381.45 373.44,381.38 373.54,381.42 373.64,381.45 373.74,381.24 373.84,381.03 373.94,380.83 374.04,380.62 374.14,380.38 374.24,380.61 374.34,380.41 374.44,381.59 374.54,381.76 374.64,382.07 374.74,381.78 374.84,381.98 374.94,381.66 375.04,381.92 375.14,381.95 375.24,381.75 375.34,382.01 375.44,381.96 375.54,381.92 375.64,382.2 375.74,382.15 375.84,382.04 375.94,381.98 376.04,381.87 376.39,381.85 376.74,381.8 377.09,381.91 377.44,382.12 377.79,382.3 378.14,382.28 378.49,382.2 378.84,381.74 379.19,382.13 379.54,382.1 379.89,381.91 380.24,382.2 380.59,381.95 380.94,381.64 381.29,381.69 381.64,381.62 381.99,381.89 382.34,381.88 382.69,382.01 383.04,381.48 383.39,381.47 383.74,382.03 384.09,381.59 384.44,381.57 384.79,381.92 385.14,381.45 385.49,381.84 385.84,381.89 386.19,381.67 386.54,381.68 386.89,381.3 387.24,381.65 387.59,381.64 387.94,381.72 388.29,381.55 388.64,381.29 388.99,381.34 389.34,381.58 389.69,381.22 390.04,381.22 390.39,381.29 390.74,381.6 391.09,381.44 391.44,381.31 391.79,381.65 392.14,381.41 392.49,381.19 392.84,381.37 393.19,381.53 393.54,381.22 393.89,381.24 394.24,381.31 394.59,381.54 394.94,381.32 395.29,381.02 395.64,381.25 395.99,381.08 396.34,381.15 396.69,381.28 397.04,380.85 397.39,381.12 397.74,380.99 398.09,381.15 398.44,381.26 398.79,381.04 399.14,381.12 399.49,380.9 399.84,380.86 400.19,381 400.54,380.99 400.89,380.79 401.24,381.1 401.59,380.92 401.94,380.82 402.29,380.74 402.64,381.08 402.99,381.1 403.34,381.1 403.69,380.67 404.04,380.55 404.39,380.87 404.74,380.49 405.09,380.97 405.44,380.85 405.79,380.63 406.14,380.67 406.49,380.8 406.84,380.47 407.19,380.58 407.54,380.81 407.89,380.73 408.24,380.66 408.59,380.35 408.94,380.41 409.29,380.41 409.64,380.26 409.99,380.61 410.34,380.55 410.69,380.75 411.04,380.51 411.39,380.71 411.74,380.42 412.09,380.44 412.44,380.28 412.79,380.37 413.14,380.64 413.49,380.35 413.84,380.04 414.19,380.24 414.54,380.13 414.89,380.37 415.24,380.28 415.59,380.24 415.94,380.5 416.29,380.38 416.64,379.96 416.99,379.91 417.34,380.3 417.69,380.22 418.04,380.23 418.39,380.13 418.74,379.83 419.09,380.06 419.44,380.28 419.79,380.12 420.14,379.77 420.49,379.8 420.84,380.25 421.19,380.02 421.54,379.78 421.89,380.08 422.24,380.2 422.59,380.15 422.94,380 423.29,380.08 423.64,379.63 423.99,379.84 424.34,380.03 424.69,379.73 425.04,379.6 425.39,380.01 425.74,379.9 426.09,379.47 426.44,379.48 426.79,379.76 427.14,379.98 427.49,379.76 427.84,379.9 428.19,379.42 428.54,379.69 428.89,379.44 429.24,379.51 429.59,379.38 429.94,379.56 430.29,379.29 430.64,379.64 430.99,379.62 431.34,379.75 431.69,379.66 432.04,379.22 432.39,379.68 432.74,379.47 433.09,379.69 433.44,379.41 433.79,379.14 434.14,379.5 434.49,379.17 434.84,379.64 435.19,379.35 435.54,379.55 435.89,379.29 436.24,379.17 436.59,379.36 436.94,379.37 437.29,379.2 437.64,379.08 437.99,379.15 438.34,379.31 438.69,379 439.04,378.94 439.39,379.12 439.74,379.21 440.09,378.84 440.44,378.98 440.79,379.41 441.14,378.99 441.49,379.31 441.84,379.04 442.19,378.92 442.54,379.17 442.89,379.41 443.24,379.36 443.59,378.94 443.94,379.34 444.29,379.3 444.64,379.23 444.99,379.35 445.34,379.27 445.69,379.08 446.04,379.4 446.39,379.07 446.74,379.19 447.09,379.52 447.44,379.36 447.79,379.34 448.14,379.47 448.49,379.35 448.84,379.3 449.19,379.41 449.54,379.1 449.89,379.31 450.24,379.13 450.59,379.72 450.94,379.67 451.29,379.53 451.64,379.24 451.99,379.67 452.34,379.34 452.69,379.66 453.04,379.58 453.39,379.56 453.74,379.66 454.09,379.38 454.44,379.73 454.79,379.57 455.14,379.71 455.49,379.77 455.84,379.43 456.19,379.53 456.54,379.51 456.89,379.35 457.24,379.84 457.59,379.74 457.94,379.63 458.29,379.68 458.64,379.89 458.99,379.41 459.34,379.59 459.69,379.8 460.04,379.72 460.39,379.71 460.74,379.58 461.09,379.57 461.44,379.85 461.79,379.66 462.14,380.03 462.49,380.02 462.84,380.07 463.19,379.66 463.54,379.81 463.89,379.58 464.24,379.74 464.59,379.58 464.94,379.85 465.29,380.13 465.64,380.03 465.99,379.8 466.34,379.76 466.69,380.16 467.04,379.64 467.39,380.13 467.74,380.15 468.09,379.68 468.44,380.22 468.79,380.05 469.14,379.91 469.49,379.94 469.84,380.06 470.19,380.05 470.54,380.31 470.89,380.39 471.24,380.1 471.59,379.97 471.94,380.49 472.29,380.47 472.64,380.53 472.99,380.24 473.34,380.3 473.69,380.85 474.04,380.59 474.39,380.72 474.74,381.07 475.09,380.67 475.44,380.99 475.79,380.7 476.14,381.06 476.49,381.22 476.84,380.93 477.19,381.35 477.54,381.54 477.89,381.51 478.24,381.55 478.59,381.7 478.94,381.62 479.29,381.58 479.64,381.8 479.99,381.85 480.34,381.8 480.69,381.88 481.04,381.65 481.39,381.8 481.74,381.85 482.09,382.23 482.44,382.24 482.79,382.01 483.14,382.49 483.49,381.98 483.84,382.04 484.19,382.26 484.54,382.17 484.89,382.75 485.24,382.46 485.59,382.53 485.94,382.87 486.29,382.73 486.64,382.85 486.99,382.8 487.34,382.87 487.69,383.22 488.04,382.87 488.39,383.08 488.74,383.11 489.09,382.97 489.44,383.03 489.79,383.3 490.14,383.54 490.49,383.37 490.84,383.21 491.19,383.79 491.54,383.37 491.89,383.88 492.24,383.43 492.59,383.85 492.94,383.61 493.29,383.74 493.64,383.89 493.99,384.15 494.34,384.02 494.69,384.07 495.04,384.11 495.39,384.24 495.74,384.16 496.09,384.62 496.44,384.22 496.79,384.24 497.14,384.55 497.49,384.47 497.84,384.74 498.19,384.37 498.54,384.8 498.89,384.65 499.24,385.03 499.59,384.7 499.94,384.82 500.29,384.8 500.64,384.97 500.99,384.86 501.34,385.14 501.69,385.02 502.04,385.25 502.39,385.04 502.74,385.18 503.09,385.28 503.44,385.42 503.79,385.43 504.14,385.34 504.49,385.17 504.84,385.23 505.19,385.3 505.54,385.36 505.89,385.4 506.24,385.73 506.59,385.58 506.94,385.97 507.29,385.61 507.64,385.66 507.99,385.66 508.34,385.68 508.69,386.05 509.04,386.03 509.39,385.88 509.74,386.25 510.09,386.22 510.44,386.12 510.79,386.28 511.14,386.36 511.49,386.28 511.84,386.12 512.19,386.34 512.54,386.74 512.89,386.45 513.24,386.66 513.59,386.38 513.94,386.84 514.29,386.94 514.64,386.7 514.99,386.75 515.34,386.89 515.69,386.78 516.04,386.81 516.39,386.81 516.74,387.19 517.09,387.14 517.44,387.46 517.79,387.51 518.14,387.51 518.49,387.6 518.84,387.59 519.19,387.15 519.54,387.27 519.89,387.83 520.24,387.82 520.59,387.71 520.94,387.77 521.29,387.71 521.64,387.75 521.99,387.63 522.34,387.93 522.69,387.81 523.04,387.77 523.39,388.27 523.74,388.15 524.09,388.38 524.44,388.08 524.79,388.3 525.14,388.17 525.49,388.56 525.84,388.23 526.19,388.55 526.54,388.54 526.89,388.46 527.24,388.36 527.59,388.66 527.94,388.73 528.29,388.96 528.64,388.64 528.99,388.68 529.34,388.8 529.69,389.15 530.04,388.86 530.39,389.15 530.74,388.84 531.09,388.92 531.44,389.35 531.79,389.27 532.14,389.09 532.49,389.36 532.84,389.69 533.19,389.41 533.54,389.56 533.89,389.53 534.24,389.64 534.59,389.41 534.94,389.96 535.29,389.83 535.64,389.74 535.99,389.76 536.34,389.75 536.69,390.25 537.04,390.24 537.39,390.02 537.74,390.2 538.09,390.22 538.44,390.06 538.79,390.02 539.14,390.49 539.49,390.19 539.84,390.49 540.19,390.21 540.54,390.26 540.89,390.4 541.24,390.74 541.59,390.77 541.94,391.05 542.29,390.9 542.64,390.87 542.99,390.62 543.34,391.23 543.69,391 544.04,391.27 544.39,390.84 544.74,391.36 545.09,391.18 545.44,390.99 545.79,391.08 546.14,390.85 546.49,391.13 546.84,390.88 547.19,391.15 547.54,390.8 547.89,391.08 548.24,391.01 548.59,391.04 548.94,391.16 549.29,390.73 549.64,390.94 549.99,390.74 550.34,391.01 550.69,390.94 551.04,390.87 551.39,390.75 551.74,390.52 552.09,390.88 552.44,390.89 552.79,390.85 553.14,390.45 553.49,390.71 553.84,390.6 554.19,390.67 554.54,390.62 554.89,390.38 555.24,390.32 555.59,390.53 555.94,390.42 556.29,390.32 556.64,390.49 556.99,389.96 557.34,389.92 557.69,390.16 558.04,389.92 558.39,390.33 558.74,389.85 559.09,390.3 559.44,389.88 559.79,389.8 560.14,390.13 560.49,390.04 560.84,389.82 561.19,389.89 561.54,389.81 561.89,390 562.24,389.68 562.59,389.65 562.94,389.55 563.29,389.47 563.64,389.59 563.99,389.19 564.34,389.49 564.69,389.58 565.04,389.43 565.39,389.24 565.74,389.08 566.09,388.88 566.44,388.82 566.79,389.04 567.14,389.19 567.49,389.13 567.84,388.67 568.19,388.96 568.54,388.95 568.89,388.7 569.24,388.88 569.59,388.42 569.94,388.46 570.29,388.52 570.64,388.59 570.99,388.38 571.34,388.24 571.69,388.53 572.04,388.19 572.39,388.16 572.74,387.99 573.09,388.09 573.44,388.17 573.79,387.92 574.14,388.05 574.49,387.89 574.84,387.56 575.19,388.07 575.54,387.62 575.89,387.72 576.24,387.92 576.59,387.42 576.94,387.28 577.29,387.32 577.64,387.23 577.99,387.6 578.34,387.35 578.69,387.02 579.04,387.1 579.39,387.2 579.74,386.94 580.09,386.97 580.44,387.29 580.79,386.96 581.14,386.79 581.49,386.96 581.84,386.63 582.19,386.83 582.54,386.86 582.89,386.48 583.24,386.71 583.59,386.52 583.94,386.73 584.29,386.61 584.64,386.74 584.99,386.52 585.34,386.22 585.69,386.17 586.04,386.44 586.39,386.46 586.74,385.96 587.09,386.13 587.44,386 587.79,386.07 588.14,386.27 588.49,386.03 588.84,386.1 589.19,386.06 589.54,385.73 589.89,385.89 590.24,385.69 590.59,385.71 590.94,385.7 591.29,385.73 591.64,385.39 591.99,385.74 592.34,385.29 592.69,385.34 593.04,385.61 593.39,385.65 593.74,385.23 594.09,385.54 594.44,384.95 594.79,385.45 595.14,384.95 595.49,384.81 595.84,385.2 596.19,384.79 596.54,385.1 596.89,384.61 597.24,384.63 597.59,384.73 597.94,384.52 598.29,384.7 598.64,384.58 598.99,384.77 599.34,384.58 599.69,384.82 600.04,384.7 600.39,384.29 600.74,384.72 601.09,384.69 601.44,384.47 601.79,384.44 602.14,384.21 602.49,384.28 602.84,384.21 603.19,384.18 603.54,384.41 603.89,384.22 604.24,384.47 604.59,384.34 604.94,384.48 605.29,384.02 605.64,384.46 605.99,384.24 606.34,384.3 606.69,384.04 607.04,384.3 607.39,384.11 607.74,384.29 608.09,384.19 608.44,383.91 608.79,383.99 609.14,384.24 609.49,383.79 609.84,384.14 610.19,384.07 610.54,384.16 610.89,383.91 611.24,383.98 611.59,383.97 611.94,384.12 612.29,383.69 612.64,383.94 612.99,383.78 613.34,383.96 613.69,383.74 614.04,383.7 614.39,383.7 614.74,384.08 615.09,383.74 615.44,384.04 615.79,383.94 616.14,383.64 616.49,383.8 616.84,383.45 617.19,383.99 617.54,383.79 617.89,383.47 618.24,383.41 618.34,383.09 618.44,382.76 618.54,382.44 618.64,382.12 618.74,381.8 618.84,381.48 618.94,381.16 619.04,380.84 619.14,380.51 619.24,380.19 619.34,379.43 619.44,378 619.54,376.57 619.64,375.14 619.74,373.71 619.84,372.29 619.94,370.86 620.04,369.07 620.14,366.73 620.24,364.4 620.34,362.07 620.44,359.73 620.54,357.4 620.64,355.83 620.74,355.4 620.84,354.97 620.94,354.54 621.04,354.11 621.14,353.69 621.24,353.26 621.34,352.36 621.44,350.76 621.54,349.16 621.64,347.56 621.74,345.96 621.84,344.04 621.94,341.64 622.04,339.24 622.14,336.84 622.24,334.44 622.34,332.9 622.44,332.64 622.54,332.38 622.64,332.12 622.74,331.86 622.84,331.8 622.94,332.06 623.04,332.32 623.14,332.58 623.24,332.84 623.34,333.96 623.44,336.36 623.54,338.76 623.64,341.16 623.74,343.56 623.84,345.64 623.94,347.24 624.04,348.84 624.14,350.44 624.24,352.04 624.34,353.17 624.44,353.6 624.54,354.03 624.64,354.46 624.74,354.89 624.84,355.31 624.94,355.74 625.04,356.93 625.14,359.27 625.24,361.6 625.34,363.93 625.44,366.27 625.54,368.6 625.64,370.57 625.74,372 625.84,373.43 625.94,374.86 626.04,376.29 626.14,377.71 626.24,379.14 626.34,380.13 626.44,380.45 626.54,380.77 626.64,381.09 626.74,381.41 626.84,381.74 626.94,382.06 627.04,382.38 627.14,382.7 627.24,383.02 627.34,383.34 627.44,383.66 627.54,383.99 627.64,384.31 627.74,386.05 628.09,386.4 628.24,386.31 628.39,386.07 628.54,386.43 628.69,386.71 628.84,386.22 628.99,387.11 629.14,386.5 629.29,386.22 629.44,386.49 629.59,387.27 629.74,386.58 629.89,385.88 630.04,386.61 630.19,386.25 630.34,386.64 630.49,387.08 630.64,386.58 630.79,387.5 630.94,386.72 631.09,387.71 631.24,386.81 631.39,386.99 631.54,386.78 631.69,387.21 631.84,386.72 631.99,386.94 632.14,386.8 632.29,386.47 632.44,386.76 632.59,387.65 632.74,386.98 632.89,387.42 633.04,386.97 633.19,387.13 633.34,386.98 633.49,387.45 633.64,386.85 633.79,387.09 633.94,387.18 634.09,386.7 634.24,387.07 634.39,386.51 634.54,387.05 634.69,387.9 634.84,387.02 634.99,387.89 635.14,387.29 635.29,388.06 635.44,387.17 635.59,388.21 635.74,387.25 635.89,387.39 636.04,387.46 636.19,387.6 636.34,387.42 636.49,386.86 636.64,387.26 636.79,387.17 636.94,387.33 637.09,388.22 637.24,387.41 637.39,388.5 637.54,387.58 637.69,387.17 637.84,387.63 637.99,387.43 638.14,387.62 638.29,387.04 638.44,387.75 638.59,388.36 638.74,387.72 638.89,388.23 639.04,387.69 639.19,387.26 639.34,387.72 639.49,388.4 639.64,387.84 639.79,387.35 639.94,387.78 640.09,388 640.24,387.75 640.39,387.27 640.54,387.92 640.69,387.47 640.84,388.1 640.99,387.5 641.14,388.1 641.29,388.74 641.44,388.01 641.59,388.33 641.74,388.25 641.89,388.5 642.04,388.11 642.19,389.19 642.34,388.11 642.49,389.2 642.64,388.17 642.79,388.28 642.94,388.21 643.09,388.73 643.24,388.42 643.39,388.84 643.54,388.25 643.69,389.42 643.84,388.46 643.99,388.59 644.14,388.54 644.29,387.91 644.44,388.5 644.59,389.18 644.74,388.6 644.89,389.01 645.04,388.42 645.19,388.71 645.34,388.52 645.49,388.98 645.64,388.6 645.79,388.75 645.94,388.69 646.09,389.03 646.24,388.83 646.39,388.52 646.54,388.69 646.69,388.38 646.84,388.68 646.99,389.62 647.14,388.97 647.29,388.36 647.44,388.84 647.59,389.8 647.74,389.03 647.89,389.97 648.04,389.11 648.19,388.8 648.34,388.87 648.49,388.74 648.64,389.04 648.79,388.36 648.94,389.01 649.09,389.23 649.24,389.18 649.39,388.7 649.54,389.05 649.69,389.05 649.84,389.08 649.99,388.72 650.14,389.13 650.29,390.04 650.44,389.47 650.59,388.78 650.74,389.55 650.89,390.33 651.04,389.61 651.19,389.46 651.34,389.76 651.49,389.17 651.64,389.64 651.79,390.85 651.94,389.79 652.09,390.88 652.24,390.06 652.39,389.42 652.54,389.97 652.69,390.61 652.84,390.09 652.99,390.75 653.14,390.35 653.29,390.07 653.44,390.4 653.59,390.14 653.74,390.62 653.89,391 654.04,390.67 654.19,391.09 654.34,390.59 654.49,391.67 654.64,390.91 654.79,391.11 654.94,390.96 655.09,391.17 655.24,391.11 655.39,391.35 655.54,391.07 655.69,391.42 655.84,391.16 655.99,390.61 656.14,391.36 656.29,392.27 656.44,391.52 656.59,391.19 656.74,391.56 656.89,391.96 657.04,391.69 657.19,391.85 657.34,391.77 657.49,392.36 657.64,391.99 657.79,392.16 657.94,392.07 658.09,392.56 658.24,391.97 658.39,391.91 658.54,392.13 658.69,392.18 658.84,392.29 658.99,392.18 659.14,392.55 659.29,393.08 659.44,392.47 659.59,393.12 659.74,392.74 659.89,392.25 660.04,392.75 660.19,393.8 660.34,392.78 660.49,393.76 660.64,393.02 660.79,392.86 660.94,392.92 661.09,393.84 661.24,393.11 661.39,393.12 661.54,393.23 661.69,393.91 661.84,393.47 661.99,394.35 662.14,393.53 662.29,393.12 662.44,393.52 662.59,392.92 662.74,393.57 662.89,393.63 663.04,393.67 663.19,393.98 663.34,393.76 663.49,394.4 663.64,393.95 663.79,393.78 663.94,394.14 664.09,394.03 664.24,394.05 664.39,395.05 664.54,394.37 664.69,395.23 664.84,394.34 664.99,394.23 665.14,394.56 665.29,394.12 665.44,394.75 665.59,395.14 665.74,394.73 665.89,394.16 666.04,394.75 666.19,394.94 666.34,395.07 666.49,394.54 666.64,395.06 666.79,394.52 666.94,395.28 667.09,395.83 667.24,395.33 667.39,395.94 667.54,395.25 667.69,395.13 667.84,395.31 667.99,395.8 668.14,395.43 668.29,395.25 668.44,395.56 668.59,396.67 668.74,395.85 668.89,395.63 669.04,396.01 669.19,395.51 669.34,395.87 669.49,396.02 669.64,396.17 669.79,395.61 669.94,396.27 670.09,396.52 670.24,396.38 670.39,396.25 670.54,396.26 670.69,395.93 670.84,396.57 670.99,396.77 671.14,396.69 671.29,396.32 671.44,396.65" stroke="#F7851A" stroke-width="0.95" fill="none" stroke-linejoin="round"/>
<path d="M415.92,379.94v1.65M420.33,379.73v0.53M405.25,380.45v0.89M411.3,380.16v2.2M420.88,379.71v1.47M417.84,379.85v1.66M408.34,380.3v1.03M408.73,380.29v2.58M406.35,380.4v2.23M406.72,380.38v1.75M412.75,380.09v0.95M424.38,379.54v0.45M432.38,379.16v10.49M464.64,379.54v1.94M499.07,384.46v11.04M436.1,378.99v3.97M437.73,378.91v3.06M472.74,380.16v2.19M478.17,381.06v1.85M440.33,378.81v8.87M456.84,379.31v3.93M470.91,379.85v4.49M455.69,379.27v1.82M480.3,381.42v11.41M498.29,384.36v6.68M453.66,379.21v3.45M477.69,380.98v6.81M436.2,378.98v2.55M454.16,379.22v4.85M486.33,382.42v4.73M430.03,379.27v8.98M458.97,379.37v4.93M444,378.92v4.01M455.95,379.28v8.2M435.39,379.02v5.28M440.82,378.82v7.11M430.65,379.24v2.81M452.78,379.18v6.33M431.75,379.19v4.31M443.03,378.89v2.84M462.29,379.47v11.26M462.63,379.48v11.2M440.06,378.8v10.65M454.22,379.23v2.31M481.89,381.68v10.44M428.48,379.35v2.75M483.49,381.95v3.28M445.39,378.96v1.8M430.88,379.23v6.1M498.83,384.43v11.97M464.26,379.53v1.81M451.22,379.14v8.43M487.9,382.68v6.36M444.53,378.94v5.02M462.37,379.47v6.2M446.91,379.01v11.04M492.39,383.43v2.19M448.98,379.07v9.79M448.04,379.04v10.99M465.09,379.55v7.11M478.74,381.16v2.44M448.52,379.06v2.67M477.2,380.9v7.09M437.48,378.92v10.01M458.26,379.35v2.59M459.34,379.38v11.63M468.32,379.65v6.17M494.24,383.74v11.31M482.75,381.83v3.92M470.37,379.76v10.25M484.82,382.17v5.63M453.02,379.19v3.49M480.98,381.53v5.43M429.23,379.31v7.31M493.07,383.55v8.59M492.62,383.47v10.42M466.52,379.6v8.46M526.56,388.21v1.96M524.72,387.95v3.05M565.38,388.92v7.02M537.91,389.87v6.14M508.73,385.64v5.1M549.04,390.58v3.71M517.2,386.85v3.82M522.65,387.64v6.97M509.93,385.79v1.94M521.87,387.53v7.11M553.17,390.25v6.62M565.43,388.91v3.47M502.08,384.83v4.6M531.06,388.87v2.26M546.72,390.76v3.27M516.68,386.77v3.17M566.07,388.82v1.8M525.22,388.02v2.83M514.09,386.4v4.06M515.43,386.59v10.56M535.07,389.45v7.14M511.36,386v4.37M542.46,390.53v9.3M517.49,386.89v4.32M559.84,389.71v9.12M515.93,386.66v5.14M553.29,390.24v3.72M547.14,390.73v6.67M568.07,388.53v5.32M547.65,390.69v3.34M551.26,390.4v3.13M534.99,389.44v3.43M521.5,387.48v2.08M515.8,386.64v5.21M517.63,386.91v1.84M556.25,390v2.87M565.53,388.9v5.85M527.24,388.31v9.79M562.81,389.29v3.12M508.81,385.65v6.38M558.99,389.78v5.97M554.9,390.11v3.87M543.25,390.64v2.72M528.48,388.49v3.58M526.93,388.27v3.76M556.5,389.98v2.22M514.36,386.43v2.67M567.97,388.54v4.97M503.7,385.03v9.18M561.15,389.53v8.95M525.12,388v7.66M521.38,387.46v2.09M560.57,389.62v9.14M514.78,386.5v9.9M501.72,384.78v3.03M570.32,388.2v0.74M574.08,387.66v2.46M577.41,387.17v0.77M574.6,387.58v1.02M591.55,385.3v1.98M572.56,387.88v2.32M583.41,386.36v1.4M583.19,386.39v2.17M590.02,385.5v1.6M585.89,386.03v1.46M585.85,386.04v1.22M580.37,386.75v1.64" stroke="#F7851A" stroke-width="0.7" fill="none"/>
<path d="M91.2,405 91.25,403.5 91.3,402 91.35,400.5 91.4,399 91.45,397.5 91.5,396 91.55,395.19 91.6,394.38 91.65,393.56 91.7,392.75 91.75,391.94 91.8,391.12 91.85,390.31 91.9,389.5 91.95,388.92 92,388.33 92.05,387.75 92.1,387.17 92.15,386.58 92.2,386 92.25,384.38 92.3,382.75 92.35,381.12 92.4,379.5 92.45,377.88 92.5,376.25 92.55,374.62 92.6,373 92.65,371.88 92.7,370.75 92.75,369.62 92.8,368.5 92.85,367.38 92.9,366.25 92.95,365.12 93,364 93.05,363.83 93.1,363.67 93.15,363.5 93.2,363.33 93.25,363.17 93.3,363 93.35,363.17 93.4,363.33 93.45,363.5 93.5,363.67 93.55,363.83 93.6,364 93.65,365.12 93.7,366.25 93.75,367.38 93.8,368.5 93.85,369.62 93.9,370.75 93.95,371.88 94,373 94.05,374.62 94.1,376.25 94.15,377.88 94.2,379.5 94.25,381.12 94.3,382.75 94.35,384.38 94.4,386 94.45,386.58 94.5,387.17 94.55,387.75 94.6,388.33 94.65,388.92 94.7,389.5 94.75,390.31 94.8,391.12 94.85,391.94 94.9,392.75 94.95,393.56 95,394.38 95.05,395.19 95.1,396 95.15,397.5 95.2,399 95.25,400.5 95.3,402 95.35,403.5 95.4,405" stroke="#F7851A" stroke-width="1.3" fill="none" stroke-linejoin="round"/>
<path d="M618.7,381.93 618.75,381.77 618.8,381.61 618.85,381.45 618.9,381.29 618.95,381.12 619,380.96 619.05,380.8 619.1,380.64 619.15,380.48 619.2,380.32 619.25,380.16 619.3,380 619.35,379.29 619.4,378.57 619.45,377.86 619.5,377.14 619.55,376.43 619.6,375.71 619.65,375 619.7,374.29 619.75,373.57 619.8,372.86 619.85,372.14 619.9,371.43 619.95,370.71 620,370 620.05,368.83 620.1,367.67 620.15,366.5 620.2,365.33 620.25,364.17 620.3,363 620.35,361.83 620.4,360.67 620.45,359.5 620.5,358.33 620.55,357.17 620.6,356 620.65,355.79 620.7,355.57 620.75,355.36 620.8,355.14 620.85,354.93 620.9,354.71 620.95,354.5 621,354.29 621.05,354.07 621.1,353.86 621.15,353.64 621.2,353.43 621.25,353.21 621.3,353 621.35,352.2 621.4,351.4 621.45,350.6 621.5,349.8 621.55,349 621.6,348.2 621.65,347.4 621.7,346.6 621.75,345.8 621.8,345 621.85,343.8 621.9,342.6 621.95,341.4 622,340.2 622.05,339 622.1,337.8 622.15,336.6 622.2,335.4 622.25,334.2 622.3,333 622.35,332.87 622.4,332.74 622.45,332.61 622.5,332.48 622.55,332.35 622.6,332.22 622.65,332.09 622.7,331.96 622.75,331.83 622.8,331.7 622.85,331.83 622.9,331.96 622.95,332.09 623,332.22 623.05,332.35 623.1,332.48 623.15,332.61 623.2,332.74 623.25,332.87 623.3,333 623.35,334.2 623.4,335.4 623.45,336.6 623.5,337.8 623.55,339 623.6,340.2 623.65,341.4 623.7,342.6 623.75,343.8 623.8,345 623.85,345.8 623.9,346.6 623.95,347.4 624,348.2 624.05,349 624.1,349.8 624.15,350.6 624.2,351.4 624.25,352.2 624.3,353 624.35,353.21 624.4,353.43 624.45,353.64 624.5,353.86 624.55,354.07 624.6,354.29 624.65,354.5 624.7,354.71 624.75,354.93 624.8,355.14 624.85,355.36 624.9,355.57 624.95,355.79 625,356 625.05,357.17 625.1,358.33 625.15,359.5 625.2,360.67 625.25,361.83 625.3,363 625.35,364.17 625.4,365.33 625.45,366.5 625.5,367.67 625.55,368.83 625.6,370 625.65,370.71 625.7,371.43 625.75,372.14 625.8,372.86 625.85,373.57 625.9,374.29 625.95,375 626,375.71 626.05,376.43 626.1,377.14 626.15,377.86 626.2,378.57 626.25,379.29 626.3,380 626.35,380.16 626.4,380.32 626.45,380.48 626.5,380.64 626.55,380.8 626.6,380.96 626.65,381.12 626.7,381.29 626.75,381.45 626.8,381.61 626.85,381.77 626.9,381.93" stroke="#F7851A" stroke-width="1.3" fill="none" stroke-linejoin="round"/>
<path d="M323.1,378 323.15,377.25 323.2,376.5 323.25,375.75 323.3,375 323.35,374.25 323.4,373.5 323.45,372.75 323.5,372 323.55,371.15 323.6,370.3 323.65,369.45 323.7,368.6 323.75,367.75 323.8,366.9 323.85,366.05 323.9,365.2 323.95,364.35 324,363.5 324.05,363.75 324.1,364 324.15,364.25 324.2,364.5 324.25,364.75 324.3,365 324.35,365.25 324.4,365.5 324.45,365.75 324.5,366 324.55,365.81 324.6,365.62 324.65,365.44 324.7,365.25 324.75,365.06 324.8,364.88 324.85,364.69 324.9,364.5 324.95,364.25 325,364 325.05,363.75 325.1,363.5 325.15,363.25 325.2,363 325.25,362.75 325.3,362.5 325.35,362.25 325.4,362 325.45,357.75 325.5,353.5 325.55,349.25 325.6,345 325.65,337.25 325.7,329.5 325.75,321.75 325.8,314 325.85,312.65 325.9,311.3 325.95,309.95 326,308.6 326.05,309.95 326.1,311.3 326.15,312.65 326.2,314 326.25,321.75 326.3,329.5 326.35,337.25 326.4,345 326.45,349.25 326.5,353.5 326.55,357.75 326.6,362 326.65,362.25 326.7,362.5 326.75,362.75 326.8,363 326.85,363.25 326.9,363.5 326.95,363.75 327,364 327.05,364.25 327.1,364.5 327.15,364.69 327.2,364.88 327.25,365.06 327.3,365.25 327.35,365.44 327.4,365.62 327.45,365.81 327.5,366 327.55,365.75 327.6,365.5 327.65,365.25 327.7,365 327.75,364.75 327.8,364.5 327.85,364.25 327.9,364 327.95,363.75 328,363.5 328.05,364.35 328.1,365.2 328.15,366.05 328.2,366.9 328.25,367.75 328.3,368.6 328.35,369.45 328.4,370.3 328.45,371.15 328.5,372 328.55,372.75 328.6,373.5 328.65,374.25 328.7,375 328.75,375.75 328.8,376.5 328.85,377.25 328.9,378" stroke="#F7851A" stroke-width="1.1" fill="none" stroke-linejoin="round"/>
</g>
<rect x="87.3" y="170.5" width="12.4" height="72.6" fill="none" stroke="#999" stroke-width="0.6" stroke-dasharray="0.8,1"/>
<line x1="99.7" y1="207" x2="120.5" y2="203.2" stroke="#888" stroke-width="0.6" stroke-dasharray="0.8,1"/>
<rect x="617.2" y="206.5" width="12.4" height="73.1" fill="none" stroke="#999" stroke-width="0.6" stroke-dasharray="0.8,1"/>
<line x1="591.7" y1="203.8" x2="617.2" y2="243.1" stroke="#888" stroke-width="0.6" stroke-dasharray="0.8,1"/>
<rect x="87.3" y="344.5" width="12.4" height="73.3" fill="none" stroke="#999" stroke-width="0.6" stroke-dasharray="0.8,1"/>
<line x1="99.7" y1="379.1" x2="120.6" y2="339" stroke="#888" stroke-width="0.6" stroke-dasharray="0.8,1"/>
<rect x="617.2" y="320.7" width="12.4" height="73.5" fill="none" stroke="#999" stroke-width="0.6" stroke-dasharray="0.8,1"/>
<line x1="591.7" y1="340.2" x2="617.2" y2="357.2" stroke="#888" stroke-width="0.6" stroke-dasharray="0.8,1"/>
<rect x="120.5" y="168.4" width="154.1" height="68.9" fill="#fff" stroke="#7A7A7A" stroke-width="0.9"/>
<path d="M120.5,179.95h1.8M274.6,179.95h-1.8M120.5,191.5h1.8M274.6,191.5h-1.8M120.5,203.05h1.8M274.6,203.05h-1.8M120.5,214.6h1.8M274.6,214.6h-1.8M120.5,226.15h1.8M274.6,226.15h-1.8M139.8,237.3v-1.8M139.8,168.4v1.8M159.1,237.3v-1.8M159.1,168.4v1.8M178.4,237.3v-1.8M178.4,168.4v1.8M197.7,237.3v-1.8M197.7,168.4v1.8M217,237.3v-1.8M217,168.4v1.8M236.3,237.3v-1.8M236.3,168.4v1.8M255.6,237.3v-1.8M255.6,168.4v1.8" stroke="#7A7A7A" stroke-width="0.7" fill="none"/>
<rect x="438" y="169" width="153.7" height="68.8" fill="#fff" stroke="#7A7A7A" stroke-width="0.9"/>
<path d="M438,180.55h1.8M591.7,180.55h-1.8M438,192.1h1.8M591.7,192.1h-1.8M438,203.65h1.8M591.7,203.65h-1.8M438,215.2h1.8M591.7,215.2h-1.8M438,226.75h1.8M591.7,226.75h-1.8M453.4,237.8v-1.8M453.4,169v1.8M468.8,237.8v-1.8M468.8,169v1.8M484.2,237.8v-1.8M484.2,169v1.8M499.6,237.8v-1.8M499.6,169v1.8M515,237.8v-1.8M515,169v1.8M530.4,237.8v-1.8M530.4,169v1.8M545.8,237.8v-1.8M545.8,169v1.8M561.2,237.8v-1.8M561.2,169v1.8M576.6,237.8v-1.8M576.6,169v1.8" stroke="#7A7A7A" stroke-width="0.7" fill="none"/>
<rect x="120.6" y="304.6" width="153.9" height="68.6" fill="#fff" stroke="#7A7A7A" stroke-width="0.9"/>
<path d="M120.6,316.15h1.8M274.5,316.15h-1.8M120.6,327.7h1.8M274.5,327.7h-1.8M120.6,339.25h1.8M274.5,339.25h-1.8M120.6,350.8h1.8M274.5,350.8h-1.8M120.6,362.35h1.8M274.5,362.35h-1.8M139.9,373.2v-1.8M139.9,304.6v1.8M159.2,373.2v-1.8M159.2,304.6v1.8M178.5,373.2v-1.8M178.5,304.6v1.8M197.8,373.2v-1.8M197.8,304.6v1.8M217.1,373.2v-1.8M217.1,304.6v1.8M236.4,373.2v-1.8M236.4,304.6v1.8M255.7,373.2v-1.8M255.7,304.6v1.8" stroke="#7A7A7A" stroke-width="0.7" fill="none"/>
<rect x="437.6" y="304.5" width="154.1" height="68.5" fill="#fff" stroke="#7A7A7A" stroke-width="0.9"/>
<path d="M437.6,316.05h1.8M591.7,316.05h-1.8M437.6,327.6h1.8M591.7,327.6h-1.8M437.6,339.15h1.8M591.7,339.15h-1.8M437.6,350.7h1.8M591.7,350.7h-1.8M437.6,362.25h1.8M591.7,362.25h-1.8M453,373v-1.8M453,304.5v1.8M468.4,373v-1.8M468.4,304.5v1.8M483.8,373v-1.8M483.8,304.5v1.8M499.2,373v-1.8M499.2,304.5v1.8M514.6,373v-1.8M514.6,304.5v1.8M530,373v-1.8M530,304.5v1.8M545.4,373v-1.8M545.4,304.5v1.8M560.8,373v-1.8M560.8,304.5v1.8M576.2,373v-1.8M576.2,304.5v1.8" stroke="#7A7A7A" stroke-width="0.7" fill="none"/>
<path d="M120.6,228.6 121.25,228.57 122.12,228.53 123.17,228.49 124.36,228.42 125.65,228.33 127,228.2 128.54,228.03 130.32,227.81 132.2,227.57 134.05,227.32 135.73,227.06 137.1,226.8 138.1,226.57 138.81,226.37 139.36,226.16 139.84,225.92 140.39,225.61 141.1,225.2 141.95,224.68 142.84,224.08 143.79,223.41 144.8,222.7 145.9,221.95 147.1,221.2 148.47,220.44 150.03,219.64 151.66,218.82 153.29,217.98 154.8,217.1 156.1,216.2 157.19,215.21 158.14,214.11 158.97,212.98 159.73,211.9 160.43,210.95 161.1,210.2 161.71,209.68 162.21,209.33 162.67,209.11 163.11,208.96 163.57,208.84 164.1,208.7 164.72,208.57 165.4,208.48 166.11,208.42 166.81,208.37 167.45,208.31 168,208.2 168.42,208.07 168.74,207.95 169,207.81 169.26,207.64 169.58,207.41 170,207.1 170.56,206.71 171.24,206.26 171.96,205.76 172.69,205.2 173.35,204.62 173.9,204 174.32,203.38 174.66,202.74 174.94,202.07 175.19,201.34 175.43,200.52 175.7,199.6 175.99,198.52 176.27,197.29 176.55,195.98 176.83,194.65 177.11,193.37 177.4,192.2 177.7,191.12 178,190.08 178.3,189.08 178.6,188.14 178.9,187.28 179.2,186.5 179.48,185.81 179.76,185.2 180.02,184.66 180.3,184.19 180.59,183.77 180.9,183.4 181.23,183.08 181.58,182.8 181.94,182.59 182.31,182.43 182.7,182.33 183.1,182.3 183.52,182.35 183.97,182.48 184.42,182.67 184.89,182.9 185.35,183.15 185.8,183.4 186.24,183.7 186.67,184.08 187.11,184.48 187.54,184.84 187.97,185.1 188.4,185.2 188.83,185.1 189.27,184.84 189.7,184.48 190.13,184.08 190.57,183.7 191,183.4 191.43,183.14 191.86,182.88 192.29,182.64 192.73,182.44 193.16,182.32 193.6,182.3 194.04,182.41 194.48,182.64 194.93,182.95 195.37,183.29 195.83,183.62 196.3,183.9 196.79,184.16 197.29,184.45 197.8,184.73 198.31,184.97 198.81,185.14 199.3,185.2 199.77,185.13 200.23,184.94 200.68,184.67 201.12,184.39 201.56,184.11 202,183.9 202.43,183.73 202.86,183.56 203.27,183.4 203.7,183.28 204.14,183.21 204.6,183.2 205.09,183.29 205.61,183.46 206.15,183.69 206.69,183.93 207.21,184.14 207.7,184.3 208.17,184.42 208.62,184.53 209.06,184.62 209.48,184.67 209.9,184.67 210.3,184.6 210.69,184.43 211.06,184.16 211.43,183.84 211.78,183.51 212.14,183.22 212.5,183 212.86,182.84 213.22,182.7 213.57,182.59 213.94,182.53 214.31,182.53 214.7,182.6 215.12,182.74 215.57,182.93 216.03,183.18 216.49,183.49 216.91,183.86 217.3,184.3 217.64,184.82 217.94,185.42 218.22,186.08 218.49,186.79 218.74,187.54 219,188.3 219.25,189.09 219.49,189.91 219.72,190.77 219.95,191.66 220.18,192.57 220.4,193.5 220.62,194.49 220.83,195.54 221.03,196.62 221.24,197.69 221.46,198.69 221.7,199.6 221.95,200.41 222.2,201.16 222.47,201.84 222.75,202.48 223.06,203.06 223.4,203.6 223.77,204.07 224.15,204.47 224.56,204.81 225,205.13 225.48,205.45 226,205.8 226.58,206.18 227.21,206.59 227.89,206.99 228.59,207.37 229.29,207.71 230,208 230.71,208.18 231.43,208.26 232.16,208.3 232.9,208.36 233.65,208.51 234.4,208.8 235.16,209.26 235.94,209.84 236.73,210.5 237.5,211.21 238.27,211.92 239,212.6 239.7,213.28 240.38,214.01 241.04,214.74 241.69,215.44 242.34,216.07 243,216.6 243.66,216.99 244.3,217.26 244.94,217.46 245.59,217.65 246.28,217.88 247,218.2 247.76,218.61 248.55,219.08 249.37,219.59 250.21,220.12 251.09,220.66 252,221.2 252.97,221.76 253.99,222.37 255.05,222.99 256.11,223.59 257.13,224.13 258.1,224.6 258.99,224.98 259.81,225.29 260.61,225.55 261.4,225.78 262.22,225.99 263.1,226.2 264.05,226.4 265.05,226.56 266.08,226.71 267.11,226.86 268.12,227.02 269.1,227.2 270.1,227.43 271.14,227.69 272.18,227.96 273.12,228.22 273.92,228.44 274.5,228.6" stroke="#1BACF6" stroke-width="1.25" fill="none" stroke-linejoin="round"/>
<path d="M438,226.89 438.71,227.17 439.63,226.86 440.71,227.03 441.93,226.92 443.24,226.1 444.62,225.89 446.01,226.71 447.4,225.85 448.74,225.65 450,226.39 451.24,225.59 452.53,225.86 453.85,225.25 455.17,225.26 456.49,224.48 457.77,224.86 458.99,224.93 460.13,224.3 461.18,224.33 462.1,224.01 462.88,223.01 463.54,223.54 464.09,223.01 464.56,222.32 464.98,221.65 465.37,222.31 465.75,221.52 466.15,221.52 466.59,221.46 467.1,221.06 467.65,221.15 468.19,220.42 468.74,220.84 469.29,220.37 469.86,220.94 470.44,220.4 471.06,220.38 471.7,220.35 472.38,220.29 473.1,220.2 473.9,220.08 474.79,219.95 475.74,219.8 476.73,219.65 477.74,219.48 478.73,219.31 479.67,219.13 480.55,218.96 481.34,218.78 482,218.6 482.54,218.44 482.98,218.29 483.34,218.16 483.63,218.02 483.88,217.88 484.1,217.71 484.3,217.52 484.51,217.3 484.73,217.03 485,216.7 485.29,216.32 485.59,215.91 485.9,215.46 486.2,214.97 486.49,214.46 486.78,213.91 487.06,213.34 487.33,212.75 487.57,212.13 487.8,211.5 488,210.84 488.18,210.15 488.35,209.43 488.5,208.68 488.64,207.91 488.77,207.13 488.9,206.33 489.03,205.52 489.16,204.71 489.3,203.9 489.44,203.05 489.59,202.15 489.73,201.21 489.87,200.25 490.01,199.3 490.14,198.37 490.28,197.49 490.42,196.66 490.56,195.93 490.7,195.3 490.84,194.78 490.96,194.34 491.09,193.98 491.21,193.69 491.34,193.44 491.47,193.23 491.61,193.04 491.76,192.86 491.92,192.69 492.1,192.5 492.3,192.32 492.52,192.17 492.75,192.04 492.99,191.93 493.24,191.84 493.49,191.75 493.75,191.65 494,191.55 494.26,191.44 494.5,191.3 494.74,191.13 494.97,190.92 495.19,190.68 495.42,190.44 495.64,190.2 495.88,189.98 496.11,189.78 496.36,189.63 496.62,189.53 496.9,189.5 497.19,189.55 497.5,189.67 497.82,189.84 498.16,190.06 498.49,190.31 498.84,190.57 499.18,190.83 499.53,191.08 499.87,191.31 500.2,191.5 500.53,191.67 500.86,191.84 501.19,192.01 501.52,192.17 501.85,192.32 502.18,192.46 502.51,192.59 502.84,192.69 503.17,192.76 503.5,192.8 503.83,192.81 504.16,192.79 504.49,192.75 504.82,192.68 505.15,192.6 505.48,192.5 505.81,192.39 506.14,192.26 506.47,192.13 506.8,192 507.13,191.84 507.46,191.63 507.79,191.39 508.12,191.14 508.44,190.88 508.77,190.64 509.1,190.43 509.43,190.25 509.77,190.14 510.1,190.1 510.43,190.14 510.77,190.24 511.1,190.41 511.43,190.61 511.77,190.84 512.11,191.09 512.45,191.35 512.79,191.59 513.14,191.81 513.5,192 513.87,192.17 514.24,192.36 514.63,192.55 515.02,192.74 515.41,192.93 515.8,193.09 516.18,193.22 516.57,193.33 516.94,193.39 517.3,193.4 517.65,193.36 518,193.26 518.34,193.11 518.68,192.94 519.01,192.74 519.34,192.52 519.66,192.3 519.98,192.08 520.29,191.88 520.6,191.7 520.9,191.52 521.18,191.31 521.46,191.09 521.73,190.86 522,190.64 522.27,190.45 522.54,190.28 522.82,190.16 523.1,190.1 523.4,190.1 523.71,190.18 524.03,190.34 524.37,190.57 524.7,190.83 525.04,191.13 525.38,191.44 525.72,191.75 526.06,192.04 526.38,192.29 526.7,192.5 527.01,192.67 527.31,192.85 527.6,193.01 527.89,193.16 528.18,193.3 528.47,193.42 528.75,193.51 529.03,193.57 529.32,193.61 529.6,193.6 529.88,193.55 530.14,193.47 530.4,193.34 530.66,193.19 530.91,193.02 531.18,192.83 531.45,192.62 531.75,192.41 532.06,192.2 532.4,192 532.77,191.77 533.18,191.5 533.61,191.2 534.06,190.89 534.52,190.58 534.98,190.29 535.44,190.03 535.88,189.82 536.3,189.67 536.7,189.6 537.07,189.62 537.44,189.7 537.79,189.85 538.14,190.05 538.47,190.28 538.79,190.53 539.11,190.79 539.41,191.05 539.71,191.29 540,191.5 540.28,191.67 540.55,191.8 540.82,191.92 541.07,192.03 541.32,192.15 541.56,192.29 541.78,192.48 542,192.71 542.2,193.02 542.4,193.4 542.58,193.86 542.74,194.39 542.89,194.97 543.03,195.6 543.16,196.28 543.29,196.99 543.41,197.73 543.54,198.5 543.66,199.3 543.8,200.1 543.94,200.95 544.06,201.88 544.19,202.85 544.31,203.86 544.44,204.89 544.57,205.91 544.71,206.91 544.86,207.87 545.02,208.78 545.2,209.6 545.4,210.37 545.62,211.1 545.85,211.81 546.09,212.49 546.34,213.12 546.59,213.73 546.85,214.29 547.1,214.8 547.36,215.28 547.6,215.7 547.82,216.05 548.02,216.32 548.21,216.53 548.39,216.68 548.57,216.81 548.78,216.92 549.02,217.04 549.29,217.18 549.61,217.36 550,217.6 550.43,217.9 550.87,218.25 551.35,218.64 551.85,219.04 552.4,219.46 553,219.87 553.65,220.26 554.36,220.62 555.14,220.94 556,221.2 556.97,221.4 558.08,221.54 559.28,221.65 560.56,221.72 561.87,221.78 563.19,221.82 564.5,221.88 565.75,221.95 566.93,222.05 568,222.2 568.97,222.39 569.87,222.6 570.72,222.84 571.53,223.1 572.3,223.36 573.05,223.63 573.8,223.89 574.55,224.15 575.31,224.39 576.1,224.6 576.91,224.8 577.71,224.99 578.52,225.18 579.33,225.36 580.13,225.52 580.93,225.68 581.73,225.83 582.53,225.97 583.32,226.09 584.1,226.2 584.91,226.29 585.77,226.36 586.65,226.42 587.53,226.47 588.4,226.5 589.23,226.53 589.99,226.55 590.67,226.56 591.25,226.58 591.7,226.6" stroke="#1BACF6" stroke-width="1.25" fill="none" stroke-linejoin="round"/>
<path d="M120.6,364.58 120.85,363.56 121.17,363.29 121.55,363.01 121.97,363.35 122.42,362.39 122.91,362.12 123.42,361.33 123.95,361.07 124.48,360.5 125,360.05 125.52,359.89 126.03,359.5 126.55,359.44 127.09,358.83 127.64,358.69 128.23,357.87 128.85,357.47 129.51,357.06 130.23,356.64 131,356.2 131.84,355.73 132.76,355.23 133.73,354.71 134.75,354.18 135.8,353.64 136.87,353.1 137.95,352.58 139.02,352.09 140.08,351.62 141.1,351.2 142.1,350.82 143.07,350.47 144.04,350.14 145.01,349.84 145.98,349.55 146.96,349.28 147.96,349.01 148.97,348.74 150.02,348.47 151.1,348.2 152.24,347.92 153.45,347.63 154.71,347.35 156,347.06 157.29,346.79 158.57,346.52 159.81,346.26 160.99,346.02 162.1,345.8 163.1,345.6 164.01,345.43 164.85,345.3 165.64,345.2 166.37,345.11 167.06,345.03 167.7,344.95 168.31,344.86 168.89,344.74 169.45,344.59 170,344.4 170.52,344.17 171.01,343.9 171.47,343.61 171.9,343.29 172.29,342.96 172.66,342.62 173.01,342.28 173.33,341.94 173.62,341.61 173.9,341.3 174.14,341.01 174.34,340.74 174.51,340.49 174.64,340.25 174.76,339.99 174.87,339.73 174.97,339.43 175.07,339.1 175.18,338.73 175.3,338.3 175.43,337.81 175.56,337.26 175.68,336.66 175.81,336.03 175.93,335.37 176.06,334.7 176.18,334.02 176.32,333.36 176.45,332.71 176.6,332.1 176.75,331.5 176.91,330.9 177.06,330.3 177.23,329.7 177.39,329.11 177.56,328.53 177.74,327.96 177.92,327.42 178.11,326.89 178.3,326.4 178.5,325.93 178.7,325.46 178.91,325.02 179.12,324.59 179.34,324.18 179.57,323.79 179.79,323.42 180.03,323.08 180.26,322.78 180.5,322.5 180.74,322.25 180.99,322.04 181.25,321.85 181.51,321.69 181.77,321.55 182.03,321.44 182.3,321.35 182.57,321.28 182.83,321.23 183.1,321.2 183.37,321.2 183.64,321.24 183.91,321.3 184.18,321.39 184.45,321.5 184.72,321.62 184.99,321.75 185.26,321.87 185.53,321.99 185.8,322.1 186.06,322.21 186.33,322.34 186.59,322.48 186.85,322.62 187.11,322.76 187.36,322.89 187.62,323.01 187.88,323.1 188.14,323.17 188.4,323.2 188.66,323.19 188.93,323.15 189.19,323.07 189.46,322.98 189.72,322.87 189.99,322.75 190.25,322.63 190.51,322.51 190.76,322.39 191,322.3 191.24,322.21 191.47,322.1 191.69,321.99 191.91,321.88 192.12,321.77 192.34,321.67 192.55,321.59 192.77,321.53 192.98,321.5 193.2,321.5 193.42,321.54 193.63,321.6 193.85,321.69 194.06,321.81 194.27,321.94 194.49,322.08 194.71,322.23 194.93,322.39 195.16,322.55 195.4,322.7 195.64,322.87 195.89,323.07 196.15,323.29 196.41,323.53 196.68,323.76 196.94,323.97 197.21,324.17 197.47,324.33 197.74,324.44 198,324.5 198.26,324.49 198.52,324.43 198.78,324.33 199.04,324.18 199.29,324.02 199.55,323.84 199.81,323.66 200.07,323.48 200.34,323.33 200.6,323.2 200.87,323.09 201.14,322.97 201.41,322.86 201.68,322.75 201.95,322.64 202.22,322.55 202.49,322.46 202.76,322.39 203.03,322.34 203.3,322.3 203.56,322.28 203.82,322.28 204.07,322.29 204.32,322.31 204.58,322.34 204.83,322.39 205.09,322.45 205.35,322.52 205.62,322.61 205.9,322.7 206.19,322.82 206.5,322.99 206.81,323.19 207.13,323.4 207.45,323.61 207.77,323.82 208.09,324 208.4,324.15 208.71,324.26 209,324.3 209.28,324.28 209.55,324.2 209.82,324.08 210.08,323.92 210.33,323.74 210.58,323.55 210.84,323.36 211.09,323.18 211.34,323.02 211.6,322.9 211.86,322.8 212.13,322.7 212.39,322.61 212.66,322.52 212.92,322.44 213.19,322.38 213.45,322.33 213.71,322.3 213.96,322.29 214.2,322.3 214.44,322.33 214.67,322.37 214.89,322.42 215.11,322.48 215.32,322.57 215.54,322.68 215.75,322.81 215.97,322.97 216.18,323.17 216.4,323.4 216.62,323.66 216.85,323.96 217.07,324.28 217.3,324.63 217.52,325.01 217.75,325.41 217.97,325.84 218.19,326.3 218.4,326.79 218.6,327.3 218.8,327.85 218.99,328.46 219.19,329.1 219.37,329.77 219.56,330.46 219.74,331.17 219.91,331.87 220.08,332.57 220.24,333.25 220.4,333.9 220.55,334.54 220.69,335.19 220.81,335.85 220.94,336.5 221.06,337.14 221.18,337.77 221.3,338.38 221.42,338.95 221.56,339.5 221.7,340 221.85,340.47 222,340.9 222.15,341.32 222.31,341.7 222.47,342.06 222.64,342.4 222.81,342.71 223,343 223.19,343.26 223.4,343.5 223.62,343.71 223.84,343.89 224.07,344.04 224.31,344.17 224.56,344.27 224.82,344.35 225.09,344.43 225.38,344.49 225.68,344.55 226,344.6 226.32,344.63 226.62,344.64 226.93,344.61 227.24,344.57 227.57,344.53 227.94,344.49 228.36,344.47 228.83,344.48 229.37,344.52 230,344.6 230.75,344.74 231.64,344.92 232.64,345.14 233.7,345.39 234.79,345.65 235.87,345.92 236.91,346.17 237.87,346.41 238.71,346.63 239.4,346.8 239.91,346.92 240.27,347 240.51,347.05 240.67,347.09 240.78,347.11 240.89,347.15 241.03,347.2 241.24,347.28 241.55,347.41 242,347.6 242.58,347.84 243.24,348.12 243.97,348.43 244.75,348.77 245.59,349.14 246.46,349.52 247.36,349.93 248.27,350.35 249.19,350.77 250.1,351.2 251.03,351.64 252.01,352.09 253.02,352.57 254.06,353.05 255.11,353.55 256.15,354.06 257.19,354.58 258.2,355.11 259.17,355.65 260.1,356.2 261,356.79 261.91,357.44 262.81,358.14 263.69,358.85 264.54,359.56 265.36,360.23 266.14,361.22 266.86,361.9 267.52,362.04 268.1,361.86 268.59,362.76 269,362.93 269.33,362.84 269.6,362.4 269.83,362.4 270.04,361.71 270.25,362.15 270.46,361.73 270.71,361.33 271,361.06 271.34,361.87 271.72,362.05 272.12,361.22 272.52,362.01 272.93,361.72 273.32,361.55 273.69,361.79 274.01,362.35 274.29,362.52 274.5,361.74" stroke="#F7851A" stroke-width="1.25" fill="none" stroke-linejoin="round"/>
<path d="M437.6,347.6 438.49,347.11 439.71,346.43 441.17,345.63 442.76,344.76 444.4,343.9 446,343.1 447.59,342.34 449.24,341.54 450.95,340.76 452.68,340 454.4,339.3 456.1,338.7 457.77,338.19 459.44,337.75 461.11,337.37 462.77,337.05 464.43,336.76 466.1,336.5 467.81,336.28 469.59,336.12 471.36,336 473.07,335.9 474.67,335.81 476.1,335.7 477.35,335.59 478.48,335.48 479.49,335.38 480.4,335.29 481.23,335.19 482,335.1 482.67,335.02 483.22,334.96 483.69,334.9 484.12,334.83 484.55,334.73 485,334.6 485.49,334.48 486,334.41 486.49,334.31 486.97,334.12 487.41,333.77 487.8,333.2 488.13,332.34 488.4,331.24 488.64,329.98 488.86,328.65 489.07,327.33 489.3,326.1 489.54,324.9 489.77,323.64 490.01,322.39 490.24,321.23 490.47,320.21 490.7,319.4 490.92,318.85 491.13,318.52 491.34,318.34 491.56,318.23 491.81,318.14 492.1,318 492.44,317.83 492.83,317.69 493.24,317.56 493.66,317.43 494.09,317.28 494.5,317.1 494.9,316.83 495.29,316.49 495.68,316.13 496.07,315.81 496.48,315.58 496.9,315.5 497.34,315.61 497.8,315.87 498.27,316.23 498.74,316.62 499.22,317 499.7,317.3 500.17,317.56 500.64,317.84 501.12,318.1 501.6,318.31 502.09,318.46 502.6,318.5 503.12,318.41 503.65,318.21 504.19,317.94 504.75,317.63 505.32,317.34 505.9,317.1 506.52,316.88 507.17,316.63 507.83,316.39 508.49,316.2 509.12,316.09 509.7,316.1 510.21,316.26 510.67,316.54 511.1,316.91 511.53,317.31 511.99,317.69 512.5,318 513.08,318.28 513.71,318.57 514.37,318.85 515.03,319.07 515.68,319.2 516.3,319.2 516.88,319.04 517.43,318.75 517.98,318.36 518.51,317.93 519.05,317.49 519.6,317.1 520.16,316.69 520.73,316.2 521.3,315.72 521.87,315.3 522.44,315 523,314.9 523.56,315.05 524.13,315.4 524.69,315.88 525.24,316.4 525.78,316.9 526.3,317.3 526.79,317.63 527.25,317.95 527.7,318.25 528.15,318.49 528.61,318.65 529.1,318.7 529.62,318.61 530.14,318.41 530.69,318.12 531.24,317.79 531.82,317.44 532.4,317.1 533.01,316.73 533.64,316.27 534.29,315.81 534.94,315.38 535.58,315.06 536.2,314.9 536.8,314.93 537.4,315.12 537.99,315.41 538.56,315.76 539.1,316.1 539.6,316.4 540.05,316.6 540.46,316.72 540.84,316.85 541.2,317.06 541.55,317.41 541.9,318 542.25,318.86 542.58,319.94 542.91,321.18 543.22,322.49 543.52,323.82 543.8,325.1 544.05,326.39 544.27,327.77 544.47,329.16 544.68,330.5 544.91,331.7 545.2,332.7 545.54,333.48 545.93,334.11 546.34,334.6 546.76,334.99 547.19,335.32 547.6,335.6 547.95,335.81 548.25,335.9 548.55,335.93 548.9,335.93 549.37,335.94 550,336 550.79,336.11 551.68,336.24 552.69,336.38 553.81,336.53 555.04,336.67 556.4,336.8 557.9,336.91 559.53,336.99 561.29,337.08 563.13,337.17 565.05,337.31 567,337.5 569.04,337.75 571.2,338.03 573.43,338.35 575.67,338.7 577.88,339.09 580,339.5 582.16,339.99 584.43,340.57 586.66,341.18 588.71,341.76 590.44,342.25 591.7,342.6" stroke="#F7851A" stroke-width="1.25" fill="none" stroke-linejoin="round"/>
<line x1="132.7" y1="171.8" x2="132.7" y2="187.8" stroke="#111" stroke-width="0.8"/>
<polygon points="132.7,190.6 131.14,186.92 134.26,186.92" fill="#111"/>
<polygon points="132.7,169 134.26,172.68 131.14,172.68" fill="#111"/>
<text x="135.1" y="184.1" font-size="11.5" font-weight="normal" fill="#333333" textLength="31.5" lengthAdjust="spacingAndGlyphs">20 dB</text>
<line x1="199.7" y1="215.2" x2="199.7" y2="191.1" stroke="#111" stroke-width="0.8"/>
<polygon points="199.7,188.3 201.26,191.98 198.14,191.98" fill="#111"/>
<text x="168.2" y="228.6" font-size="12" font-weight="normal" fill="#333333" textLength="62.8" lengthAdjust="spacingAndGlyphs">1551.06 nm</text>
<line x1="201" y1="173" x2="233.2" y2="173" stroke="#111" stroke-width="0.8"/>
<polygon points="236,173 232.32,174.56 232.32,171.44" fill="#111"/>
<polygon points="198.2,173 201.88,171.44 201.88,174.56" fill="#111"/>
<text x="221.3" y="186.1" font-size="11.5" font-weight="normal" fill="#333333" textLength="25.7" lengthAdjust="spacingAndGlyphs">1 nm</text>
<line x1="449.7" y1="172.4" x2="449.7" y2="188.4" stroke="#111" stroke-width="0.8"/>
<polygon points="449.7,191.2 448.14,187.52 451.26,187.52" fill="#111"/>
<polygon points="449.7,169.6 451.26,173.28 448.14,173.28" fill="#111"/>
<text x="452.1" y="183.7" font-size="9" font-weight="normal" fill="#333333" textLength="24.6" lengthAdjust="spacingAndGlyphs">20 dB</text>
<line x1="517.3" y1="215.8" x2="517.3" y2="198.6" stroke="#111" stroke-width="0.8"/>
<polygon points="517.3,195.8 518.86,199.48 515.74,199.48" fill="#111"/>
<text x="486.2" y="228.2" font-size="12" font-weight="normal" fill="#333333" textLength="62.2" lengthAdjust="spacingAndGlyphs">1980.58 nm</text>
<line x1="533.5" y1="173" x2="558.6" y2="173" stroke="#111" stroke-width="0.8"/>
<polygon points="561.4,173 557.72,174.56 557.72,171.44" fill="#111"/>
<polygon points="530.7,173 534.38,171.44 534.38,174.56" fill="#111"/>
<text x="541.3" y="186.1" font-size="11.5" font-weight="normal" fill="#333333" textLength="25.7" lengthAdjust="spacingAndGlyphs">1 nm</text>
<line x1="132.7" y1="308" x2="132.7" y2="324" stroke="#111" stroke-width="0.8"/>
<polygon points="132.7,326.8 131.14,323.12 134.26,323.12" fill="#111"/>
<polygon points="132.7,305.2 134.26,308.88 131.14,308.88" fill="#111"/>
<text x="135.1" y="320.3" font-size="11.5" font-weight="normal" fill="#333333" textLength="31.5" lengthAdjust="spacingAndGlyphs">20 dB</text>
<line x1="197.6" y1="353.2" x2="197.6" y2="333.6" stroke="#111" stroke-width="0.8"/>
<polygon points="197.6,330.8 199.16,334.48 196.04,334.48" fill="#111"/>
<text x="166.8" y="365.2" font-size="12" font-weight="normal" fill="#333333" textLength="62.5" lengthAdjust="spacingAndGlyphs">1551.06 nm</text>
<line x1="201" y1="309.4" x2="233.2" y2="309.4" stroke="#111" stroke-width="0.8"/>
<polygon points="236,309.4 232.32,310.96 232.32,307.84" fill="#111"/>
<polygon points="198.2,309.4 201.88,307.84 201.88,310.96" fill="#111"/>
<text x="220.9" y="322.5" font-size="11.5" font-weight="normal" fill="#333333" textLength="25.7" lengthAdjust="spacingAndGlyphs">1 nm</text>
<line x1="449.7" y1="307.9" x2="449.7" y2="323.9" stroke="#111" stroke-width="0.8"/>
<polygon points="449.7,326.7 448.14,323.02 451.26,323.02" fill="#111"/>
<polygon points="449.7,305.1 451.26,308.78 448.14,308.78" fill="#111"/>
<text x="452.1" y="319.2" font-size="9" font-weight="normal" fill="#333333" textLength="24.6" lengthAdjust="spacingAndGlyphs">20 dB</text>
<line x1="517.3" y1="335.8" x2="517.3" y2="323.7" stroke="#111" stroke-width="0.8"/>
<polygon points="517.3,320.9 518.86,324.58 515.74,324.58" fill="#111"/>
<text x="486.2" y="347.6" font-size="12" font-weight="normal" fill="#333333" textLength="62.2" lengthAdjust="spacingAndGlyphs">1980.58 nm</text>
<line x1="533.5" y1="369.2" x2="557.6" y2="369.2" stroke="#111" stroke-width="0.8"/>
<polygon points="560.4,369.2 556.72,370.76 556.72,367.64" fill="#111"/>
<polygon points="530.7,369.2 534.38,367.64 534.38,370.76" fill="#111"/>
<text x="533.3" y="364.2" font-size="11.5" font-weight="normal" fill="#333333" textLength="24.7" lengthAdjust="spacingAndGlyphs">1 nm</text>
</svg>
</body></html>
